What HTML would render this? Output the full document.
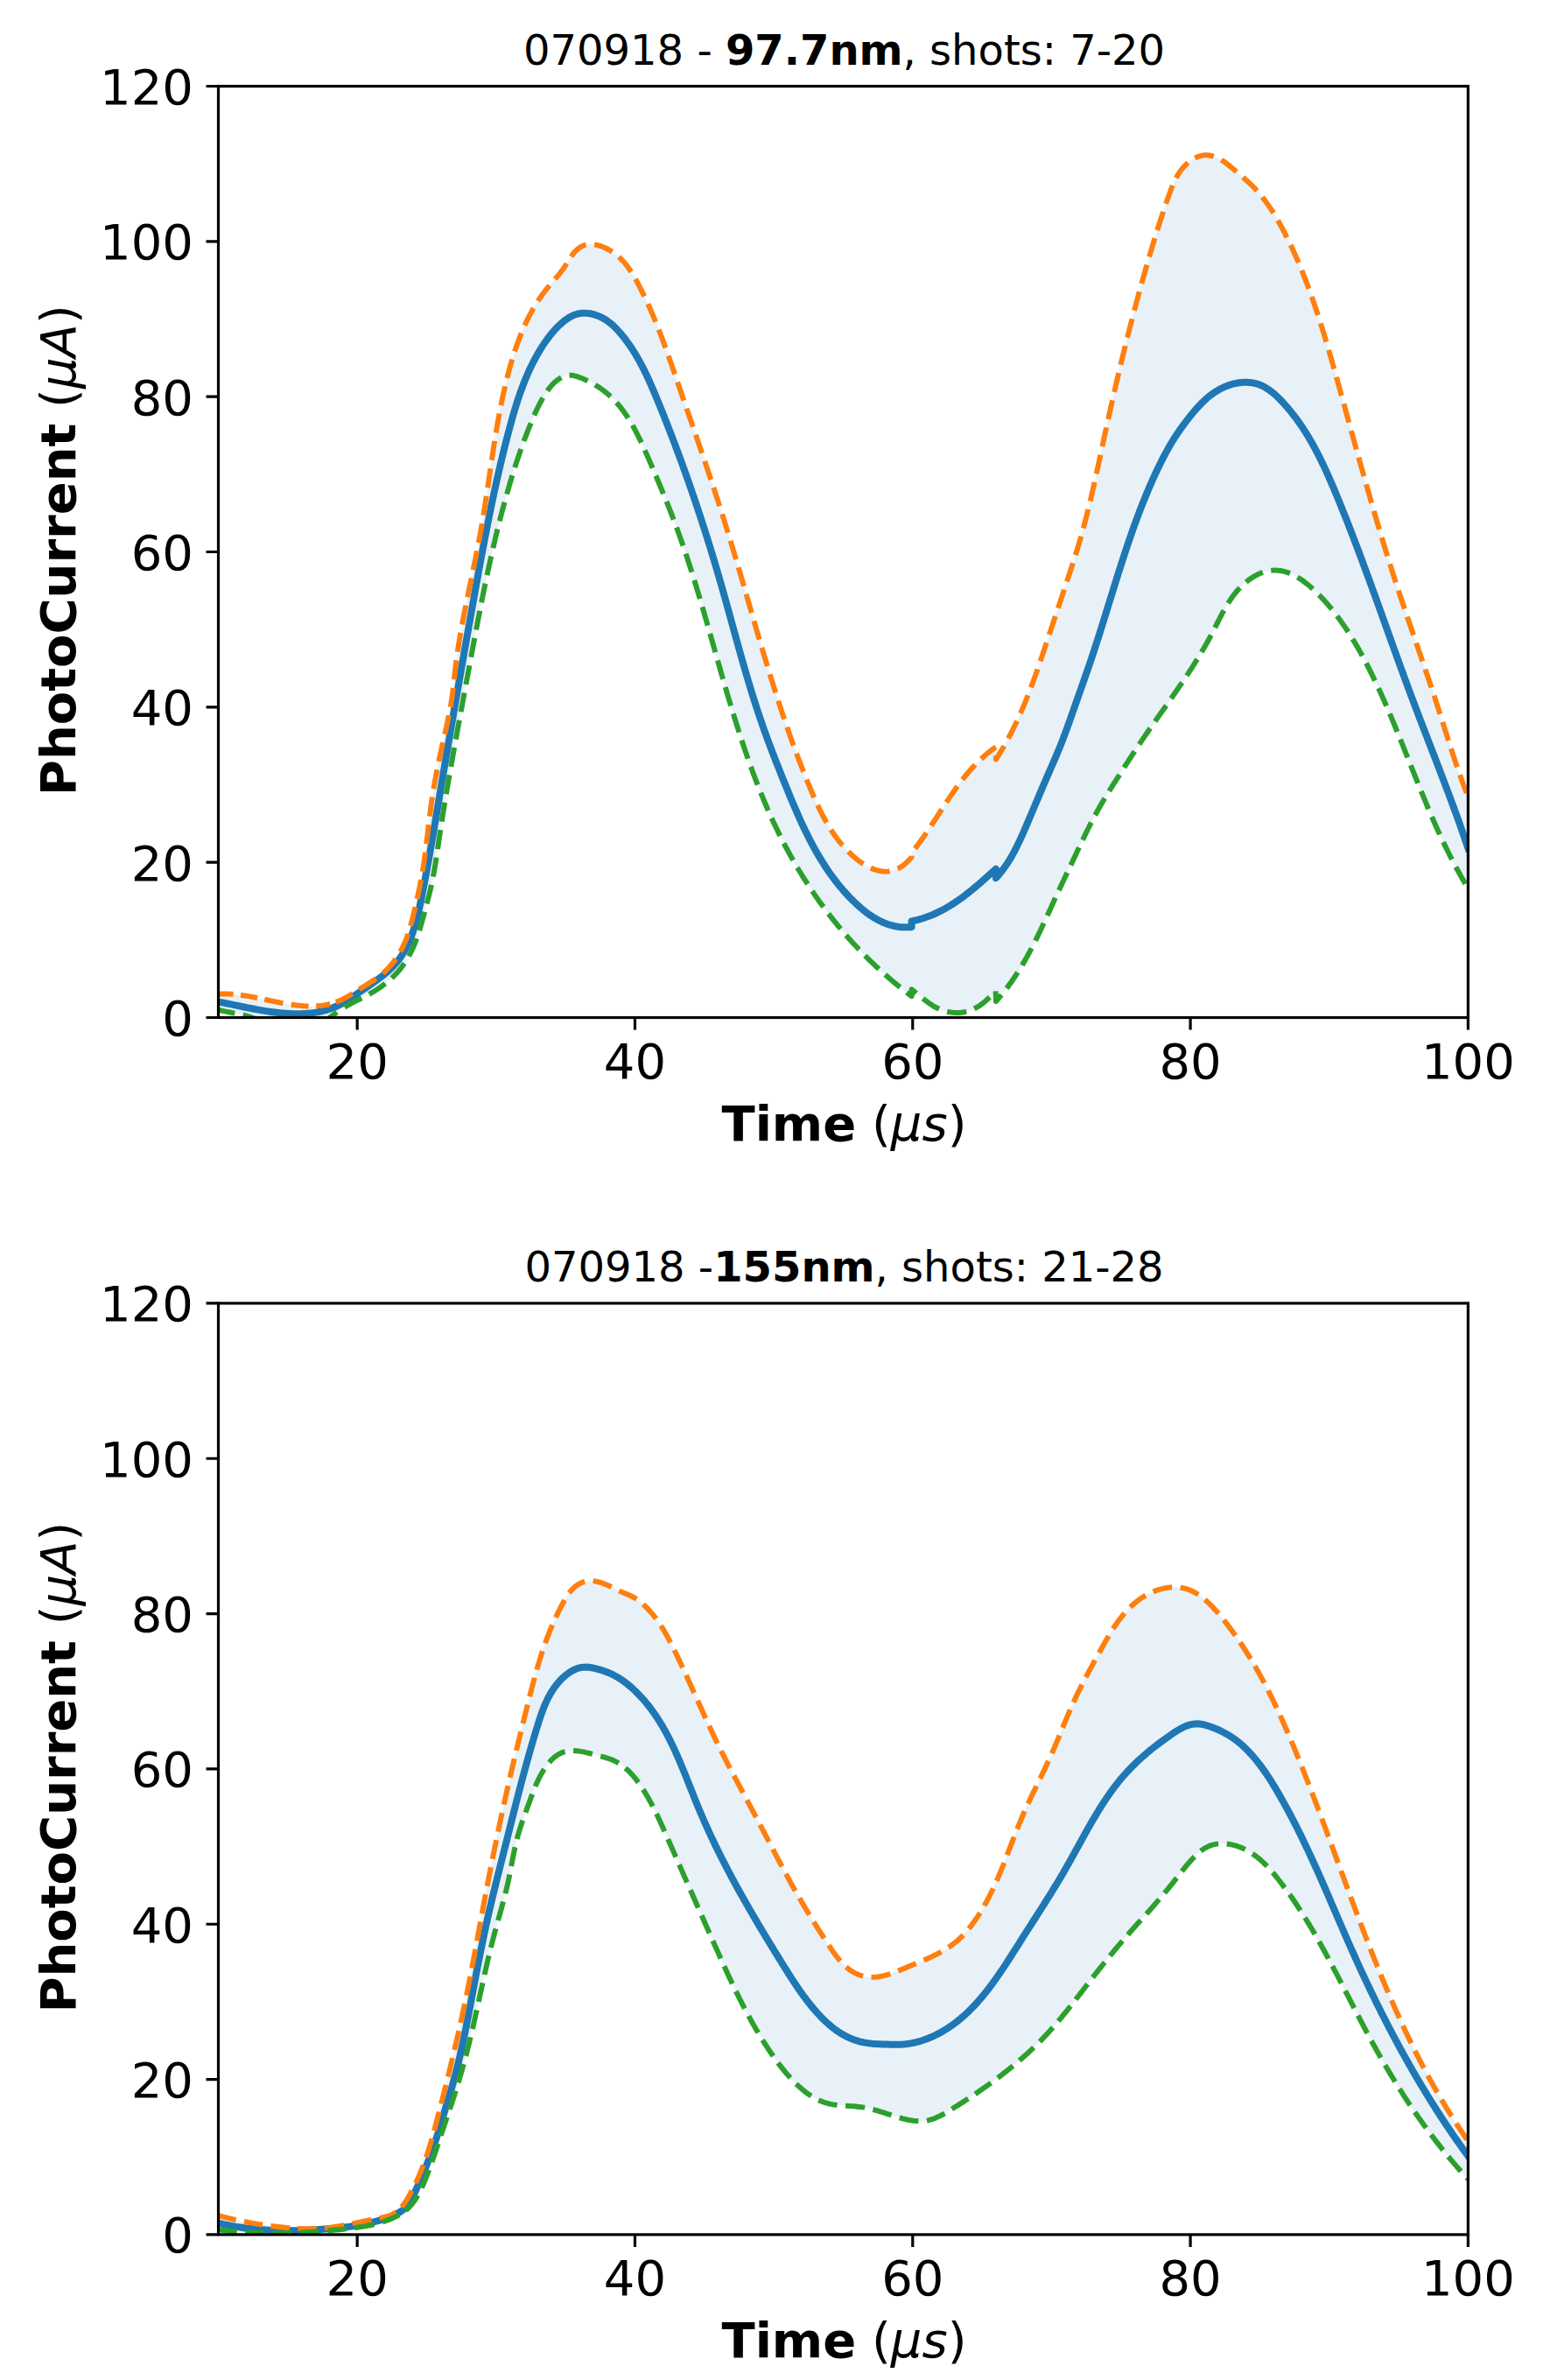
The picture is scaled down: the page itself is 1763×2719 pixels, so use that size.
<!DOCTYPE html>
<html lang="en"><head><meta charset="utf-8"><title>PhotoCurrent plots</title>
<style>html,body{margin:0;padding:0;background:#fff}svg{display:block}text{font-family:"DejaVu Sans","Liberation Sans",sans-serif;fill:#000}.b{font-weight:bold}.i{font-style:italic}</style></head><body>
<svg width="1763" height="2719" viewBox="0 0 1763 2719">
<rect width="1763" height="2719" fill="#fff"/>
<defs>
<clipPath id="c0"><rect x="249.50" y="98.50" width="1427.90" height="1064.00"/></clipPath>
<clipPath id="c1"><rect x="249.50" y="1488.90" width="1427.90" height="1064.00"/></clipPath>
</defs>
<g clip-path="url(#c0)" fill="none" stroke-linejoin="round">
<path d="M249.50 1135.76 L252.49 1135.56 L255.49 1135.46 L258.49 1135.46 L261.49 1135.54 L264.48 1135.70 L267.48 1135.92 L270.47 1136.22 L273.45 1136.57 L276.42 1136.96 L279.39 1137.41 L282.36 1137.89 L285.32 1138.41 L288.27 1138.95 L291.22 1139.52 L294.16 1140.11 L297.10 1140.71 L300.04 1141.32 L302.97 1141.94 L305.91 1142.56 L308.84 1143.19 L311.78 1143.80 L314.71 1144.41 L317.65 1145.01 L320.59 1145.59 L323.54 1146.14 L326.49 1146.68 L329.45 1147.18 L332.41 1147.65 L335.37 1148.08 L338.34 1148.47 L341.32 1148.81 L344.31 1149.09 L347.30 1149.32 L350.29 1149.48 L353.29 1149.58 L356.29 1149.59 L359.29 1149.52 L362.28 1149.36 L365.28 1149.11 L368.26 1148.75 L371.23 1148.29 L374.18 1147.71 L377.11 1147.01 L380.01 1146.19 L382.88 1145.24 L385.70 1144.17 L388.48 1142.97 L391.20 1141.67 L393.88 1140.28 L396.53 1138.83 L399.13 1137.32 L401.71 1135.76 L404.27 1134.18 L406.81 1132.58 L409.35 1130.97 L411.88 1129.37 L414.42 1127.78 L416.97 1126.20 L419.52 1124.62 L422.07 1123.02 L424.60 1121.40 L427.12 1119.74 L429.60 1118.04 L432.06 1116.28 L434.46 1114.44 L436.82 1112.53 L439.10 1110.53 L441.31 1108.44 L443.44 1106.27 L445.50 1104.02 L447.47 1101.70 L449.37 1099.32 L451.19 1096.88 L452.93 1094.38 L454.60 1091.83 L456.19 1089.23 L457.71 1086.58 L459.15 1083.89 L460.52 1081.16 L461.81 1078.39 L463.02 1075.58 L464.16 1072.75 L465.23 1069.89 L466.23 1067.01 L467.17 1064.12 L468.07 1061.22 L468.91 1058.31 L469.72 1055.40 L470.49 1052.48 L471.24 1049.56 L471.97 1046.64 L472.69 1043.72 L473.40 1040.80 L474.10 1037.88 L474.78 1034.95 L475.46 1032.02 L476.12 1029.09 L476.77 1026.15 L477.41 1023.21 L478.04 1020.27 L478.65 1017.33 L479.26 1014.39 L479.84 1011.44 L480.42 1008.49 L480.98 1005.54 L481.52 1002.58 L482.05 999.63 L482.56 996.67 L483.06 993.71 L483.55 990.75 L484.02 987.79 L484.47 984.83 L484.90 981.87 L485.32 978.91 L485.72 975.95 L486.12 972.93 L486.52 969.80 L486.92 966.59 L487.32 963.30 L487.72 959.94 L488.12 956.52 L488.52 953.07 L488.92 949.59 L489.32 946.12 L489.72 942.66 L490.12 939.24 L490.52 935.88 L490.92 932.59 L491.32 929.38 L491.72 926.26 L492.12 923.23 L492.53 920.25 L492.95 917.27 L493.38 914.29 L493.83 911.32 L494.29 908.35 L494.76 905.39 L495.24 902.42 L495.74 899.46 L496.24 896.51 L496.76 893.55 L497.29 890.60 L497.83 887.66 L498.38 884.71 L498.95 881.77 L499.52 878.82 L500.10 875.88 L500.70 872.95 L501.30 870.01 L501.91 867.08 L502.53 864.15 L503.16 861.22 L503.80 858.30 L504.45 855.37 L505.11 852.45 L505.77 849.52 L506.43 846.60 L507.10 843.67 L507.77 840.75 L508.43 837.82 L509.09 834.89 L509.75 831.96 L510.40 829.03 L511.04 826.09 L511.67 823.15 L512.28 820.21 L512.88 817.26 L513.47 814.31 L514.03 811.36 L514.58 808.41 L515.10 805.45 L515.59 802.49 L516.06 799.53 L516.50 796.58 L516.91 793.63 L517.31 790.53 L517.71 787.22 L518.11 783.70 L518.51 780.02 L518.91 776.23 L519.31 772.42 L519.71 768.68 L520.11 765.08 L520.51 761.66 L520.91 758.40 L521.31 755.29 L521.71 752.29 L522.12 749.31 L522.55 746.33 L522.99 743.36 L523.44 740.39 L523.90 737.42 L524.38 734.46 L524.86 731.49 L525.36 728.53 L525.86 725.58 L526.38 722.62 L526.90 719.67 L527.43 716.72 L527.97 713.77 L528.52 710.82 L529.08 707.88 L529.64 704.93 L530.21 701.99 L530.78 699.05 L531.36 696.10 L531.95 693.16 L532.54 690.22 L533.13 687.28 L533.73 684.35 L534.33 681.41 L534.93 678.47 L535.53 675.53 L536.14 672.59 L536.75 669.66 L537.36 666.72 L537.97 663.78 L538.58 660.85 L539.19 657.91 L539.79 654.97 L540.40 652.03 L541.01 649.09 L541.61 646.15 L542.21 643.21 L542.81 640.27 L543.40 637.33 L543.99 634.39 L544.58 631.44 L545.16 628.50 L545.74 625.55 L546.31 622.60 L546.87 619.65 L547.43 616.70 L547.98 613.75 L548.52 610.80 L549.05 607.85 L549.58 604.89 L550.10 601.94 L550.61 598.98 L551.11 596.02 L551.60 593.06 L552.09 590.10 L552.57 587.14 L553.05 584.18 L553.52 581.22 L553.98 578.26 L554.44 575.29 L554.90 572.33 L555.35 569.37 L555.80 566.40 L556.24 563.43 L556.69 560.47 L557.13 557.50 L557.56 554.54 L558.00 551.57 L558.44 548.60 L558.87 545.63 L559.31 542.66 L559.74 539.70 L560.18 536.73 L560.62 533.76 L561.06 530.79 L561.50 527.82 L561.94 524.85 L562.39 521.88 L562.83 518.92 L563.29 515.95 L563.74 512.98 L564.20 510.02 L564.67 507.05 L565.14 504.09 L565.61 501.13 L566.10 498.16 L566.58 495.20 L567.08 492.24 L567.58 489.29 L568.09 486.33 L568.61 483.38 L569.13 480.42 L569.67 477.47 L570.21 474.53 L570.77 471.58 L571.33 468.64 L571.90 465.69 L572.48 462.76 L573.08 459.82 L573.69 456.89 L574.30 453.96 L574.93 451.03 L575.58 448.11 L576.23 445.19 L576.90 442.27 L577.58 439.36 L578.28 436.45 L578.99 433.54 L579.71 430.64 L580.45 427.74 L581.20 424.85 L581.98 421.96 L582.77 419.08 L583.57 416.21 L584.40 413.34 L585.25 410.48 L586.11 407.62 L587.00 404.77 L587.92 401.93 L588.85 399.10 L589.81 396.28 L590.80 393.46 L591.81 390.66 L592.84 387.87 L593.91 385.09 L595.00 382.31 L596.13 379.56 L597.28 376.81 L598.46 374.08 L599.68 371.36 L600.93 368.66 L602.21 365.98 L603.53 363.31 L604.89 360.66 L606.28 358.03 L607.70 355.42 L609.17 352.83 L610.67 350.27 L612.21 347.72 L613.79 345.21 L615.42 342.71 L617.08 340.25 L618.78 337.81 L620.53 335.40 L622.32 333.02 L624.15 330.68 L626.02 328.37 L627.94 326.08 L629.89 323.81 L631.85 321.55 L633.82 319.28 L635.78 317.00 L637.72 314.69 L639.62 312.34 L641.48 309.94 L643.29 307.50 L645.02 304.99 L646.67 302.44 L648.27 299.88 L649.86 297.34 L651.45 294.83 L653.10 292.38 L654.83 290.01 L656.68 287.76 L658.69 285.68 L660.89 283.80 L663.30 282.20 L665.92 280.91 L668.70 279.96 L671.61 279.35 L674.58 279.10 L677.58 279.20 L680.56 279.63 L683.51 280.31 L686.40 281.18 L689.24 282.22 L692.02 283.42 L694.74 284.77 L697.38 286.26 L699.94 287.89 L702.43 289.65 L704.82 291.53 L707.13 293.52 L709.34 295.62 L711.46 297.82 L713.48 300.11 L715.41 302.47 L717.25 304.90 L719.02 307.38 L720.71 309.91 L722.34 312.47 L723.91 315.07 L725.43 317.69 L726.91 320.33 L728.35 322.99 L729.76 325.65 L731.15 328.33 L732.52 331.01 L733.87 333.71 L735.20 336.41 L736.51 339.12 L737.81 341.84 L739.08 344.57 L740.34 347.31 L741.58 350.05 L742.81 352.80 L744.01 355.56 L745.21 358.33 L746.38 361.10 L747.55 363.87 L748.69 366.66 L749.83 369.44 L750.95 372.24 L752.06 375.04 L753.15 377.84 L754.24 380.64 L755.31 383.45 L756.37 386.27 L757.43 389.08 L758.47 391.90 L759.50 394.73 L760.53 397.55 L761.55 400.38 L762.56 403.21 L763.57 406.04 L764.56 408.87 L765.56 411.71 L766.55 414.54 L767.53 417.38 L768.52 420.22 L769.49 423.05 L770.47 425.89 L771.45 428.73 L772.42 431.57 L773.39 434.41 L774.37 437.24 L775.34 440.08 L776.32 442.92 L777.29 445.75 L778.27 448.59 L779.25 451.42 L780.23 454.26 L781.21 457.09 L782.19 459.93 L783.17 462.77 L784.15 465.60 L785.13 468.44 L786.11 471.27 L787.09 474.11 L788.07 476.94 L789.05 479.78 L790.03 482.61 L791.01 485.45 L791.98 488.29 L792.96 491.12 L793.94 493.96 L794.92 496.80 L795.89 499.63 L796.87 502.47 L797.84 505.31 L798.82 508.15 L799.79 510.99 L800.76 513.83 L801.73 516.67 L802.70 519.51 L803.67 522.35 L804.63 525.19 L805.60 528.03 L806.56 530.87 L807.52 533.72 L808.48 536.56 L809.44 539.41 L810.39 542.25 L811.34 545.10 L812.29 547.95 L813.24 550.79 L814.19 553.64 L815.13 556.49 L816.07 559.34 L817.01 562.19 L817.95 565.05 L818.88 567.90 L819.81 570.76 L820.73 573.61 L821.66 576.47 L822.58 579.33 L823.50 582.18 L824.41 585.04 L825.32 587.91 L826.23 590.77 L827.13 593.63 L828.03 596.50 L828.93 599.36 L829.82 602.23 L830.71 605.10 L831.59 607.97 L832.47 610.84 L833.35 613.71 L834.23 616.58 L835.10 619.45 L835.97 622.33 L836.84 625.20 L837.70 628.07 L838.56 630.95 L839.42 633.83 L840.28 636.70 L841.13 639.58 L841.99 642.46 L842.84 645.34 L843.69 648.22 L844.53 651.09 L845.38 653.97 L846.22 656.85 L847.07 659.73 L847.91 662.61 L848.75 665.50 L849.59 668.38 L850.42 671.26 L851.26 674.14 L852.10 677.02 L852.93 679.90 L853.77 682.78 L854.61 685.66 L855.44 688.55 L856.28 691.43 L857.11 694.31 L857.95 697.19 L858.78 700.07 L859.62 702.95 L860.46 705.83 L861.29 708.71 L862.13 711.59 L862.97 714.47 L863.81 717.35 L864.65 720.23 L865.50 723.11 L866.34 725.98 L867.19 728.86 L868.03 731.74 L868.88 734.61 L869.73 737.49 L870.59 740.36 L871.44 743.24 L872.30 746.11 L873.16 748.98 L874.02 751.86 L874.88 754.73 L875.75 757.60 L876.62 760.47 L877.49 763.33 L878.37 766.20 L879.25 769.07 L880.13 771.93 L881.02 774.79 L881.90 777.66 L882.80 780.52 L883.69 783.38 L884.59 786.24 L885.50 789.09 L886.41 791.95 L887.32 794.80 L888.24 797.66 L889.16 800.51 L890.09 803.36 L891.02 806.21 L891.95 809.05 L892.89 811.90 L893.84 814.74 L894.79 817.58 L895.74 820.42 L896.71 823.26 L897.67 826.10 L898.64 828.93 L899.62 831.76 L900.61 834.59 L901.60 837.42 L902.59 840.24 L903.59 843.07 L904.60 845.89 L905.62 848.70 L906.64 851.52 L907.66 854.33 L908.70 857.14 L909.74 859.95 L910.79 862.76 L911.84 865.56 L912.90 868.36 L913.97 871.16 L915.05 873.95 L916.13 876.74 L917.22 879.53 L918.32 882.32 L919.43 885.10 L920.54 887.88 L921.66 890.66 L922.79 893.43 L923.93 896.20 L925.08 898.96 L926.23 901.73 L927.39 904.48 L928.57 907.23 L929.76 909.97 L930.96 912.71 L932.18 915.43 L933.42 918.15 L934.69 920.85 L935.97 923.55 L937.28 926.23 L938.61 928.89 L939.98 931.54 L941.37 934.17 L942.80 936.79 L944.25 939.38 L945.75 941.95 L947.28 944.51 L948.85 947.03 L950.46 949.53 L952.11 952.00 L953.81 954.45 L955.54 956.86 L957.33 959.24 L959.16 961.58 L961.03 963.88 L962.96 966.14 L964.93 968.37 L966.96 970.54 L969.03 972.68 L971.15 974.76 L973.32 976.79 L975.54 978.77 L977.81 980.69 L980.13 982.55 L982.51 984.33 L984.94 986.04 L987.44 987.65 L989.99 989.17 L992.61 990.56 L995.30 991.83 L998.05 992.96 L1000.87 993.91 L1003.74 994.68 L1006.67 995.24 L1009.64 995.57 L1012.63 995.63 L1015.63 995.43 L1018.61 994.93 L1021.53 994.15 L1024.38 993.09 L1027.13 991.76 L1029.76 990.20 L1032.27 988.43 L1034.64 986.49 L1036.87 984.39 L1038.99 982.16 L1040.97 979.83 L1041.60 979.05 L1041.60 974.18 L1043.49 971.85 L1045.36 969.49 L1047.21 967.10 L1049.03 964.70 L1050.83 962.28 L1052.60 959.84 L1054.35 957.39 L1056.08 954.93 L1057.80 952.45 L1059.49 949.97 L1061.18 947.47 L1062.85 944.97 L1064.50 942.46 L1066.15 939.95 L1067.79 937.43 L1069.43 934.92 L1071.06 932.40 L1072.69 929.88 L1074.31 927.36 L1075.94 924.84 L1077.57 922.32 L1079.21 919.81 L1080.85 917.31 L1082.50 914.81 L1084.16 912.32 L1085.83 909.84 L1087.52 907.37 L1089.22 904.91 L1090.93 902.46 L1092.67 900.03 L1094.42 897.61 L1096.20 895.21 L1098.00 892.83 L1099.82 890.46 L1101.67 888.12 L1103.54 885.80 L1105.45 883.51 L1107.39 881.24 L1109.35 879.00 L1111.35 876.78 L1113.39 874.60 L1115.45 872.46 L1117.56 870.34 L1119.69 868.26 L1121.87 866.23 L1124.08 864.23 L1126.33 862.27 L1128.61 860.36 L1130.94 858.49 L1133.30 856.67 L1135.69 854.87 L1137.97 853.17 L1137.97 867.56 L1139.58 865.02 L1141.18 862.46 L1142.75 859.89 L1144.30 857.30 L1145.83 854.70 L1147.33 852.09 L1148.82 849.47 L1150.28 846.83 L1151.72 844.18 L1153.14 841.52 L1154.53 838.85 L1155.91 836.17 L1157.27 833.48 L1158.60 830.78 L1159.92 828.06 L1161.21 825.34 L1162.49 822.61 L1163.75 819.88 L1164.99 817.13 L1166.21 814.38 L1167.41 811.61 L1168.60 808.85 L1169.77 806.07 L1170.93 803.29 L1172.07 800.50 L1173.19 797.71 L1174.30 794.91 L1175.40 792.11 L1176.48 789.30 L1177.55 786.49 L1178.61 783.67 L1179.65 780.85 L1180.69 778.02 L1181.71 775.20 L1182.73 772.37 L1183.74 769.53 L1184.73 766.70 L1185.72 763.86 L1186.71 761.02 L1187.69 758.18 L1188.66 755.34 L1189.62 752.50 L1190.59 749.65 L1191.55 746.81 L1192.50 743.96 L1193.45 741.11 L1194.41 738.27 L1195.36 735.42 L1196.30 732.58 L1197.25 729.73 L1198.20 726.88 L1199.15 724.04 L1200.10 721.19 L1201.05 718.35 L1202.00 715.50 L1202.95 712.65 L1203.90 709.81 L1204.85 706.96 L1205.79 704.11 L1206.74 701.27 L1207.69 698.42 L1208.64 695.58 L1209.59 692.73 L1210.53 689.88 L1211.48 687.03 L1212.43 684.19 L1213.37 681.34 L1214.32 678.49 L1215.26 675.65 L1216.21 672.80 L1217.15 669.95 L1218.10 667.10 L1219.04 664.25 L1219.98 661.41 L1220.93 658.56 L1221.87 655.71 L1222.81 652.85 L1223.74 650.00 L1224.67 647.15 L1225.60 644.29 L1226.52 641.43 L1227.44 638.57 L1228.34 635.70 L1229.24 632.83 L1230.13 629.96 L1231.02 627.09 L1231.89 624.21 L1232.75 621.32 L1233.60 618.44 L1234.43 615.55 L1235.26 612.65 L1236.07 609.76 L1236.88 606.86 L1237.67 603.96 L1238.45 601.06 L1239.23 598.15 L1239.99 595.24 L1240.74 592.33 L1241.49 589.42 L1242.22 586.51 L1242.95 583.59 L1243.67 580.67 L1244.38 577.75 L1245.09 574.83 L1245.78 571.91 L1246.47 568.99 L1247.16 566.06 L1247.84 563.14 L1248.51 560.21 L1249.18 557.28 L1249.84 554.35 L1250.49 551.42 L1251.15 548.49 L1251.80 545.56 L1252.44 542.63 L1253.08 539.70 L1253.72 536.76 L1254.36 533.83 L1254.99 530.90 L1255.62 527.96 L1256.25 525.03 L1256.88 522.10 L1257.51 519.16 L1258.13 516.23 L1258.76 513.30 L1259.39 510.36 L1260.01 507.43 L1260.64 504.50 L1261.27 501.56 L1261.90 498.63 L1262.54 495.70 L1263.17 492.77 L1263.81 489.84 L1264.44 486.91 L1265.08 483.98 L1265.73 481.05 L1266.37 478.12 L1267.02 475.19 L1267.67 472.26 L1268.32 469.34 L1268.97 466.41 L1269.63 463.48 L1270.28 460.56 L1270.94 457.63 L1271.61 454.71 L1272.27 451.78 L1272.94 448.86 L1273.61 445.94 L1274.28 443.01 L1274.95 440.09 L1275.63 437.17 L1276.31 434.25 L1276.99 431.33 L1277.68 428.41 L1278.37 425.49 L1279.06 422.58 L1279.75 419.66 L1280.45 416.74 L1281.15 413.83 L1281.85 410.91 L1282.55 408.00 L1283.26 405.08 L1283.97 402.17 L1284.69 399.26 L1285.40 396.35 L1286.12 393.44 L1286.85 390.53 L1287.57 387.62 L1288.30 384.71 L1289.03 381.81 L1289.77 378.90 L1290.51 375.99 L1291.25 373.09 L1292.00 370.19 L1292.74 367.28 L1293.50 364.38 L1294.25 361.48 L1295.01 358.58 L1295.77 355.68 L1296.54 352.78 L1297.31 349.89 L1298.08 346.99 L1298.86 344.09 L1299.64 341.20 L1300.42 338.31 L1301.21 335.41 L1302.00 332.52 L1302.79 329.63 L1303.59 326.74 L1304.39 323.86 L1305.20 320.97 L1306.01 318.08 L1306.82 315.20 L1307.64 312.32 L1308.46 309.43 L1309.29 306.55 L1310.12 303.67 L1310.95 300.79 L1311.79 297.91 L1312.63 295.04 L1313.47 292.16 L1314.32 289.29 L1315.17 286.41 L1316.03 283.54 L1316.89 280.67 L1317.76 277.80 L1318.63 274.93 L1319.50 272.07 L1320.38 269.20 L1321.26 266.34 L1322.15 263.48 L1323.04 260.62 L1323.94 257.76 L1324.85 254.91 L1325.76 252.05 L1326.68 249.20 L1327.60 246.35 L1328.54 243.51 L1329.48 240.67 L1330.43 237.83 L1331.39 235.00 L1332.37 232.17 L1333.35 229.34 L1334.34 226.52 L1335.35 223.71 L1336.37 220.90 L1337.40 218.09 L1338.45 215.31 L1339.54 212.54 L1340.67 209.82 L1341.87 207.13 L1343.16 204.49 L1344.53 201.90 L1346.01 199.38 L1347.61 196.93 L1349.32 194.55 L1351.15 192.26 L1353.09 190.06 L1355.15 187.96 L1357.32 185.97 L1359.60 184.11 L1362.00 182.41 L1364.51 180.88 L1367.15 179.58 L1369.91 178.54 L1372.78 177.80 L1375.73 177.36 L1378.72 177.24 L1381.71 177.45 L1384.69 178.00 L1387.60 178.86 L1390.42 180.00 L1393.15 181.35 L1395.78 182.88 L1398.32 184.54 L1400.78 186.31 L1403.19 188.15 L1405.54 190.05 L1407.85 191.97 L1410.15 193.92 L1412.43 195.87 L1414.71 197.81 L1417.00 199.75 L1419.28 201.70 L1421.56 203.67 L1423.81 205.66 L1426.05 207.68 L1428.26 209.74 L1430.43 211.84 L1432.55 214.00 L1434.63 216.19 L1436.67 218.43 L1438.65 220.72 L1440.60 223.04 L1442.50 225.39 L1444.35 227.78 L1446.16 230.21 L1447.93 232.66 L1449.66 235.13 L1451.36 237.64 L1453.02 240.17 L1454.64 242.71 L1456.23 245.28 L1457.79 247.87 L1459.32 250.47 L1460.82 253.09 L1462.29 255.72 L1463.74 258.37 L1465.16 261.03 L1466.57 263.69 L1467.96 266.37 L1469.32 269.05 L1470.67 271.74 L1472.01 274.44 L1473.32 277.15 L1474.62 279.87 L1475.91 282.59 L1477.17 285.33 L1478.43 288.06 L1479.66 290.81 L1480.88 293.56 L1482.09 296.32 L1483.28 299.09 L1484.45 301.86 L1485.61 304.64 L1486.76 307.42 L1487.89 310.21 L1489.01 313.00 L1490.12 315.80 L1491.21 318.61 L1492.29 321.42 L1493.36 324.23 L1494.42 327.05 L1495.46 329.87 L1496.49 332.69 L1497.51 335.52 L1498.53 338.36 L1499.52 341.19 L1500.51 344.03 L1501.49 346.88 L1502.46 349.72 L1503.42 352.57 L1504.37 355.43 L1505.31 358.28 L1506.25 361.14 L1507.17 364.00 L1508.09 366.86 L1509.00 369.73 L1509.90 372.60 L1510.79 375.46 L1511.68 378.34 L1512.56 381.21 L1513.43 384.08 L1514.30 386.96 L1515.16 389.84 L1516.02 392.72 L1516.87 395.60 L1517.72 398.48 L1518.56 401.36 L1519.40 404.25 L1520.23 407.13 L1521.06 410.02 L1521.88 412.91 L1522.70 415.79 L1523.52 418.68 L1524.34 421.57 L1525.15 424.46 L1525.96 427.35 L1526.77 430.24 L1527.57 433.13 L1528.38 436.02 L1529.18 438.91 L1529.99 441.81 L1530.79 444.70 L1531.59 447.59 L1532.39 450.48 L1533.19 453.37 L1533.99 456.26 L1534.79 459.15 L1535.59 462.05 L1536.39 464.94 L1537.19 467.83 L1537.99 470.72 L1538.79 473.61 L1539.58 476.51 L1540.38 479.40 L1541.18 482.29 L1541.98 485.18 L1542.78 488.07 L1543.58 490.96 L1544.38 493.85 L1545.18 496.74 L1545.98 499.64 L1546.78 502.53 L1547.58 505.42 L1548.39 508.31 L1549.19 511.20 L1549.99 514.09 L1550.80 516.98 L1551.60 519.87 L1552.41 522.75 L1553.22 525.64 L1554.02 528.53 L1554.83 531.42 L1555.64 534.31 L1556.46 537.19 L1557.27 540.08 L1558.08 542.97 L1558.90 545.85 L1559.72 548.74 L1560.54 551.62 L1561.36 554.51 L1562.18 557.39 L1563.00 560.28 L1563.83 563.16 L1564.65 566.04 L1565.48 568.92 L1566.31 571.80 L1567.14 574.68 L1567.98 577.56 L1568.82 580.44 L1569.65 583.32 L1570.49 586.20 L1571.34 589.08 L1572.18 591.95 L1573.03 594.83 L1573.88 597.71 L1574.73 600.58 L1575.59 603.45 L1576.45 606.33 L1577.31 609.20 L1578.17 612.07 L1579.04 614.94 L1579.90 617.81 L1580.78 620.68 L1581.65 623.55 L1582.53 626.41 L1583.41 629.28 L1584.29 632.14 L1585.18 635.01 L1586.07 637.87 L1586.96 640.73 L1587.86 643.59 L1588.75 646.45 L1589.66 649.31 L1590.56 652.17 L1591.47 655.02 L1592.39 657.88 L1593.30 660.73 L1594.22 663.58 L1595.15 666.43 L1596.08 669.28 L1597.01 672.13 L1597.94 674.98 L1598.88 677.83 L1599.82 680.67 L1600.77 683.52 L1601.72 686.36 L1602.67 689.20 L1603.63 692.04 L1604.58 694.89 L1605.54 697.73 L1606.51 700.57 L1607.47 703.40 L1608.44 706.24 L1609.41 709.08 L1610.38 711.92 L1611.35 714.76 L1612.32 717.59 L1613.29 720.43 L1614.27 723.27 L1615.24 726.10 L1616.22 728.94 L1617.20 731.78 L1618.17 734.61 L1619.15 737.45 L1620.13 740.29 L1621.10 743.12 L1622.08 745.96 L1623.05 748.80 L1624.03 751.64 L1625.00 754.47 L1625.97 757.31 L1626.94 760.15 L1627.91 762.99 L1628.88 765.83 L1629.85 768.68 L1630.81 771.52 L1631.77 774.36 L1632.73 777.21 L1633.69 780.05 L1634.64 782.90 L1635.60 785.75 L1636.54 788.59 L1637.49 791.44 L1638.43 794.30 L1639.37 797.15 L1640.30 800.00 L1641.23 802.86 L1642.16 805.72 L1643.08 808.57 L1644.00 811.43 L1644.91 814.29 L1645.82 817.15 L1646.73 820.01 L1647.64 822.87 L1648.54 825.74 L1649.45 828.60 L1650.35 831.46 L1651.26 834.32 L1652.16 837.18 L1653.07 840.03 L1653.97 842.89 L1654.88 845.75 L1655.80 848.60 L1656.71 851.46 L1657.63 854.31 L1658.56 857.16 L1659.49 860.01 L1660.42 862.85 L1661.36 865.70 L1662.31 868.54 L1663.26 871.38 L1664.22 874.21 L1665.19 877.05 L1666.17 879.88 L1667.16 882.70 L1668.15 885.52 L1669.16 888.34 L1670.17 891.16 L1671.20 893.97 L1672.24 896.77 L1673.28 899.58 L1674.34 902.37 L1675.42 905.16 L1676.50 907.95 L1677.40 910.24 L1677.40 1015.01 L1676.97 1014.29 L1675.43 1011.72 L1673.91 1009.15 L1672.41 1006.56 L1670.91 1003.97 L1669.44 1001.37 L1667.97 998.76 L1666.53 996.15 L1665.09 993.52 L1663.67 990.89 L1662.26 988.25 L1660.87 985.61 L1659.49 982.95 L1658.12 980.29 L1656.76 977.63 L1655.41 974.96 L1654.08 972.28 L1652.76 969.59 L1651.45 966.90 L1650.15 964.21 L1648.86 961.51 L1647.59 958.80 L1646.32 956.09 L1645.06 953.37 L1643.81 950.65 L1642.57 947.93 L1641.34 945.20 L1640.12 942.47 L1638.90 939.73 L1637.70 936.99 L1636.50 934.25 L1635.31 931.50 L1634.13 928.75 L1632.95 925.99 L1631.78 923.24 L1630.61 920.48 L1629.45 917.71 L1628.30 914.95 L1627.15 912.18 L1626.01 909.41 L1624.87 906.64 L1623.74 903.87 L1622.60 901.09 L1621.48 898.31 L1620.35 895.53 L1619.23 892.75 L1618.11 889.97 L1617.00 887.19 L1615.88 884.41 L1614.77 881.62 L1613.66 878.84 L1612.54 876.05 L1611.43 873.26 L1610.32 870.48 L1609.21 867.69 L1608.10 864.90 L1606.99 862.12 L1605.88 859.33 L1604.77 856.54 L1603.65 853.75 L1602.53 850.97 L1601.41 848.18 L1600.29 845.40 L1599.16 842.62 L1598.04 839.83 L1596.90 837.05 L1595.77 834.27 L1594.63 831.50 L1593.48 828.72 L1592.33 825.94 L1591.17 823.17 L1590.01 820.40 L1588.85 817.63 L1587.67 814.87 L1586.49 812.10 L1585.30 809.34 L1584.11 806.58 L1582.91 803.83 L1581.70 801.08 L1580.48 798.33 L1579.25 795.58 L1578.02 792.84 L1576.77 790.11 L1575.52 787.37 L1574.26 784.65 L1572.98 781.92 L1571.70 779.20 L1570.40 776.49 L1569.10 773.78 L1567.78 771.07 L1566.45 768.37 L1565.11 765.68 L1563.76 762.99 L1562.39 760.31 L1561.01 757.64 L1559.62 754.97 L1558.21 752.31 L1556.78 749.66 L1555.34 747.01 L1553.89 744.38 L1552.41 741.75 L1550.92 739.14 L1549.40 736.53 L1547.87 733.94 L1546.32 731.35 L1544.75 728.78 L1543.15 726.23 L1541.54 723.68 L1539.90 721.15 L1538.24 718.63 L1536.56 716.13 L1534.85 713.65 L1533.12 711.18 L1531.36 708.73 L1529.58 706.29 L1527.78 703.88 L1525.95 701.48 L1524.09 699.10 L1522.21 696.74 L1520.30 694.41 L1518.37 692.10 L1516.41 689.80 L1514.42 687.54 L1512.41 685.29 L1510.36 683.07 L1508.29 680.88 L1506.18 678.72 L1504.04 676.60 L1501.86 674.51 L1499.63 672.46 L1497.37 670.46 L1495.07 668.50 L1492.71 666.60 L1490.32 664.76 L1487.87 662.98 L1485.37 661.27 L1482.82 659.65 L1480.20 658.13 L1477.52 656.72 L1474.77 655.45 L1471.96 654.32 L1469.08 653.37 L1466.16 652.61 L1463.20 652.05 L1460.21 651.70 L1457.21 651.55 L1454.21 651.62 L1451.24 651.89 L1448.29 652.38 L1445.40 653.07 L1442.56 653.96 L1439.79 655.03 L1437.09 656.26 L1434.46 657.63 L1431.89 659.13 L1429.40 660.74 L1426.98 662.46 L1424.63 664.26 L1422.35 666.16 L1420.14 668.13 L1418.01 670.19 L1415.95 672.31 L1413.96 674.50 L1412.05 676.76 L1410.20 679.07 L1408.42 681.44 L1406.70 683.85 L1405.04 686.31 L1403.43 688.80 L1401.88 691.33 L1400.37 693.89 L1398.90 696.47 L1397.46 699.08 L1396.05 701.71 L1394.66 704.35 L1393.29 707.01 L1391.94 709.68 L1390.59 712.35 L1389.24 715.03 L1387.88 717.71 L1386.51 720.39 L1385.13 723.07 L1383.73 725.74 L1382.31 728.39 L1380.87 731.04 L1379.41 733.68 L1377.94 736.30 L1376.44 738.92 L1374.93 741.52 L1373.41 744.12 L1371.87 746.70 L1370.31 749.28 L1368.74 751.85 L1367.16 754.40 L1365.57 756.96 L1363.96 759.50 L1362.34 762.03 L1360.72 764.56 L1359.08 767.08 L1357.43 769.60 L1355.77 772.10 L1354.11 774.61 L1352.44 777.10 L1350.76 779.59 L1349.07 782.08 L1347.38 784.56 L1345.68 787.04 L1343.98 789.51 L1342.27 791.98 L1340.56 794.45 L1338.84 796.91 L1337.12 799.37 L1335.40 801.83 L1333.67 804.29 L1331.95 806.74 L1330.22 809.20 L1328.50 811.65 L1326.77 814.10 L1325.04 816.56 L1323.32 819.01 L1321.59 821.46 L1319.87 823.92 L1318.15 826.37 L1316.43 828.83 L1314.72 831.29 L1313.01 833.75 L1311.31 836.22 L1309.61 838.69 L1307.91 841.16 L1306.23 843.64 L1304.55 846.12 L1302.87 848.60 L1301.21 851.09 L1299.55 853.58 L1297.90 856.08 L1296.25 858.59 L1294.61 861.09 L1292.97 863.60 L1291.34 866.12 L1289.71 868.64 L1288.09 871.15 L1286.46 873.68 L1284.84 876.20 L1283.23 878.72 L1281.61 881.25 L1279.99 883.78 L1278.37 886.30 L1276.76 888.83 L1275.14 891.36 L1273.52 893.88 L1271.91 896.41 L1270.30 898.94 L1268.70 901.47 L1267.12 904.01 L1265.54 906.55 L1263.98 909.10 L1262.43 911.66 L1260.90 914.23 L1259.38 916.80 L1257.88 919.39 L1256.40 921.98 L1254.93 924.59 L1253.48 927.20 L1252.05 929.82 L1250.63 932.46 L1249.23 935.10 L1247.85 937.75 L1246.48 940.40 L1245.13 943.07 L1243.78 945.74 L1242.45 948.42 L1241.13 951.11 L1239.82 953.80 L1238.52 956.50 L1237.22 959.20 L1235.93 961.90 L1234.65 964.61 L1233.37 967.32 L1232.09 970.03 L1230.81 972.75 L1229.54 975.46 L1228.26 978.18 L1226.98 980.89 L1225.70 983.60 L1224.42 986.32 L1223.14 989.03 L1221.85 991.74 L1220.57 994.45 L1219.29 997.17 L1218.00 999.88 L1216.72 1002.59 L1215.44 1005.30 L1214.16 1008.01 L1212.89 1010.73 L1211.62 1013.44 L1210.35 1016.16 L1209.08 1018.87 L1207.82 1021.59 L1206.56 1024.31 L1205.30 1027.03 L1204.05 1029.76 L1202.81 1032.48 L1201.56 1035.21 L1200.31 1037.94 L1199.07 1040.67 L1197.82 1043.40 L1196.57 1046.13 L1195.32 1048.86 L1194.07 1051.59 L1192.80 1054.31 L1191.54 1057.04 L1190.26 1059.76 L1188.98 1062.48 L1187.68 1065.19 L1186.38 1067.90 L1185.06 1070.61 L1183.73 1073.31 L1182.39 1076.00 L1181.04 1078.69 L1179.66 1081.37 L1178.27 1084.04 L1176.87 1086.70 L1175.44 1089.36 L1174.00 1092.00 L1172.54 1094.64 L1171.05 1097.26 L1169.54 1099.87 L1168.01 1102.47 L1166.46 1105.05 L1164.88 1107.62 L1163.28 1110.18 L1161.65 1112.72 L1160.00 1115.24 L1158.32 1117.75 L1156.61 1120.23 L1154.87 1122.70 L1153.11 1125.15 L1151.32 1127.58 L1149.50 1129.98 L1147.65 1132.37 L1145.77 1134.73 L1143.86 1137.07 L1141.93 1139.38 L1139.96 1141.67 L1137.97 1143.93 L1137.97 1131.90 L1137.60 1132.30 L1134.60 1135.49 L1131.60 1138.51 L1128.60 1141.26 L1125.60 1143.94 L1122.60 1146.46 L1119.60 1148.69 L1116.60 1150.51 L1113.60 1152.14 L1110.60 1153.59 L1107.60 1154.77 L1104.60 1155.59 L1101.60 1156.23 L1098.60 1156.74 L1095.60 1156.99 L1092.60 1156.94 L1089.60 1156.74 L1086.60 1156.43 L1083.60 1156.04 L1080.60 1155.36 L1077.60 1154.40 L1074.60 1153.24 L1071.60 1151.96 L1068.60 1150.58 L1065.60 1148.87 L1062.60 1146.87 L1059.60 1144.69 L1056.60 1142.44 L1053.60 1140.20 L1050.60 1137.86 L1047.60 1135.41 L1044.60 1132.85 L1041.60 1130.20 L1041.60 1138.19 L1041.01 1137.75 L1038.62 1135.94 L1036.24 1134.12 L1033.88 1132.28 L1031.52 1130.43 L1029.18 1128.57 L1026.85 1126.68 L1024.54 1124.79 L1022.23 1122.88 L1019.94 1120.96 L1017.66 1119.02 L1015.39 1117.06 L1013.13 1115.10 L1010.89 1113.12 L1008.65 1111.12 L1006.43 1109.11 L1004.23 1107.09 L1002.03 1105.05 L999.85 1103.00 L997.68 1100.94 L995.53 1098.86 L993.39 1096.77 L991.26 1094.67 L989.14 1092.56 L987.03 1090.43 L984.94 1088.28 L982.87 1086.13 L980.80 1083.96 L978.75 1081.78 L976.71 1079.59 L974.69 1077.39 L972.68 1075.17 L970.68 1072.95 L968.69 1070.71 L966.72 1068.45 L964.76 1066.19 L962.82 1063.92 L960.89 1061.63 L958.97 1059.33 L957.07 1057.03 L955.18 1054.71 L953.30 1052.38 L951.44 1050.03 L949.59 1047.68 L947.76 1045.32 L945.94 1042.95 L944.13 1040.56 L942.34 1038.17 L940.55 1035.76 L938.79 1033.35 L937.04 1030.93 L935.30 1028.49 L933.57 1026.05 L931.86 1023.59 L930.16 1021.13 L928.48 1018.66 L926.81 1016.18 L925.16 1013.69 L923.51 1011.19 L921.89 1008.68 L920.27 1006.16 L918.67 1003.63 L917.08 1001.10 L915.51 998.55 L913.95 996.00 L912.41 993.44 L910.88 990.87 L909.36 988.29 L907.86 985.71 L906.37 983.11 L904.89 980.51 L903.43 977.90 L901.98 975.29 L900.55 972.66 L899.13 970.03 L897.72 967.39 L896.33 964.74 L894.95 962.09 L893.58 959.43 L892.23 956.76 L890.89 954.09 L889.57 951.41 L888.26 948.72 L886.96 946.03 L885.67 943.32 L884.40 940.62 L883.14 937.91 L881.89 935.19 L880.66 932.46 L879.43 929.73 L878.22 927.00 L877.02 924.26 L875.83 921.51 L874.66 918.76 L873.49 916.01 L872.34 913.25 L871.19 910.48 L870.06 907.71 L868.94 904.94 L867.83 902.16 L866.72 899.38 L865.63 896.59 L864.55 893.80 L863.48 891.01 L862.42 888.21 L861.36 885.41 L860.32 882.60 L859.28 879.80 L858.26 876.98 L857.24 874.17 L856.23 871.35 L855.23 868.53 L854.24 865.70 L853.25 862.88 L852.27 860.05 L851.30 857.21 L850.34 854.38 L849.38 851.54 L848.44 848.70 L847.49 845.86 L846.56 843.01 L845.63 840.16 L844.71 837.31 L843.79 834.46 L842.88 831.61 L841.98 828.75 L841.08 825.89 L840.18 823.03 L839.29 820.17 L838.41 817.31 L837.53 814.44 L836.65 811.58 L835.78 808.71 L834.92 805.84 L834.05 802.97 L833.20 800.10 L832.34 797.23 L831.49 794.35 L830.64 791.48 L829.80 788.60 L828.96 785.72 L828.12 782.85 L827.28 779.97 L826.45 777.09 L825.61 774.21 L824.78 771.32 L823.96 768.44 L823.13 765.56 L822.31 762.68 L821.48 759.79 L820.66 756.91 L819.84 754.02 L819.02 751.14 L818.20 748.25 L817.38 745.37 L816.56 742.48 L815.74 739.60 L814.92 736.71 L814.10 733.82 L813.28 730.94 L812.46 728.05 L811.63 725.17 L810.81 722.28 L809.99 719.40 L809.16 716.51 L808.33 713.63 L807.50 710.74 L806.67 707.86 L805.84 704.97 L805.00 702.09 L804.17 699.21 L803.33 696.33 L802.48 693.44 L801.63 690.56 L800.78 687.69 L799.93 684.81 L799.07 681.93 L798.21 679.05 L797.35 676.18 L796.48 673.30 L795.60 670.43 L794.73 667.56 L793.84 664.69 L792.95 661.82 L792.06 658.95 L791.16 656.08 L790.26 653.22 L789.35 650.35 L788.43 647.49 L787.51 644.63 L786.58 641.78 L785.65 638.92 L784.70 636.07 L783.76 633.22 L782.80 630.37 L781.84 627.52 L780.87 624.67 L779.89 621.83 L778.90 618.99 L777.91 616.16 L776.91 613.32 L775.89 610.49 L774.87 607.66 L773.85 604.84 L772.81 602.01 L771.76 599.19 L770.71 596.38 L769.64 593.57 L768.57 590.76 L767.49 587.95 L766.40 585.15 L765.31 582.35 L764.21 579.56 L763.10 576.76 L761.98 573.97 L760.86 571.19 L759.73 568.40 L758.60 565.62 L757.46 562.84 L756.31 560.06 L755.16 557.29 L754.01 554.52 L752.85 551.75 L751.68 548.98 L750.52 546.21 L749.35 543.45 L748.17 540.68 L746.99 537.92 L745.81 535.16 L744.63 532.40 L743.45 529.64 L742.26 526.89 L741.07 524.13 L739.88 521.38 L738.67 518.62 L737.46 515.87 L736.24 513.12 L735.00 510.37 L733.75 507.63 L732.48 504.90 L731.18 502.18 L729.86 499.46 L728.52 496.76 L727.14 494.07 L725.73 491.40 L724.29 488.74 L722.82 486.10 L721.30 483.48 L719.74 480.88 L718.14 478.31 L716.49 475.77 L714.80 473.26 L713.05 470.78 L711.26 468.34 L709.40 465.94 L707.50 463.58 L705.54 461.27 L703.52 459.00 L701.44 456.80 L699.30 454.64 L697.11 452.55 L694.86 450.53 L692.55 448.56 L690.18 446.67 L687.76 444.86 L685.29 443.11 L682.78 441.44 L680.21 439.84 L677.61 438.31 L674.96 436.86 L672.27 435.49 L669.55 434.19 L666.79 432.98 L664.00 431.84 L661.17 430.79 L658.31 429.84 L655.38 429.07 L652.39 428.65 L649.40 428.74 L646.49 429.29 L643.70 430.24 L641.05 431.49 L638.53 433.00 L636.15 434.71 L633.91 436.61 L631.81 438.64 L629.82 440.81 L627.95 443.07 L626.17 445.41 L624.48 447.83 L622.87 450.31 L621.33 452.83 L619.84 455.39 L618.40 457.99 L617.00 460.61 L615.65 463.26 L614.33 465.92 L613.04 468.60 L611.80 471.31 L610.58 474.02 L609.38 476.76 L608.21 479.50 L607.06 482.26 L605.93 485.02 L604.81 487.79 L603.70 490.57 L602.61 493.35 L601.53 496.14 L600.46 498.94 L599.41 501.74 L598.37 504.54 L597.35 507.35 L596.33 510.16 L595.33 512.98 L594.34 515.80 L593.36 518.63 L592.40 521.46 L591.44 524.30 L590.50 527.13 L589.56 529.98 L588.64 532.82 L587.73 535.67 L586.83 538.53 L585.93 541.38 L585.05 544.24 L584.18 547.11 L583.31 549.97 L582.46 552.84 L581.61 555.71 L580.78 558.59 L579.95 561.46 L579.13 564.34 L578.32 567.23 L577.51 570.11 L576.72 573.00 L575.93 575.89 L575.15 578.78 L574.37 581.67 L573.61 584.57 L572.85 587.46 L572.09 590.36 L571.35 593.26 L570.61 596.17 L569.87 599.07 L569.15 601.98 L568.43 604.89 L567.71 607.80 L567.00 610.71 L566.30 613.62 L565.61 616.53 L564.92 619.45 L564.23 622.37 L563.55 625.29 L562.88 628.21 L562.21 631.13 L561.55 634.05 L560.89 636.97 L560.24 639.90 L559.59 642.83 L558.95 645.75 L558.31 648.68 L557.68 651.61 L557.05 654.54 L556.42 657.48 L555.80 660.41 L555.19 663.34 L554.57 666.28 L553.97 669.21 L553.36 672.15 L552.76 675.09 L552.16 678.03 L551.57 680.97 L550.98 683.91 L550.39 686.85 L549.81 689.79 L549.23 692.73 L548.65 695.67 L548.07 698.62 L547.50 701.56 L546.93 704.50 L546.36 707.45 L545.79 710.40 L545.23 713.34 L544.67 716.29 L544.11 719.23 L543.55 722.18 L542.99 725.13 L542.43 728.08 L541.88 731.02 L541.33 733.97 L540.78 736.92 L540.23 739.87 L539.68 742.82 L539.13 745.77 L538.58 748.72 L538.03 751.67 L537.48 754.62 L536.94 757.57 L536.39 760.52 L535.84 763.47 L535.29 766.42 L534.75 769.36 L534.20 772.31 L533.65 775.26 L533.10 778.21 L532.55 781.16 L532.00 784.11 L531.45 787.06 L530.90 790.01 L530.36 792.96 L529.81 795.91 L529.26 798.86 L528.71 801.81 L528.16 804.76 L527.61 807.71 L527.06 810.66 L526.52 813.61 L525.97 816.56 L525.42 819.51 L524.88 822.46 L524.33 825.41 L523.79 828.36 L523.25 831.31 L522.71 834.26 L522.17 837.21 L521.63 840.16 L521.09 843.11 L520.55 846.06 L520.01 849.01 L519.48 851.96 L518.95 854.92 L518.41 857.87 L517.88 860.82 L517.36 863.77 L516.83 866.73 L516.30 869.68 L515.78 872.63 L515.26 875.59 L514.74 878.54 L514.22 881.50 L513.71 884.45 L513.19 887.41 L512.68 890.36 L512.18 893.32 L511.67 896.28 L511.17 899.23 L510.66 902.19 L510.17 905.15 L509.67 908.11 L509.18 911.07 L508.69 914.03 L508.20 916.99 L507.71 919.95 L507.23 922.91 L506.75 925.87 L506.28 928.84 L505.81 931.80 L505.34 934.76 L504.87 937.73 L504.41 940.69 L503.95 943.66 L503.50 946.63 L503.05 949.59 L502.60 952.56 L502.16 955.53 L501.72 958.50 L501.28 961.47 L500.85 964.44 L500.41 967.41 L499.98 970.38 L499.54 973.34 L499.10 976.31 L498.66 979.27 L498.20 982.23 L497.73 985.19 L497.26 988.15 L496.76 991.11 L496.26 994.07 L495.73 997.03 L495.19 999.98 L494.62 1002.93 L494.03 1005.89 L493.42 1008.83 L492.78 1011.78 L492.11 1014.72 L491.42 1017.65 L490.71 1020.58 L489.98 1023.50 L489.24 1026.42 L488.49 1029.33 L487.72 1032.24 L486.95 1035.14 L486.17 1038.04 L485.39 1040.94 L484.62 1043.84 L483.83 1046.74 L483.04 1049.64 L482.24 1052.54 L481.42 1055.44 L480.58 1058.33 L479.71 1061.23 L478.82 1064.11 L477.89 1066.99 L476.92 1069.87 L475.91 1072.73 L474.85 1075.57 L473.74 1078.40 L472.57 1081.21 L471.34 1084.00 L470.04 1086.76 L468.67 1089.48 L467.23 1092.17 L465.71 1094.82 L464.12 1097.42 L462.45 1099.97 L460.71 1102.47 L458.89 1104.91 L457.01 1107.30 L455.05 1109.63 L453.03 1111.89 L450.94 1114.09 L448.79 1116.23 L446.57 1118.30 L444.30 1120.31 L441.98 1122.25 L439.62 1124.13 L437.21 1125.95 L434.75 1127.71 L432.27 1129.42 L429.74 1131.07 L427.18 1132.67 L424.59 1134.21 L421.97 1135.70 L419.33 1137.14 L416.66 1138.54 L413.99 1139.90 L411.30 1141.25 L408.62 1142.58 L405.94 1143.92 L403.27 1145.28 L400.62 1146.67 L398.00 1148.10 L395.41 1149.58 L392.86 1151.13 L390.34 1152.73 L387.86 1154.39 L385.42 1156.10 L382.99 1157.85 L380.60 1159.63 L378.22 1161.45 L375.85 1163.28 L373.50 1165.14 L371.16 1167.01 L368.82 1168.88 L366.48 1170.76 L364.14 1172.64 L361.79 1174.51 L359.43 1176.37 L357.06 1178.22 L354.66 1180.04 L352.24 1181.83 L349.79 1183.59 L347.28 1185.30 L344.69 1186.89 L341.98 1188.30 L339.13 1189.41 L336.16 1190.06 L333.16 1190.11 L330.25 1189.60 L327.46 1188.66 L324.79 1187.41 L322.23 1185.94 L319.75 1184.32 L317.34 1182.59 L314.97 1180.78 L312.63 1178.93 L310.29 1177.04 L307.96 1175.15 L305.61 1173.28 L303.22 1171.43 L300.78 1169.64 L298.28 1167.93 L295.68 1166.33 L293.01 1164.89 L290.27 1163.60 L287.47 1162.45 L284.63 1161.44 L281.75 1160.56 L278.84 1159.78 L275.91 1159.09 L272.97 1158.47 L270.02 1157.90 L267.07 1157.35 L264.12 1156.82 L261.17 1156.27 L258.23 1155.69 L255.30 1155.06 L252.39 1154.37 L249.50 1153.60Z" fill="#1f77b4" fill-opacity="0.1" stroke="none"/>
<path d="M249.50 1144.56 L252.45 1145.11 L255.40 1145.68 L258.34 1146.26 L261.29 1146.84 L264.23 1147.44 L267.16 1148.05 L270.10 1148.65 L273.04 1149.26 L275.98 1149.86 L278.92 1150.46 L281.86 1151.06 L284.80 1151.64 L287.74 1152.22 L290.69 1152.78 L293.64 1153.33 L296.59 1153.86 L299.54 1154.38 L302.50 1154.87 L305.46 1155.34 L308.43 1155.78 L311.40 1156.19 L314.37 1156.58 L317.35 1156.93 L320.33 1157.25 L323.31 1157.52 L326.30 1157.76 L329.30 1157.96 L332.29 1158.10 L335.29 1158.20 L338.29 1158.25 L341.29 1158.24 L344.29 1158.17 L347.29 1158.04 L350.28 1157.85 L353.27 1157.59 L356.26 1157.25 L359.23 1156.84 L362.20 1156.35 L365.15 1155.78 L368.09 1155.13 L371.00 1154.38 L373.90 1153.55 L376.76 1152.63 L379.60 1151.61 L382.40 1150.50 L385.17 1149.29 L387.89 1147.99 L390.57 1146.59 L393.20 1145.10 L395.79 1143.55 L398.34 1141.93 L400.85 1140.28 L403.34 1138.59 L405.82 1136.88 L408.28 1135.17 L410.74 1133.45 L413.21 1131.76 L415.69 1130.07 L418.17 1128.39 L420.65 1126.70 L423.13 1125.00 L425.60 1123.29 L428.06 1121.56 L430.50 1119.80 L432.92 1118.01 L435.32 1116.18 L437.69 1114.31 L440.02 1112.40 L442.32 1110.44 L444.57 1108.42 L446.77 1106.33 L448.91 1104.19 L450.99 1101.96 L452.99 1099.67 L454.91 1097.30 L456.74 1094.86 L458.49 1092.35 L460.16 1089.79 L461.74 1087.18 L463.24 1084.52 L464.66 1081.82 L466.00 1079.08 L467.28 1076.31 L468.48 1073.51 L469.62 1070.68 L470.69 1067.83 L471.71 1064.96 L472.68 1062.08 L473.59 1059.19 L474.46 1056.28 L475.28 1053.37 L476.07 1050.45 L476.82 1047.52 L477.54 1044.59 L478.23 1041.65 L478.89 1038.71 L479.53 1035.77 L480.16 1032.83 L480.76 1029.88 L481.36 1026.94 L481.95 1023.99 L482.53 1021.05 L483.10 1018.10 L483.68 1015.16 L484.24 1012.21 L484.81 1009.26 L485.37 1006.31 L485.92 1003.36 L486.47 1000.41 L487.02 997.46 L487.57 994.51 L488.11 991.56 L488.64 988.61 L489.18 985.66 L489.71 982.70 L490.24 979.75 L490.76 976.80 L491.28 973.84 L491.80 970.89 L492.32 967.93 L492.83 964.97 L493.34 962.02 L493.85 959.06 L494.36 956.11 L494.87 953.15 L495.37 950.19 L495.87 947.23 L496.38 944.28 L496.88 941.32 L497.37 938.36 L497.87 935.40 L498.37 932.44 L498.86 929.48 L499.36 926.52 L499.85 923.57 L500.35 920.61 L500.84 917.65 L501.34 914.69 L501.83 911.73 L502.32 908.77 L502.82 905.81 L503.31 902.85 L503.81 899.89 L504.30 896.93 L504.80 893.98 L505.30 891.02 L505.80 888.06 L506.29 885.10 L506.79 882.14 L507.29 879.18 L507.79 876.23 L508.29 873.27 L508.80 870.31 L509.30 867.35 L509.80 864.40 L510.30 861.44 L510.81 858.48 L511.31 855.52 L511.81 852.57 L512.32 849.61 L512.82 846.65 L513.33 843.69 L513.84 840.74 L514.34 837.78 L514.85 834.82 L515.36 831.87 L515.87 828.91 L516.38 825.95 L516.89 823.00 L517.40 820.04 L517.91 817.09 L518.42 814.13 L518.93 811.17 L519.44 808.22 L519.95 805.26 L520.47 802.31 L520.98 799.35 L521.49 796.39 L522.01 793.44 L522.52 790.48 L523.03 787.53 L523.55 784.57 L524.06 781.62 L524.58 778.66 L525.10 775.71 L525.61 772.75 L526.13 769.80 L526.65 766.84 L527.17 763.89 L527.68 760.93 L528.20 757.98 L528.72 755.02 L529.24 752.07 L529.76 749.11 L530.28 746.16 L530.80 743.20 L531.32 740.25 L531.84 737.29 L532.36 734.34 L532.89 731.39 L533.41 728.43 L533.93 725.48 L534.45 722.52 L534.97 719.57 L535.50 716.62 L536.02 713.66 L536.55 710.71 L537.07 707.75 L537.59 704.80 L538.12 701.85 L538.64 698.89 L539.17 695.94 L539.69 692.98 L540.22 690.03 L540.74 687.08 L541.27 684.12 L541.80 681.17 L542.33 678.22 L542.85 675.27 L543.38 672.31 L543.91 669.36 L544.45 666.41 L544.98 663.46 L545.51 660.50 L546.05 657.55 L546.58 654.60 L547.12 651.65 L547.66 648.70 L548.20 645.75 L548.75 642.80 L549.29 639.85 L549.84 636.90 L550.39 633.95 L550.94 631.00 L551.50 628.06 L552.05 625.11 L552.61 622.16 L553.17 619.21 L553.74 616.27 L554.30 613.32 L554.87 610.38 L555.45 607.44 L556.02 604.49 L556.60 601.55 L557.18 598.61 L557.77 595.67 L558.36 592.73 L558.95 589.79 L559.54 586.85 L560.14 583.91 L560.75 580.97 L561.36 578.04 L561.97 575.10 L562.58 572.17 L563.20 569.24 L563.83 566.30 L564.45 563.37 L565.09 560.44 L565.72 557.51 L566.37 554.58 L567.01 551.66 L567.66 548.73 L568.32 545.81 L568.98 542.88 L569.65 539.96 L570.32 537.04 L571.00 534.12 L571.68 531.20 L572.37 528.29 L573.06 525.37 L573.76 522.46 L574.47 519.54 L575.18 516.63 L575.89 513.72 L576.62 510.82 L577.34 507.91 L578.08 505.01 L578.82 502.10 L579.57 499.20 L580.32 496.30 L581.08 493.41 L581.85 490.51 L582.62 487.62 L583.41 484.73 L584.20 481.84 L585.00 478.96 L585.81 476.08 L586.64 473.21 L587.48 470.34 L588.34 467.47 L589.21 464.61 L590.10 461.76 L591.00 458.92 L591.93 456.08 L592.87 453.25 L593.84 450.43 L594.83 447.61 L595.84 444.81 L596.87 442.01 L597.94 439.23 L599.02 436.45 L600.14 433.69 L601.28 430.94 L602.45 428.20 L603.65 425.47 L604.88 422.76 L606.15 420.07 L607.44 417.39 L608.77 414.72 L610.13 412.08 L611.53 409.45 L612.96 406.84 L614.43 404.25 L615.93 401.68 L617.47 399.14 L619.05 396.61 L620.67 394.12 L622.32 391.64 L624.02 389.20 L625.76 386.80 L627.55 384.42 L629.38 382.09 L631.28 379.80 L633.22 377.56 L635.22 375.38 L637.29 373.25 L639.41 371.18 L641.61 369.18 L643.87 367.26 L646.20 365.45 L648.63 363.76 L651.14 362.22 L653.76 360.85 L656.48 359.69 L659.30 358.78 L662.20 358.14 L665.16 357.78 L668.16 357.70 L671.16 357.87 L674.14 358.27 L677.09 358.88 L680.00 359.69 L682.86 360.69 L685.65 361.87 L688.38 363.21 L691.02 364.72 L693.57 366.38 L696.03 368.17 L698.40 370.08 L700.68 372.09 L702.88 374.18 L705.01 376.36 L707.06 378.59 L709.06 380.88 L710.99 383.21 L712.88 385.57 L714.73 387.97 L716.53 390.39 L718.30 392.85 L720.02 395.34 L721.71 397.85 L723.35 400.39 L724.96 402.95 L726.53 405.54 L728.06 408.14 L729.56 410.76 L731.03 413.41 L732.46 416.07 L733.87 418.74 L735.24 421.43 L736.59 424.13 L737.92 426.84 L739.21 429.56 L740.49 432.29 L741.75 435.03 L742.98 437.78 L744.20 440.53 L745.40 443.29 L746.59 446.06 L747.77 448.83 L748.93 451.60 L750.08 454.38 L751.23 457.16 L752.37 459.94 L753.50 462.72 L754.63 465.50 L755.76 468.28 L756.88 471.07 L758.00 473.86 L759.11 476.65 L760.22 479.44 L761.32 482.23 L762.42 485.03 L763.51 487.83 L764.60 490.63 L765.69 493.43 L766.77 496.23 L767.84 499.03 L768.92 501.84 L769.98 504.64 L771.05 507.45 L772.11 510.26 L773.16 513.08 L774.21 515.89 L775.25 518.71 L776.30 521.52 L777.33 524.34 L778.36 527.16 L779.39 529.98 L780.42 532.81 L781.44 535.63 L782.45 538.46 L783.46 541.29 L784.47 544.12 L785.47 546.95 L786.47 549.78 L787.46 552.61 L788.45 555.45 L789.43 558.29 L790.42 561.13 L791.39 563.97 L792.36 566.81 L793.33 569.65 L794.30 572.49 L795.25 575.34 L796.21 578.19 L797.16 581.04 L798.11 583.89 L799.05 586.74 L799.99 589.59 L800.92 592.44 L801.85 595.30 L802.78 598.16 L803.70 601.01 L804.62 603.87 L805.53 606.73 L806.44 609.60 L807.35 612.46 L808.25 615.32 L809.15 618.19 L810.04 621.06 L810.93 623.93 L811.81 626.80 L812.69 629.67 L813.57 632.54 L814.44 635.41 L815.31 638.29 L816.18 641.16 L817.04 644.04 L817.89 646.92 L818.75 649.80 L819.59 652.68 L820.44 655.56 L821.28 658.44 L822.12 661.33 L822.95 664.21 L823.78 667.10 L824.60 669.98 L825.42 672.87 L826.24 675.76 L827.06 678.65 L827.87 681.54 L828.68 684.43 L829.49 687.32 L830.29 690.21 L831.09 693.11 L831.90 696.00 L832.70 698.89 L833.49 701.78 L834.29 704.67 L835.09 707.57 L835.89 710.46 L836.68 713.35 L837.48 716.24 L838.28 719.14 L839.07 722.03 L839.87 724.92 L840.67 727.81 L841.47 730.70 L842.27 733.59 L843.08 736.48 L843.88 739.37 L844.69 742.25 L845.50 745.14 L846.31 748.03 L847.13 750.91 L847.95 753.80 L848.77 756.68 L849.59 759.56 L850.42 762.44 L851.26 765.32 L852.10 768.20 L852.94 771.07 L853.79 773.95 L854.64 776.82 L855.50 779.69 L856.36 782.56 L857.23 785.43 L858.10 788.29 L858.98 791.15 L859.87 794.01 L860.76 796.87 L861.66 799.73 L862.57 802.58 L863.48 805.43 L864.41 808.28 L865.34 811.13 L866.27 813.97 L867.22 816.81 L868.17 819.65 L869.14 822.49 L870.11 825.32 L871.09 828.14 L872.08 830.97 L873.08 833.79 L874.09 836.61 L875.10 839.42 L876.13 842.24 L877.16 845.05 L878.20 847.86 L879.25 850.66 L880.31 853.46 L881.37 856.26 L882.44 859.06 L883.51 861.86 L884.59 864.65 L885.68 867.44 L886.77 870.23 L887.87 873.02 L888.97 875.81 L890.08 878.59 L891.19 881.38 L892.30 884.16 L893.42 886.94 L894.54 889.72 L895.67 892.50 L896.79 895.28 L897.92 898.06 L899.05 900.83 L900.19 903.61 L901.33 906.38 L902.47 909.15 L903.61 911.92 L904.77 914.68 L905.93 917.44 L907.09 920.20 L908.27 922.95 L909.45 925.70 L910.65 928.45 L911.85 931.18 L913.07 933.92 L914.30 936.64 L915.55 939.36 L916.80 942.08 L918.07 944.78 L919.36 947.48 L920.67 950.17 L921.99 952.85 L923.32 955.52 L924.68 958.18 L926.05 960.84 L927.44 963.48 L928.85 966.11 L930.29 968.73 L931.74 971.34 L933.21 973.93 L934.71 976.52 L936.23 979.09 L937.77 981.64 L939.34 984.18 L940.93 986.71 L942.54 989.22 L944.18 991.71 L945.85 994.18 L947.54 996.64 L949.26 999.08 L951.01 1001.49 L952.78 1003.89 L954.58 1006.27 L956.42 1008.62 L958.28 1010.95 L960.17 1013.26 L962.09 1015.54 L964.04 1017.80 L966.02 1020.03 L968.03 1022.23 L970.07 1024.41 L972.15 1026.55 L974.25 1028.67 L976.38 1030.75 L978.55 1032.80 L980.75 1034.82 L982.98 1036.79 L985.26 1038.71 L987.57 1040.59 L989.92 1042.42 L992.32 1044.18 L994.77 1045.88 L997.26 1047.51 L999.80 1049.07 L1002.38 1050.54 L1005.02 1051.92 L1007.71 1053.21 L1010.44 1054.39 L1013.22 1055.47 L1016.04 1056.42 L1018.91 1057.26 L1021.81 1057.96 L1024.75 1058.52 L1027.71 1058.95 L1030.69 1059.23 L1033.68 1059.37 L1036.68 1059.36 L1039.68 1059.21 L1041.60 1059.05 L1041.60 1052.35 L1044.54 1051.74 L1047.47 1051.07 L1050.38 1050.31 L1053.28 1049.48 L1056.15 1048.57 L1058.99 1047.59 L1061.82 1046.54 L1064.61 1045.42 L1067.38 1044.24 L1070.12 1042.99 L1072.84 1041.69 L1075.53 1040.33 L1078.18 1038.91 L1080.82 1037.44 L1083.42 1035.92 L1085.99 1034.36 L1088.54 1032.75 L1091.06 1031.10 L1093.56 1029.42 L1096.03 1027.70 L1098.48 1025.94 L1100.90 1024.16 L1103.31 1022.34 L1105.69 1020.50 L1108.05 1018.64 L1110.40 1016.75 L1112.72 1014.85 L1115.04 1012.92 L1117.33 1010.98 L1119.62 1009.03 L1121.89 1007.06 L1124.15 1005.08 L1126.41 1003.10 L1128.65 1001.10 L1130.89 999.10 L1133.13 997.10 L1135.36 995.09 L1137.59 993.08 L1137.97 992.74 L1137.97 1003.23 L1139.96 1000.95 L1141.91 998.63 L1143.80 996.26 L1145.64 993.86 L1147.43 991.41 L1149.17 988.93 L1150.86 986.42 L1152.50 983.87 L1154.10 981.29 L1155.64 978.68 L1157.14 976.05 L1158.60 973.40 L1160.02 970.72 L1161.40 968.03 L1162.74 965.32 L1164.05 962.60 L1165.34 959.87 L1166.59 957.13 L1167.83 954.38 L1169.05 951.63 L1170.25 948.87 L1171.44 946.11 L1172.63 943.35 L1173.81 940.59 L1174.99 937.83 L1176.16 935.06 L1177.33 932.30 L1178.50 929.54 L1179.67 926.77 L1180.84 924.01 L1182.01 921.25 L1183.17 918.48 L1184.34 915.72 L1185.51 912.96 L1186.68 910.19 L1187.85 907.43 L1189.02 904.67 L1190.19 901.91 L1191.37 899.16 L1192.55 896.40 L1193.73 893.64 L1194.91 890.89 L1196.10 888.14 L1197.29 885.39 L1198.49 882.64 L1199.68 879.89 L1200.88 877.14 L1202.08 874.39 L1203.27 871.63 L1204.46 868.87 L1205.65 866.11 L1206.83 863.35 L1208.00 860.58 L1209.16 857.80 L1210.31 855.02 L1211.45 852.23 L1212.57 849.44 L1213.68 846.64 L1214.76 843.83 L1215.84 841.01 L1216.89 838.19 L1217.93 835.37 L1218.96 832.54 L1219.98 829.71 L1220.99 826.88 L1222.00 824.05 L1223.00 821.22 L1223.99 818.39 L1224.98 815.56 L1225.98 812.73 L1226.97 809.90 L1227.97 807.07 L1228.97 804.24 L1229.97 801.42 L1230.97 798.59 L1231.97 795.76 L1232.98 792.93 L1233.98 790.10 L1234.98 787.28 L1235.98 784.45 L1236.97 781.61 L1237.97 778.78 L1238.96 775.95 L1239.95 773.12 L1240.94 770.28 L1241.93 767.44 L1242.91 764.60 L1243.88 761.76 L1244.85 758.92 L1245.82 756.08 L1246.78 753.23 L1247.73 750.38 L1248.68 747.53 L1249.62 744.68 L1250.56 741.82 L1251.49 738.97 L1252.42 736.11 L1253.34 733.25 L1254.26 730.39 L1255.17 727.53 L1256.08 724.67 L1256.99 721.81 L1257.89 718.94 L1258.79 716.08 L1259.69 713.22 L1260.58 710.35 L1261.48 707.49 L1262.37 704.62 L1263.26 701.75 L1264.14 698.89 L1265.03 696.02 L1265.92 693.15 L1266.80 690.29 L1267.69 687.42 L1268.57 684.55 L1269.46 681.69 L1270.35 678.82 L1271.23 675.96 L1272.12 673.09 L1273.01 670.23 L1273.90 667.37 L1274.80 664.51 L1275.69 661.64 L1276.59 658.78 L1277.49 655.92 L1278.40 653.07 L1279.31 650.21 L1280.22 647.35 L1281.13 644.50 L1282.05 641.65 L1282.97 638.80 L1283.90 635.95 L1284.84 633.10 L1285.77 630.26 L1286.72 627.41 L1287.67 624.57 L1288.62 621.73 L1289.59 618.90 L1290.56 616.06 L1291.53 613.23 L1292.51 610.41 L1293.51 607.58 L1294.50 604.76 L1295.51 601.94 L1296.52 599.12 L1297.55 596.31 L1298.58 593.50 L1299.62 590.69 L1300.67 587.89 L1301.73 585.09 L1302.80 582.30 L1303.88 579.51 L1304.97 576.72 L1306.08 573.94 L1307.19 571.16 L1308.31 568.39 L1309.45 565.62 L1310.60 562.86 L1311.76 560.10 L1312.93 557.35 L1314.11 554.60 L1315.31 551.86 L1316.52 549.13 L1317.75 546.40 L1318.99 543.68 L1320.24 540.97 L1321.51 538.26 L1322.79 535.56 L1324.08 532.86 L1325.39 530.18 L1326.72 527.50 L1328.07 524.84 L1329.44 522.19 L1330.83 519.54 L1332.24 516.92 L1333.67 514.30 L1335.13 511.70 L1336.62 509.12 L1338.14 506.55 L1339.68 504.00 L1341.25 501.46 L1342.85 498.95 L1344.48 496.46 L1346.15 493.98 L1347.84 491.53 L1349.56 489.09 L1351.31 486.67 L1353.08 484.27 L1354.88 481.88 L1356.70 479.52 L1358.54 477.16 L1360.40 474.83 L1362.29 472.51 L1364.20 470.22 L1366.14 467.96 L1368.12 465.73 L1370.13 463.54 L1372.19 461.39 L1374.29 459.29 L1376.44 457.24 L1378.65 455.25 L1380.91 453.32 L1383.23 451.47 L1385.61 449.70 L1388.06 448.01 L1390.57 446.42 L1393.14 444.93 L1395.77 443.55 L1398.46 442.29 L1401.21 441.14 L1404.01 440.12 L1406.85 439.22 L1409.73 438.45 L1412.65 437.81 L1415.60 437.31 L1418.57 436.97 L1421.56 436.78 L1424.56 436.76 L1427.56 436.92 L1430.55 437.27 L1433.51 437.83 L1436.43 438.60 L1439.29 439.59 L1442.08 440.79 L1444.79 442.17 L1447.41 443.71 L1449.94 445.39 L1452.39 447.19 L1454.77 449.09 L1457.06 451.08 L1459.29 453.13 L1461.47 455.25 L1463.58 457.41 L1465.66 459.61 L1467.69 461.83 L1469.70 464.09 L1471.67 466.38 L1473.60 468.70 L1475.51 471.04 L1477.38 473.41 L1479.22 475.80 L1481.04 478.21 L1482.81 480.65 L1484.56 483.11 L1486.28 485.60 L1487.97 488.10 L1489.63 490.62 L1491.26 493.16 L1492.87 495.71 L1494.44 498.29 L1495.99 500.88 L1497.51 503.48 L1499.01 506.10 L1500.49 508.73 L1501.94 511.37 L1503.36 514.03 L1504.77 516.70 L1506.15 519.37 L1507.52 522.06 L1508.86 524.76 L1510.19 527.47 L1511.49 530.18 L1512.78 532.90 L1514.06 535.63 L1515.31 538.36 L1516.56 541.11 L1517.79 543.85 L1519.00 546.60 L1520.21 549.36 L1521.40 552.12 L1522.58 554.88 L1523.76 557.65 L1524.92 560.42 L1526.08 563.20 L1527.23 565.97 L1528.38 568.75 L1529.52 571.53 L1530.65 574.31 L1531.78 577.09 L1532.91 579.87 L1534.03 582.66 L1535.15 585.45 L1536.26 588.24 L1537.37 591.03 L1538.47 593.82 L1539.57 596.61 L1540.67 599.41 L1541.76 602.21 L1542.85 605.01 L1543.94 607.81 L1545.02 610.61 L1546.09 613.41 L1547.17 616.21 L1548.24 619.02 L1549.31 621.82 L1550.37 624.63 L1551.43 627.44 L1552.49 630.25 L1553.55 633.06 L1554.60 635.87 L1555.65 638.68 L1556.70 641.50 L1557.74 644.31 L1558.78 647.13 L1559.82 649.94 L1560.86 652.76 L1561.90 655.58 L1562.93 658.39 L1563.96 661.21 L1564.99 664.03 L1566.02 666.85 L1567.05 669.67 L1568.07 672.49 L1569.09 675.31 L1570.12 678.14 L1571.14 680.96 L1572.15 683.78 L1573.17 686.60 L1574.19 689.43 L1575.21 692.25 L1576.22 695.07 L1577.24 697.90 L1578.25 700.72 L1579.26 703.54 L1580.28 706.37 L1581.29 709.19 L1582.30 712.02 L1583.31 714.84 L1584.33 717.66 L1585.34 720.49 L1586.35 723.31 L1587.36 726.14 L1588.38 728.96 L1589.39 731.78 L1590.40 734.61 L1591.42 737.43 L1592.43 740.25 L1593.45 743.07 L1594.47 745.89 L1595.49 748.72 L1596.50 751.54 L1597.52 754.36 L1598.55 757.18 L1599.57 760.00 L1600.59 762.81 L1601.62 765.63 L1602.65 768.45 L1603.68 771.27 L1604.71 774.08 L1605.74 776.90 L1606.77 779.71 L1607.81 782.52 L1608.85 785.34 L1609.89 788.15 L1610.94 790.96 L1611.98 793.77 L1613.03 796.58 L1614.08 799.38 L1615.14 802.19 L1616.19 805.00 L1617.25 807.80 L1618.32 810.60 L1619.38 813.41 L1620.45 816.21 L1621.52 819.01 L1622.59 821.81 L1623.66 824.61 L1624.73 827.41 L1625.81 830.21 L1626.88 833.01 L1627.96 835.81 L1629.04 838.61 L1630.12 841.41 L1631.20 844.21 L1632.28 847.01 L1633.36 849.80 L1634.44 852.60 L1635.52 855.40 L1636.60 858.20 L1637.68 861.00 L1638.76 863.80 L1639.84 866.60 L1640.92 869.40 L1642.00 872.20 L1643.07 875.00 L1644.15 877.80 L1645.22 880.60 L1646.30 883.41 L1647.37 886.21 L1648.44 889.01 L1649.51 891.82 L1650.57 894.62 L1651.64 897.43 L1652.70 900.24 L1653.76 903.05 L1654.81 905.86 L1655.87 908.67 L1656.92 911.48 L1657.97 914.30 L1659.01 917.11 L1660.05 919.93 L1661.09 922.75 L1662.12 925.56 L1663.15 928.39 L1664.18 931.21 L1665.20 934.03 L1666.21 936.86 L1667.22 939.69 L1668.23 942.52 L1669.23 945.35 L1670.23 948.18 L1671.22 951.02 L1672.21 953.86 L1673.19 956.70 L1674.16 959.54 L1675.13 962.38 L1676.09 965.23 L1677.04 968.08 L1677.40 969.14" stroke="#1f77b4" stroke-width="8" stroke-linecap="square"/>
<path d="M249.50 1135.76 L252.49 1135.56 L255.49 1135.46 L258.49 1135.46 L261.49 1135.54 L264.48 1135.70 L266.58 1135.86 M275.00 1136.77 L276.42 1136.96 L279.39 1137.41 L282.36 1137.89 L285.32 1138.41 L288.27 1138.95 L291.22 1139.52 L294.02 1140.08 M302.20 1141.78 L305.91 1142.56 L308.84 1143.19 L311.78 1143.80 L314.71 1144.41 L317.65 1145.01 L320.59 1145.59 L323.45 1146.13 M332.70 1147.69 L335.37 1148.08 L338.34 1148.47 L341.32 1148.81 L344.31 1149.09 L347.30 1149.32 L350.29 1149.48 L352.57 1149.55 M361.19 1149.42 L362.28 1149.36 L365.28 1149.11 L368.26 1148.75 L371.23 1148.29 L374.18 1147.71 L377.22 1146.98 M383.91 1144.85 L385.70 1144.17 L388.48 1142.97 L391.20 1141.67 L393.88 1140.28 L396.53 1138.83 L399.13 1137.32 L401.71 1135.76 L402.66 1135.18 M410.40 1130.31 L411.88 1129.37 L414.42 1127.78 L416.97 1126.20 L419.52 1124.62 L422.07 1123.02 L424.60 1121.40 L427.12 1119.74 L429.70 1117.97 M437.53 1111.91 L439.10 1110.53 L441.31 1108.44 L443.44 1106.27 L445.50 1104.02 L447.47 1101.70 L449.37 1099.32 L451.19 1096.88 L452.24 1095.36 M457.34 1087.23 L459.15 1083.89 L460.52 1081.16 L461.81 1078.39 L463.02 1075.58 L464.16 1072.75 L465.23 1069.89 L466.26 1066.94 M469.06 1057.76 L469.72 1055.40 L470.49 1052.48 L471.24 1049.56 L471.97 1046.64 L472.69 1043.72 L473.40 1040.80 L474.10 1037.88 L474.48 1036.23 M476.61 1026.87 L477.41 1023.21 L478.04 1020.27 L478.65 1017.33 L479.26 1014.39 L479.84 1011.44 L480.42 1008.49 L481.05 1005.13 M482.73 995.68 L483.06 993.71 L483.55 990.75 L484.02 987.79 L484.47 984.83 L484.90 981.87 L485.32 978.91 L485.72 975.95 L486.01 973.74 M487.21 964.22 L487.32 963.30 L487.72 959.94 L488.12 956.52 L488.52 953.07 L488.92 949.59 L489.32 946.12 L489.78 942.18 M490.91 932.65 L491.32 929.38 L491.72 926.26 L492.12 923.23 L492.53 920.25 L492.95 917.27 L493.38 914.29 L493.93 910.67 M495.45 901.19 L495.74 899.46 L496.24 896.51 L496.76 893.55 L497.29 890.60 L497.83 887.66 L498.38 884.71 L498.95 881.77 L499.41 879.36 M501.31 869.96 L501.91 867.08 L502.53 864.15 L503.16 861.22 L503.80 858.30 L504.45 855.37 L505.11 852.45 L505.77 849.52 L506.05 848.28 M508.18 838.92 L508.43 837.82 L509.09 834.89 L509.75 831.96 L510.40 829.03 L511.04 826.09 L511.67 823.15 L512.28 820.21 L512.89 817.24 M514.68 807.81 L515.10 805.45 L515.59 802.49 L516.06 799.53 L516.50 796.58 L516.91 793.63 L517.31 790.53 L517.71 787.22 L517.87 785.86 M518.90 776.32 L519.31 772.42 L519.71 768.68 L520.11 765.08 L520.51 761.66 L520.91 758.40 L521.31 755.29 L521.45 754.28 M522.78 744.77 L522.99 743.36 L523.44 740.39 L523.90 737.42 L524.38 734.46 L524.86 731.49 L525.36 728.53 L525.86 725.58 L526.33 722.87 M528.04 713.43 L528.52 710.82 L529.08 707.88 L529.64 704.93 L530.21 701.99 L530.78 699.05 L531.36 696.10 L531.95 693.16 L532.25 691.64 M534.16 682.24 L534.33 681.41 L534.93 678.47 L535.53 675.53 L536.14 672.59 L536.75 669.66 L537.36 666.72 L537.97 663.78 L538.65 660.51 M540.59 651.11 L541.01 649.09 L541.61 646.15 L542.21 643.21 L542.81 640.27 L543.40 637.33 L543.99 634.39 L544.58 631.44 L544.99 629.36 M546.82 619.94 L547.43 616.70 L547.98 613.75 L548.52 610.80 L549.05 607.85 L549.58 604.89 L550.10 601.94 L550.61 598.98 L550.75 598.10 M552.33 588.64 L552.57 587.14 L553.05 584.18 L553.52 581.22 L553.98 578.26 L554.44 575.29 L554.90 572.33 L555.35 569.37 L555.75 566.71 M557.17 557.22 L557.56 554.54 L558.00 551.57 L558.44 548.60 L558.87 545.63 L559.31 542.66 L559.74 539.70 L560.18 536.73 L560.40 535.27 M561.80 525.78 L561.94 524.85 L562.39 521.88 L562.83 518.92 L563.29 515.95 L563.74 512.98 L564.20 510.02 L564.67 507.05 L565.18 503.85 M566.72 494.38 L567.08 492.24 L567.58 489.29 L568.09 486.33 L568.61 483.38 L569.13 480.42 L569.67 477.47 L570.21 474.53 L570.59 472.53 M572.42 463.11 L573.08 459.82 L573.69 456.89 L574.30 453.96 L574.93 451.03 L575.58 448.11 L576.23 445.19 L576.90 442.27 L577.10 441.42 M579.35 432.09 L579.71 430.64 L580.45 427.74 L581.20 424.85 L581.98 421.96 L582.77 419.08 L583.57 416.21 L584.40 413.34 L585.19 410.68 M588.05 401.53 L588.85 399.10 L589.81 396.28 L590.80 393.46 L591.81 390.66 L592.84 387.87 L593.91 385.09 L595.00 382.31 L595.67 380.68 M599.46 371.86 L600.93 368.66 L602.21 365.98 L603.53 363.31 L604.89 360.66 L606.28 358.03 L607.70 355.42 L609.17 352.83 L609.59 352.12 M614.62 343.94 L615.42 342.71 L617.08 340.25 L618.78 337.81 L620.53 335.40 L622.32 333.02 L624.15 330.68 L626.02 328.37 L627.88 326.16 M634.15 318.89 L635.78 317.00 L637.72 314.69 L639.62 312.34 L641.48 309.94 L643.29 307.50 L645.02 304.99 L646.67 302.44 L647.47 301.16 M652.63 293.07 L653.10 292.38 L654.83 290.01 L656.68 287.76 L658.69 285.68 L660.89 283.80 L663.30 282.20 L665.92 280.91 L668.70 279.96 L669.56 279.78 M679.05 279.42 L680.56 279.63 L683.51 280.31 L686.40 281.18 L689.24 282.22 L692.02 283.42 L694.74 284.77 L697.38 286.26 L699.49 287.60 M707.08 293.47 L709.34 295.62 L711.46 297.82 L713.48 300.11 L715.41 302.47 L717.25 304.90 L719.02 307.38 L721.13 310.57 M726.06 318.81 L726.91 320.33 L728.35 322.99 L729.76 325.65 L731.15 328.33 L732.52 331.01 L733.87 333.71 L735.20 336.41 L736.23 338.54 M740.31 347.23 L741.58 350.05 L742.81 352.80 L744.01 355.56 L745.21 358.33 L746.38 361.10 L747.55 363.87 L748.69 366.66 L749.09 367.62 M752.64 376.54 L753.15 377.84 L754.24 380.64 L755.31 383.45 L756.37 386.27 L757.43 389.08 L758.47 391.90 L759.50 394.73 L760.46 397.35 M763.69 406.41 L764.56 408.87 L765.56 411.71 L766.55 414.54 L767.53 417.38 L768.52 420.22 L769.49 423.05 L770.47 425.89 L770.99 427.41 M774.11 436.50 L775.34 440.08 L776.32 442.92 L777.29 445.75 L778.27 448.59 L779.25 451.42 L780.23 454.26 L781.36 457.53 M784.50 466.62 L785.13 468.44 L786.11 471.27 L787.09 474.11 L788.07 476.94 L789.05 479.78 L790.03 482.61 L791.01 485.45 L791.76 487.63 M794.89 496.72 L795.89 499.63 L796.87 502.47 L797.84 505.31 L798.82 508.15 L799.79 510.99 L800.76 513.83 L801.73 516.67 L802.10 517.76 M805.20 526.86 L805.60 528.03 L806.56 530.87 L807.52 533.72 L808.48 536.56 L809.44 539.41 L810.39 542.25 L811.34 545.10 L812.29 547.93 M815.32 557.06 L816.07 559.34 L817.01 562.19 L817.95 565.05 L818.88 567.90 L819.81 570.76 L820.73 573.61 L821.66 576.47 L822.22 578.20 M825.15 587.36 L826.23 590.77 L827.13 593.63 L828.03 596.50 L828.93 599.36 L829.82 602.23 L830.71 605.10 L831.78 608.58 M834.59 617.77 L835.10 619.45 L835.97 622.33 L836.84 625.20 L837.70 628.07 L838.56 630.95 L839.42 633.83 L840.28 636.70 L840.97 639.04 M843.69 648.24 L844.53 651.09 L845.38 653.97 L846.22 656.85 L847.07 659.73 L847.91 662.61 L848.75 665.50 L849.59 668.38 L849.93 669.55 M852.61 678.77 L852.93 679.90 L853.77 682.78 L854.61 685.66 L855.44 688.55 L856.28 691.43 L857.11 694.31 L857.95 697.19 L858.79 700.09 M861.47 709.31 L862.13 711.59 L862.97 714.47 L863.81 717.35 L864.65 720.23 L865.50 723.11 L866.34 725.98 L867.19 728.86 L867.70 730.62 M870.42 739.82 L871.44 743.24 L872.30 746.11 L873.16 748.98 L874.02 751.86 L874.88 754.73 L875.75 757.60 L876.81 761.08 M879.62 770.26 L880.13 771.93 L881.02 774.79 L881.90 777.66 L882.80 780.52 L883.69 783.38 L884.59 786.24 L885.50 789.09 L886.25 791.45 M889.19 800.59 L890.09 803.36 L891.02 806.21 L891.95 809.05 L892.89 811.90 L893.84 814.74 L894.79 817.58 L895.74 820.42 L896.16 821.66 M899.27 830.75 L899.62 831.76 L900.61 834.59 L901.60 837.42 L902.59 840.24 L903.59 843.07 L904.60 845.89 L905.62 848.70 L906.72 851.75 M910.05 860.80 L910.79 862.76 L911.84 865.56 L912.90 868.36 L913.97 871.16 L915.05 873.95 L916.13 876.74 L917.22 879.53 L918.04 881.60 M921.62 890.55 L922.79 893.43 L923.93 896.20 L925.08 898.96 L926.23 901.73 L927.39 904.48 L928.57 907.23 L929.76 909.97 L930.25 911.10 M934.23 919.88 L934.69 920.85 L935.97 923.55 L937.28 926.23 L938.61 928.89 L939.98 931.54 L941.37 934.17 L942.80 936.79 L944.43 939.68 M949.43 947.93 L950.46 949.53 L952.11 952.00 L953.81 954.45 L955.54 956.86 L957.33 959.24 L959.16 961.58 L961.03 963.88 L962.68 965.82 M969.24 972.88 L971.15 974.76 L973.32 976.79 L975.54 978.77 L977.81 980.69 L980.13 982.55 L982.51 984.33 L984.94 986.04 L986.43 987.00 M994.87 991.63 L998.05 992.96 L1000.87 993.91 L1003.74 994.68 L1006.67 995.24 L1009.64 995.57 L1012.63 995.63 L1015.63 995.43 L1016.54 995.27 M1025.71 992.45 L1027.13 991.76 L1029.76 990.20 L1032.27 988.43 L1034.64 986.49 L1036.87 984.39 L1038.99 982.16 L1040.97 979.83 L1041.60 979.05 L1041.60 977.74 M1045.40 969.43 L1047.21 967.10 L1049.03 964.70 L1050.83 962.28 L1052.60 959.84 L1054.35 957.39 L1056.08 954.93 L1057.80 952.45 L1058.51 951.41 M1063.88 943.41 L1064.50 942.46 L1066.15 939.95 L1067.79 937.43 L1069.43 934.92 L1071.06 932.40 L1072.69 929.88 L1074.31 927.36 L1076.02 924.72 M1081.29 916.65 L1082.50 914.81 L1084.16 912.32 L1085.83 909.84 L1087.52 907.37 L1089.22 904.91 L1090.93 902.46 L1092.67 900.03 L1093.93 898.29 M1099.72 890.59 L1101.67 888.12 L1103.54 885.80 L1105.45 883.51 L1107.39 881.24 L1109.35 879.00 L1111.35 876.78 L1113.39 874.60 L1114.25 873.71 M1121.11 866.94 L1121.87 866.23 L1124.08 864.23 L1126.33 862.27 L1128.61 860.36 L1130.94 858.49 L1133.30 856.67 L1135.69 854.87 L1137.97 853.67 M1137.97 863.31 L1137.97 867.56 L1139.58 865.02 L1141.18 862.46 L1142.75 859.89 L1144.30 857.30 L1145.83 854.70 L1147.31 852.13 M1151.98 843.69 L1153.14 841.52 L1154.53 838.85 L1155.91 836.17 L1157.27 833.48 L1158.60 830.78 L1159.92 828.06 L1161.21 825.34 L1161.95 823.77 M1165.94 814.99 L1167.41 811.61 L1168.60 808.85 L1169.77 806.07 L1170.93 803.29 L1172.07 800.50 L1173.19 797.71 L1174.49 794.41 M1177.95 785.42 L1178.61 783.67 L1179.65 780.85 L1180.69 778.02 L1181.71 775.20 L1182.73 772.37 L1183.74 769.53 L1184.73 766.70 L1185.52 764.46 M1188.66 755.34 L1189.62 752.50 L1190.59 749.65 L1191.55 746.81 L1192.50 743.96 L1193.45 741.11 L1194.41 738.27 L1195.36 735.42 L1195.76 734.22 M1198.81 725.07 L1199.15 724.04 L1200.10 721.19 L1201.05 718.35 L1202.00 715.50 L1202.95 712.65 L1203.90 709.81 L1204.85 706.96 L1205.86 703.93 M1208.90 694.79 L1209.59 692.73 L1210.53 689.88 L1211.48 687.03 L1212.43 684.19 L1213.37 681.34 L1214.32 678.49 L1215.26 675.65 L1215.93 673.64 M1218.96 664.49 L1219.98 661.41 L1220.93 658.56 L1221.87 655.71 L1222.81 652.85 L1223.74 650.00 L1224.67 647.15 L1225.60 644.29 L1225.91 643.31 M1228.84 634.13 L1229.24 632.83 L1230.13 629.96 L1231.02 627.09 L1231.89 624.21 L1232.75 621.32 L1233.60 618.44 L1234.43 615.55 L1235.22 612.78 M1237.80 603.49 L1238.45 601.06 L1239.23 598.15 L1239.99 595.24 L1240.74 592.33 L1241.49 589.42 L1242.22 586.51 L1242.95 583.59 L1243.36 581.91 M1245.63 572.54 L1246.47 568.99 L1247.16 566.06 L1247.84 563.14 L1248.51 560.21 L1249.18 557.28 L1249.84 554.35 L1250.63 550.82 M1252.71 541.41 L1253.08 539.70 L1253.72 536.76 L1254.36 533.83 L1254.99 530.90 L1255.62 527.96 L1256.25 525.03 L1256.88 522.10 L1257.41 519.63 M1259.42 510.20 L1260.01 507.43 L1260.64 504.50 L1261.27 501.56 L1261.90 498.63 L1262.54 495.70 L1263.17 492.77 L1263.81 489.84 L1264.12 488.42 M1266.18 479.00 L1266.37 478.12 L1267.02 475.19 L1267.67 472.26 L1268.32 469.34 L1268.97 466.41 L1269.63 463.48 L1270.28 460.56 L1271.03 457.25 M1273.17 447.85 L1273.61 445.94 L1274.28 443.01 L1274.95 440.09 L1275.63 437.17 L1276.31 434.25 L1276.99 431.33 L1277.68 428.41 L1278.21 426.14 M1280.44 416.77 L1281.15 413.83 L1281.85 410.91 L1282.55 408.00 L1283.26 405.08 L1283.97 402.17 L1284.69 399.26 L1285.40 396.35 L1285.71 395.11 M1288.04 385.76 L1288.30 384.71 L1289.03 381.81 L1289.77 378.90 L1290.51 375.99 L1291.25 373.09 L1292.00 370.19 L1292.74 367.28 L1293.55 364.16 M1296.00 354.84 L1296.54 352.78 L1297.31 349.89 L1298.08 346.99 L1298.86 344.09 L1299.64 341.20 L1300.42 338.31 L1301.21 335.41 L1301.78 333.32 M1304.35 324.03 L1305.20 320.97 L1306.01 318.08 L1306.82 315.20 L1307.64 312.32 L1308.46 309.43 L1309.29 306.55 L1310.12 303.67 L1310.41 302.67 M1313.09 293.45 L1313.47 292.16 L1314.32 289.29 L1315.17 286.41 L1316.03 283.54 L1316.89 280.67 L1317.76 277.80 L1318.63 274.93 L1319.47 272.19 M1322.29 263.01 L1323.04 260.62 L1323.94 257.76 L1324.85 254.91 L1325.76 252.05 L1326.68 249.20 L1327.60 246.35 L1328.54 243.51 L1329.08 241.88 M1332.15 232.78 L1333.35 229.34 L1334.34 226.52 L1335.35 223.71 L1336.37 220.90 L1337.40 218.09 L1338.45 215.31 L1339.79 211.94 M1343.83 203.23 L1344.53 201.90 L1346.01 199.38 L1347.61 196.93 L1349.32 194.55 L1351.15 192.26 L1353.09 190.06 L1355.15 187.96 L1357.44 185.87 M1365.35 180.47 L1367.15 179.58 L1369.91 178.54 L1372.78 177.80 L1375.73 177.36 L1378.72 177.24 L1381.71 177.45 L1384.69 178.00 L1386.76 178.62 M1395.39 182.65 L1398.32 184.54 L1400.78 186.31 L1403.19 188.15 L1405.54 190.05 L1407.85 191.97 L1410.15 193.92 L1412.90 196.26 M1420.20 202.50 L1421.56 203.67 L1423.81 205.66 L1426.05 207.68 L1428.26 209.74 L1430.43 211.84 L1432.55 214.00 L1434.63 216.19 L1436.17 217.89 M1442.36 225.23 L1444.35 227.78 L1446.16 230.21 L1447.93 232.66 L1449.66 235.13 L1451.36 237.64 L1453.02 240.17 L1454.64 242.71 L1455.07 243.41 M1459.99 251.65 L1460.82 253.09 L1462.29 255.72 L1463.74 258.37 L1465.16 261.03 L1466.57 263.69 L1467.96 266.37 L1469.32 269.05 L1470.43 271.25 M1474.63 279.88 L1475.91 282.59 L1477.17 285.33 L1478.43 288.06 L1479.66 290.81 L1480.88 293.56 L1482.09 296.32 L1483.28 299.09 L1483.72 300.13 M1487.40 308.99 L1487.89 310.21 L1489.01 313.00 L1490.12 315.80 L1491.21 318.61 L1492.29 321.42 L1493.36 324.23 L1494.42 327.05 L1495.45 329.84 M1498.73 338.93 L1499.52 341.19 L1500.51 344.03 L1501.49 346.88 L1502.46 349.72 L1503.42 352.57 L1504.37 355.43 L1505.31 358.28 L1505.91 360.10 M1508.86 369.31 L1509.90 372.60 L1510.79 375.46 L1511.68 378.34 L1512.56 381.21 L1513.43 384.08 L1514.30 386.96 L1515.16 389.84 L1515.41 390.68 M1518.15 399.95 L1518.56 401.36 L1519.40 404.25 L1520.23 407.13 L1521.06 410.02 L1521.88 412.91 L1522.70 415.79 L1523.52 418.68 L1524.30 421.44 M1526.91 430.75 L1527.57 433.13 L1528.38 436.02 L1529.18 438.91 L1529.99 441.81 L1530.79 444.70 L1531.59 447.59 L1532.39 450.48 L1532.85 452.14 M1535.41 461.39 L1536.39 464.94 L1537.19 467.83 L1537.99 470.72 L1538.79 473.61 L1539.58 476.51 L1540.38 479.40 L1541.32 482.79 M1543.88 492.04 L1544.38 493.85 L1545.18 496.74 L1545.98 499.64 L1546.78 502.53 L1547.58 505.42 L1548.39 508.31 L1549.19 511.20 L1549.81 513.43 M1552.39 522.68 L1553.22 525.64 L1554.02 528.53 L1554.83 531.42 L1555.64 534.31 L1556.46 537.19 L1557.27 540.08 L1558.08 542.97 L1558.39 544.06 M1561.01 553.29 L1561.36 554.51 L1562.18 557.39 L1563.00 560.28 L1563.83 563.16 L1564.65 566.04 L1565.48 568.92 L1566.31 571.80 L1567.11 574.56 M1569.78 583.75 L1570.49 586.20 L1571.34 589.08 L1572.18 591.95 L1573.03 594.83 L1573.88 597.71 L1574.73 600.58 L1575.59 603.45 L1576.04 604.97 M1578.79 614.13 L1579.04 614.94 L1579.90 617.81 L1580.78 620.68 L1581.65 623.55 L1582.53 626.41 L1583.41 629.28 L1584.29 632.14 L1585.27 635.29 M1588.12 644.42 L1588.75 646.45 L1589.66 649.31 L1590.56 652.17 L1591.47 655.02 L1592.39 657.88 L1593.30 660.73 L1594.22 663.58 L1594.84 665.50 M1597.82 674.60 L1598.88 677.83 L1599.82 680.67 L1600.77 683.52 L1601.72 686.36 L1602.67 689.20 L1603.63 692.04 L1604.82 695.58 M1607.89 704.64 L1608.44 706.24 L1609.41 709.08 L1610.38 711.92 L1611.35 714.76 L1612.32 717.59 L1613.29 720.43 L1614.27 723.27 L1615.06 725.58 M1618.18 734.62 L1619.15 737.45 L1620.13 740.29 L1621.10 743.12 L1622.08 745.96 L1623.05 748.80 L1624.03 751.64 L1625.00 754.47 L1625.37 755.55 M1628.46 764.60 L1628.88 765.83 L1629.85 768.68 L1630.81 771.52 L1631.77 774.36 L1632.73 777.21 L1633.69 780.05 L1634.64 782.90 L1635.54 785.56 M1638.55 794.65 L1639.37 797.15 L1640.30 800.00 L1641.23 802.86 L1642.16 805.72 L1643.08 808.57 L1644.00 811.43 L1644.91 814.29 L1645.38 815.77 M1648.28 824.92 L1648.54 825.74 L1649.45 828.60 L1650.35 831.46 L1651.26 834.32 L1652.16 837.18 L1653.07 840.03 L1653.97 842.89 L1654.99 846.08 M1657.93 855.22 L1658.56 857.16 L1659.49 860.01 L1660.42 862.85 L1661.36 865.70 L1662.31 868.54 L1663.26 871.38 L1664.22 874.21 L1664.93 876.29 M1668.09 885.35 L1669.16 888.34 L1670.17 891.16 L1671.20 893.97 L1672.24 896.77 L1673.28 899.58 L1674.34 902.37 L1675.42 905.16 L1675.81 906.17" stroke="#ff7f0e" stroke-width="6" stroke-linecap="butt"/>
<path d="M249.50 1153.60 L252.39 1154.37 L255.30 1155.06 L258.23 1155.69 L261.17 1156.27 L264.12 1156.82 L267.07 1157.35 L268.37 1157.59 M277.60 1159.49 L278.84 1159.78 L281.75 1160.56 L284.63 1161.44 L287.47 1162.45 L290.27 1163.60 L293.01 1164.89 L295.68 1166.33 L298.28 1167.93 L299.53 1168.78 M307.81 1175.03 L310.29 1177.04 L312.63 1178.93 L314.97 1180.78 L317.34 1182.59 L319.75 1184.32 L322.23 1185.94 L324.79 1187.41 L327.44 1188.65 M337.57 1189.75 L339.13 1189.41 L341.98 1188.30 L344.69 1186.89 L347.28 1185.30 L349.79 1183.59 L352.24 1181.83 L354.66 1180.04 L357.06 1178.22 L357.97 1177.51 M366.09 1171.08 L368.82 1168.88 L371.16 1167.01 L373.50 1165.14 L375.85 1163.28 L378.22 1161.45 L380.60 1159.63 L382.99 1157.85 L385.03 1156.38 M393.64 1150.66 L395.41 1149.58 L398.00 1148.10 L400.62 1146.67 L403.27 1145.28 L405.94 1143.92 L408.62 1142.58 L411.30 1141.25 L413.25 1140.27 M421.76 1135.82 L424.59 1134.21 L427.18 1132.67 L429.74 1131.07 L432.27 1129.42 L434.75 1127.71 L437.21 1125.95 L439.62 1124.13 L440.27 1123.61 M447.56 1117.38 L448.79 1116.23 L450.94 1114.09 L453.03 1111.89 L455.05 1109.63 L457.01 1107.30 L458.89 1104.91 L460.71 1102.47 L462.02 1100.59 M467.08 1092.44 L468.67 1089.48 L470.04 1086.76 L471.34 1084.00 L472.57 1081.21 L473.74 1078.40 L474.85 1075.57 L476.10 1072.18 M479.14 1063.07 L479.71 1061.23 L480.58 1058.33 L481.42 1055.44 L482.24 1052.54 L483.04 1049.64 L483.83 1046.74 L484.62 1043.84 L485.19 1041.71 M487.67 1032.44 L488.49 1029.33 L489.24 1026.42 L489.98 1023.50 L490.71 1020.58 L491.42 1017.65 L492.11 1014.72 L492.78 1011.78 L492.97 1010.88 M494.90 1001.48 L495.19 999.98 L495.73 997.03 L496.26 994.07 L496.76 991.11 L497.26 988.15 L497.73 985.19 L498.20 982.23 L498.61 979.59 M500.02 970.10 L500.41 967.41 L500.85 964.44 L501.28 961.47 L501.72 958.50 L502.16 955.53 L502.60 952.56 L503.05 949.59 L503.27 948.13 M504.73 938.65 L504.87 937.73 L505.34 934.76 L505.81 931.80 L506.28 928.84 L506.75 925.87 L507.23 922.91 L507.71 919.95 L508.24 916.72 M509.81 907.25 L510.17 905.15 L510.66 902.19 L511.17 899.23 L511.67 896.28 L512.18 893.32 L512.68 890.36 L513.19 887.41 L513.55 885.37 M515.20 875.91 L515.78 872.63 L516.30 869.68 L516.83 866.73 L517.36 863.77 L517.88 860.82 L518.41 857.87 L518.95 854.92 L519.10 854.06 M520.81 844.61 L521.09 843.11 L521.63 840.16 L522.17 837.21 L522.71 834.26 L523.25 831.31 L523.79 828.36 L524.33 825.41 L524.82 822.77 M526.57 813.33 L527.06 810.66 L527.61 807.71 L528.16 804.76 L528.71 801.81 L529.26 798.86 L529.81 795.91 L530.36 792.96 L530.63 791.50 M532.38 782.07 L532.55 781.16 L533.10 778.21 L533.65 775.26 L534.20 772.31 L534.75 769.36 L535.29 766.42 L535.84 763.47 L536.44 760.24 M538.19 750.80 L538.58 748.72 L539.13 745.77 L539.68 742.82 L540.23 739.87 L540.78 736.92 L541.33 733.97 L541.88 731.02 L542.27 728.98 M544.05 719.54 L544.67 716.29 L545.23 713.34 L545.79 710.40 L546.36 707.45 L546.93 704.50 L547.50 701.56 L548.07 698.62 L548.24 697.74 M550.10 688.32 L550.39 686.85 L550.98 683.91 L551.57 680.97 L552.16 678.03 L552.76 675.09 L553.36 672.15 L553.97 669.21 L554.51 666.56 M556.49 657.17 L557.05 654.54 L557.68 651.61 L558.31 648.68 L558.95 645.75 L559.59 642.83 L560.24 639.90 L560.89 636.97 L561.23 635.48 M563.36 626.12 L563.55 625.29 L564.23 622.37 L564.92 619.45 L565.61 616.53 L566.30 613.62 L567.00 610.71 L567.71 607.80 L568.52 604.52 M570.85 595.21 L571.35 593.26 L572.09 590.36 L572.85 587.46 L573.61 584.57 L574.37 581.67 L575.15 578.78 L575.93 575.89 L576.51 573.75 M579.09 564.50 L579.95 561.46 L580.78 558.59 L581.61 555.71 L582.46 552.84 L583.31 549.97 L584.18 547.11 L585.05 544.24 L585.37 543.20 M588.25 534.05 L588.64 532.82 L589.56 529.98 L590.50 527.13 L591.44 524.30 L592.40 521.46 L593.36 518.63 L594.34 515.80 L595.32 513.00 M598.58 503.97 L599.41 501.74 L600.46 498.94 L601.53 496.14 L602.61 493.35 L603.70 490.57 L604.81 487.79 L605.93 485.02 L606.64 483.29 M610.39 474.45 L611.80 471.31 L613.04 468.60 L614.33 465.92 L615.65 463.26 L617.00 460.61 L618.40 457.99 L619.84 455.39 L620.30 454.60 M625.43 446.48 L626.17 445.41 L627.95 443.07 L629.82 440.81 L631.81 438.64 L633.91 436.61 L636.15 434.71 L638.53 433.00 L641.37 431.34 M650.51 428.70 L652.39 428.65 L655.38 429.07 L658.31 429.84 L661.17 430.79 L664.00 431.84 L666.79 432.98 L669.55 434.19 L671.55 435.14 M679.99 439.71 L682.78 441.44 L685.29 443.11 L687.76 444.86 L690.18 446.67 L692.55 448.56 L694.86 450.53 L697.66 453.08 M704.36 459.95 L705.54 461.27 L707.50 463.58 L709.40 465.94 L711.26 468.34 L713.05 470.78 L714.80 473.26 L716.49 475.77 L717.71 477.65 M722.68 485.86 L724.29 488.74 L725.73 491.40 L727.14 494.07 L728.52 496.76 L729.86 499.46 L731.18 502.18 L732.81 505.61 M736.79 514.35 L737.46 515.87 L738.67 518.62 L739.88 521.38 L741.07 524.13 L742.26 526.89 L743.45 529.64 L744.63 532.40 L745.62 534.71 M749.39 543.54 L750.52 546.21 L751.68 548.98 L752.85 551.75 L754.01 554.52 L755.16 557.29 L756.31 560.06 L757.46 562.84 L757.94 564.02 M761.56 572.92 L761.98 573.97 L763.10 576.76 L764.21 579.56 L765.31 582.35 L766.40 585.15 L767.49 587.95 L768.57 590.76 L769.65 593.59 M773.02 602.58 L773.85 604.84 L774.87 607.66 L775.89 610.49 L776.91 613.32 L777.91 616.16 L778.90 618.99 L779.89 621.83 L780.46 623.49 M783.54 632.58 L784.70 636.07 L785.65 638.92 L786.58 641.78 L787.51 644.63 L788.43 647.49 L789.35 650.35 L790.41 653.70 M793.28 662.86 L793.84 664.69 L794.73 667.56 L795.60 670.43 L796.48 673.30 L797.35 676.18 L798.21 679.05 L799.07 681.93 L799.72 684.10 M802.44 693.31 L803.33 696.33 L804.17 699.21 L805.00 702.09 L805.84 704.97 L806.67 707.86 L807.50 710.74 L808.33 713.63 L808.62 714.63 M811.26 723.86 L811.63 725.17 L812.46 728.05 L813.28 730.94 L814.10 733.82 L814.92 736.71 L815.74 739.60 L816.56 742.48 L817.33 745.21 M819.96 754.45 L820.66 756.91 L821.48 759.79 L822.31 762.68 L823.13 765.56 L823.96 768.44 L824.78 771.32 L825.61 774.21 L826.07 775.79 M828.75 785.01 L829.80 788.60 L830.64 791.48 L831.49 794.35 L832.34 797.23 L833.20 800.10 L834.05 802.97 L835.05 806.29 M837.85 815.48 L838.41 817.31 L839.29 820.17 L840.18 823.03 L841.08 825.89 L841.98 828.75 L842.88 831.61 L843.79 834.46 L844.50 836.66 M847.47 845.79 L848.44 848.70 L849.38 851.54 L850.34 854.38 L851.30 857.21 L852.27 860.05 L853.25 862.88 L854.24 865.70 L854.62 866.80 M857.84 875.84 L858.26 876.98 L859.28 879.80 L860.32 882.60 L861.36 885.41 L862.42 888.21 L863.48 891.01 L864.55 893.80 L865.64 896.62 M869.18 905.54 L870.06 907.71 L871.19 910.48 L872.34 913.25 L873.49 916.01 L874.66 918.76 L875.83 921.51 L877.02 924.26 L877.78 926.00 M881.70 934.77 L883.14 937.91 L884.40 940.62 L885.67 943.32 L886.96 946.03 L888.26 948.72 L889.57 951.41 L891.25 954.80 M895.60 963.36 L896.33 964.74 L897.72 967.39 L899.13 970.03 L900.55 972.66 L901.98 975.29 L903.43 977.90 L904.89 980.51 L906.22 982.85 M911.04 991.15 L912.41 993.44 L913.95 996.00 L915.51 998.55 L917.08 1001.10 L918.67 1003.63 L920.27 1006.16 L921.89 1008.68 L922.75 1010.00 M928.04 1018.01 L930.16 1021.13 L931.86 1023.59 L933.57 1026.05 L935.30 1028.49 L937.04 1030.93 L938.79 1033.35 L940.84 1036.14 M946.60 1043.82 L947.76 1045.32 L949.59 1047.68 L951.44 1050.03 L953.30 1052.38 L955.18 1054.71 L957.07 1057.03 L958.97 1059.33 L960.48 1061.14 M966.71 1068.44 L968.69 1070.71 L970.68 1072.95 L972.68 1075.17 L974.69 1077.39 L976.71 1079.59 L978.75 1081.78 L980.80 1083.96 L981.65 1084.85 M988.33 1091.74 L989.14 1092.56 L991.26 1094.67 L993.39 1096.77 L995.53 1098.86 L997.68 1100.94 L999.85 1103.00 L1002.03 1105.05 L1004.30 1107.16 M1011.42 1113.59 L1013.13 1115.10 L1015.39 1117.06 L1017.66 1119.02 L1019.94 1120.96 L1022.23 1122.88 L1024.54 1124.79 L1026.85 1126.68 L1028.38 1127.91 M1035.91 1133.86 L1038.62 1135.94 L1041.01 1137.75 L1041.60 1138.19 L1041.60 1130.20 L1044.60 1132.85 L1046.91 1134.82 M1054.41 1140.81 L1056.60 1142.44 L1059.60 1144.69 L1062.60 1146.87 L1065.60 1148.87 L1068.60 1150.58 L1071.60 1151.96 L1073.12 1152.61 M1082.18 1155.72 L1083.60 1156.04 L1086.60 1156.43 L1089.60 1156.74 L1092.60 1156.94 L1095.60 1156.99 L1098.60 1156.74 L1101.60 1156.23 L1104.18 1155.68 M1113.15 1152.35 L1116.60 1150.51 L1119.60 1148.69 L1122.60 1146.46 L1125.60 1143.94 L1128.60 1141.26 L1130.88 1139.17 M1137.59 1132.31 L1137.97 1143.93 L1139.96 1141.67 L1141.93 1139.38 L1144.22 1136.63 M1150.17 1129.10 L1151.32 1127.58 L1153.11 1125.15 L1154.87 1122.70 L1156.61 1120.23 L1158.32 1117.75 L1160.00 1115.24 L1161.65 1112.72 L1162.83 1110.88 M1167.87 1102.71 L1169.54 1099.87 L1171.05 1097.26 L1172.54 1094.64 L1174.00 1092.00 L1175.44 1089.36 L1176.87 1086.70 L1178.27 1084.04 L1178.65 1083.31 M1183.01 1074.76 L1183.73 1073.31 L1185.06 1070.61 L1186.38 1067.90 L1187.68 1065.19 L1188.98 1062.48 L1190.26 1059.76 L1191.54 1057.04 L1192.60 1054.75 M1196.62 1046.03 L1197.82 1043.40 L1199.07 1040.67 L1200.31 1037.94 L1201.56 1035.21 L1202.81 1032.48 L1204.05 1029.76 L1205.30 1027.03 L1205.85 1025.84 M1209.89 1017.14 L1210.35 1016.16 L1211.62 1013.44 L1212.89 1010.73 L1214.16 1008.01 L1215.44 1005.30 L1216.72 1002.59 L1218.00 999.88 L1219.34 997.05 M1223.44 988.38 L1224.42 986.32 L1225.70 983.60 L1226.98 980.89 L1228.26 978.18 L1229.54 975.46 L1230.81 972.75 L1232.09 970.03 L1232.91 968.30 M1237.02 959.63 L1238.52 956.50 L1239.82 953.80 L1241.13 951.11 L1242.45 948.42 L1243.78 945.74 L1245.13 943.07 L1246.83 939.72 M1251.30 931.22 L1252.05 929.82 L1253.48 927.20 L1254.93 924.59 L1256.40 921.98 L1257.88 919.39 L1259.38 916.80 L1260.90 914.23 L1262.27 911.93 M1267.28 903.74 L1268.70 901.47 L1270.30 898.94 L1271.91 896.41 L1273.52 893.88 L1275.14 891.36 L1276.76 888.83 L1278.37 886.30 L1279.20 885.02 M1284.37 876.93 L1284.84 876.20 L1286.46 873.68 L1288.09 871.15 L1289.71 868.64 L1291.34 866.12 L1292.97 863.60 L1294.61 861.09 L1296.44 858.30 M1301.74 850.30 L1302.87 848.60 L1304.55 846.12 L1306.23 843.64 L1307.91 841.16 L1309.61 838.69 L1311.31 836.22 L1313.01 833.75 L1314.25 831.97 M1319.74 824.10 L1321.59 821.46 L1323.32 819.01 L1325.04 816.56 L1326.77 814.10 L1328.50 811.65 L1330.22 809.20 L1331.95 806.74 L1332.51 805.94 M1338.02 798.08 L1338.84 796.91 L1340.56 794.45 L1342.27 791.98 L1343.98 789.51 L1345.68 787.04 L1347.38 784.56 L1349.07 782.08 L1350.62 779.80 M1355.96 771.83 L1357.43 769.60 L1359.08 767.08 L1360.72 764.56 L1362.34 762.03 L1363.96 759.50 L1365.57 756.96 L1367.16 754.40 L1367.94 753.15 M1372.92 744.94 L1373.41 744.12 L1374.93 741.52 L1376.44 738.92 L1377.94 736.30 L1379.41 733.68 L1380.87 731.04 L1382.31 728.39 L1383.80 725.60 M1388.20 717.07 L1389.24 715.03 L1390.59 712.35 L1391.94 709.68 L1393.29 707.01 L1394.66 704.35 L1396.05 701.71 L1397.46 699.08 L1398.41 697.36 M1403.26 689.08 L1405.04 686.31 L1406.70 683.85 L1408.42 681.44 L1410.20 679.07 L1412.05 676.76 L1413.96 674.50 L1415.95 672.31 L1416.74 671.50 M1423.77 664.98 L1424.63 664.26 L1426.98 662.46 L1429.40 660.74 L1431.89 659.13 L1434.46 657.63 L1437.09 656.26 L1439.79 655.03 L1442.86 653.87 M1452.21 651.80 L1454.21 651.62 L1457.21 651.55 L1460.21 651.70 L1463.20 652.05 L1466.16 652.61 L1469.08 653.37 L1471.96 654.32 L1473.92 655.10 M1482.47 659.45 L1485.37 661.27 L1487.87 662.98 L1490.32 664.76 L1492.71 666.60 L1495.07 668.50 L1497.37 670.46 L1500.09 672.88 M1506.99 679.55 L1508.29 680.88 L1510.36 683.07 L1512.41 685.29 L1514.42 687.54 L1516.41 689.80 L1518.37 692.10 L1520.30 694.41 L1521.72 696.14 M1527.64 703.70 L1529.58 706.29 L1531.36 708.73 L1533.12 711.18 L1534.85 713.65 L1536.56 716.13 L1538.24 718.63 L1539.90 721.15 L1540.37 721.88 M1545.49 730.00 L1546.32 731.35 L1547.87 733.94 L1549.40 736.53 L1550.92 739.14 L1552.41 741.75 L1553.89 744.38 L1555.34 747.01 L1556.55 749.23 M1561.05 757.71 L1562.39 760.31 L1563.76 762.99 L1565.11 765.68 L1566.45 768.37 L1567.78 771.07 L1569.10 773.78 L1570.40 776.49 L1570.93 777.59 M1575.01 786.27 L1575.52 787.37 L1576.77 790.11 L1578.02 792.84 L1579.25 795.58 L1580.48 798.33 L1581.70 801.08 L1582.91 803.83 L1584.09 806.53 M1587.88 815.35 L1588.85 817.63 L1590.01 820.40 L1591.17 823.17 L1592.33 825.94 L1593.48 828.72 L1594.63 831.50 L1595.77 834.27 L1596.41 835.84 M1600.02 844.74 L1601.41 848.18 L1602.53 850.97 L1603.65 853.75 L1604.77 856.54 L1605.88 859.33 L1606.99 862.12 L1608.28 865.34 M1611.83 874.26 L1612.54 876.05 L1613.66 878.84 L1614.77 881.62 L1615.88 884.41 L1617.00 887.19 L1618.11 889.97 L1619.23 892.75 L1620.09 894.87 M1623.69 903.77 L1624.87 906.64 L1626.01 909.41 L1627.15 912.18 L1628.30 914.95 L1629.45 917.71 L1630.61 920.48 L1631.78 923.24 L1632.22 924.27 M1636.00 933.09 L1636.50 934.25 L1637.70 936.99 L1638.90 939.73 L1640.12 942.47 L1641.34 945.20 L1642.57 947.93 L1643.81 950.65 L1645.05 953.36 M1649.12 962.05 L1650.15 964.21 L1651.45 966.90 L1652.76 969.59 L1654.08 972.28 L1655.41 974.96 L1656.76 977.63 L1658.12 980.29 L1658.97 981.95 M1663.43 990.45 L1665.09 993.52 L1666.53 996.15 L1667.97 998.76 L1669.44 1001.37 L1670.91 1003.97 L1672.41 1006.56 L1674.30 1009.80" stroke="#2ca02c" stroke-width="6" stroke-linecap="butt"/>
</g>
<path d="M408.16 1162.50 v14.00 M725.47 1162.50 v14.00 M1042.78 1162.50 v14.00 M1360.09 1162.50 v14.00 M1677.40 1162.50 v14.00 M249.50 1162.50 h-14.00 M249.50 985.17 h-14.00 M249.50 807.83 h-14.00 M249.50 630.50 h-14.00 M249.50 453.17 h-14.00 M249.50 275.83 h-14.00 M249.50 98.50 h-14.00" stroke="#000" stroke-width="3.20" fill="none"/>
<rect x="249.50" y="98.50" width="1427.90" height="1064.00" fill="none" stroke="#000" stroke-width="3.20" stroke-linejoin="miter"/>
<g font-size="56.0">
<text x="408.2" y="1232.0" text-anchor="middle">20</text>
<text x="725.5" y="1232.0" text-anchor="middle">40</text>
<text x="1042.8" y="1232.0" text-anchor="middle">60</text>
<text x="1360.1" y="1232.0" text-anchor="middle">80</text>
<text x="1677.4" y="1232.0" text-anchor="middle">100</text>
<text x="221.0" y="1182.9" text-anchor="end">0</text>
<text x="221.0" y="1005.6" text-anchor="end">20</text>
<text x="221.0" y="828.2" text-anchor="end">40</text>
<text x="221.0" y="650.9" text-anchor="end">60</text>
<text x="221.0" y="473.6" text-anchor="end">80</text>
<text x="221.0" y="296.2" text-anchor="end">100</text>
<text x="221.0" y="118.9" text-anchor="end">120</text>
</g>
<text x="964.5" y="73.7" font-size="48.0" text-anchor="middle" xml:space="preserve"><tspan>070918 - </tspan><tspan class="b">97.7nm</tspan><tspan>, shots: 7-20</tspan></text>
<text x="964.5" y="1302.8" font-size="56.0" text-anchor="middle" xml:space="preserve"><tspan class="b">Time</tspan> (<tspan class="i">μs</tspan>)</text>
<text transform="translate(86 628.7) rotate(-90)" font-size="56.0" text-anchor="middle" xml:space="preserve"><tspan class="b">PhotoCurrent</tspan> (<tspan class="i">μA</tspan>)</text>
<g clip-path="url(#c1)" fill="none" stroke-linejoin="round">
<path d="M249.50 2531.14 L252.39 2531.92 L255.29 2532.68 L258.20 2533.42 L261.11 2534.13 L264.03 2534.83 L266.95 2535.50 L269.87 2536.15 L272.81 2536.78 L275.74 2537.39 L278.68 2537.98 L281.62 2538.55 L284.57 2539.10 L287.52 2539.63 L290.48 2540.14 L293.44 2540.63 L296.40 2541.11 L299.36 2541.56 L302.33 2542.00 L305.30 2542.42 L308.27 2542.83 L311.24 2543.22 L314.22 2543.59 L317.20 2543.94 L320.18 2544.28 L323.16 2544.60 L326.14 2544.89 L329.13 2545.17 L332.12 2545.42 L335.11 2545.64 L338.10 2545.83 L341.10 2545.99 L344.09 2546.12 L347.09 2546.22 L350.09 2546.28 L353.09 2546.30 L356.09 2546.27 L359.09 2546.21 L362.09 2546.10 L365.09 2545.95 L368.08 2545.74 L371.07 2545.49 L374.06 2545.19 L377.04 2544.83 L380.02 2544.44 L382.99 2544.00 L385.95 2543.53 L388.91 2543.03 L391.87 2542.50 L394.82 2541.95 L397.76 2541.37 L400.70 2540.78 L403.64 2540.18 L406.58 2539.57 L409.52 2538.96 L412.46 2538.34 L415.39 2537.72 L418.33 2537.12 L421.27 2536.52 L424.21 2535.93 L427.15 2535.36 L430.10 2534.81 L433.05 2534.26 L436.00 2533.67 L438.93 2533.01 L441.84 2532.23 L444.72 2531.30 L447.53 2530.17 L450.26 2528.78 L452.85 2527.11 L455.25 2525.15 L457.46 2522.98 L459.49 2520.64 L461.37 2518.20 L463.11 2515.68 L464.76 2513.10 L466.32 2510.49 L467.82 2507.86 L469.28 2505.21 L470.71 2502.55 L472.11 2499.87 L473.47 2497.17 L474.80 2494.45 L476.09 2491.72 L477.35 2488.97 L478.58 2486.20 L479.77 2483.43 L480.93 2480.63 L482.05 2477.82 L483.14 2475.01 L484.21 2472.18 L485.24 2469.34 L486.25 2466.49 L487.23 2463.64 L488.19 2460.77 L489.12 2457.90 L490.03 2455.03 L490.92 2452.15 L491.79 2449.26 L492.64 2446.38 L493.48 2443.48 L494.30 2440.59 L495.11 2437.69 L495.91 2434.79 L496.69 2431.89 L497.47 2428.98 L498.24 2426.08 L499.00 2423.17 L499.76 2420.27 L500.51 2417.36 L501.27 2414.46 L502.02 2411.55 L502.76 2408.65 L503.51 2405.74 L504.25 2402.83 L505.00 2399.92 L505.74 2397.01 L506.47 2394.10 L507.21 2391.19 L507.94 2388.28 L508.67 2385.37 L509.40 2382.46 L510.12 2379.55 L510.84 2376.63 L511.56 2373.72 L512.28 2370.80 L513.00 2367.89 L513.71 2364.97 L514.42 2362.06 L515.12 2359.14 L515.82 2356.22 L516.52 2353.30 L517.22 2350.38 L517.92 2347.46 L518.61 2344.54 L519.29 2341.62 L519.98 2338.69 L520.66 2335.77 L521.34 2332.85 L522.01 2329.92 L522.68 2326.99 L523.35 2324.07 L524.01 2321.14 L524.67 2318.21 L525.33 2315.28 L525.98 2312.35 L526.63 2309.42 L527.28 2306.49 L527.92 2303.56 L528.55 2300.62 L529.19 2297.69 L529.82 2294.75 L530.44 2291.82 L531.06 2288.88 L531.68 2285.94 L532.29 2283.00 L532.90 2280.07 L533.51 2277.12 L534.11 2274.18 L534.70 2271.24 L535.29 2268.30 L535.88 2265.35 L536.46 2262.41 L537.04 2259.47 L537.62 2256.52 L538.19 2253.57 L538.75 2250.63 L539.32 2247.68 L539.88 2244.73 L540.44 2241.78 L541.00 2238.83 L541.55 2235.89 L542.10 2232.94 L542.65 2229.99 L543.20 2227.04 L543.74 2224.09 L544.29 2221.14 L544.83 2218.19 L545.38 2215.23 L545.92 2212.28 L546.46 2209.33 L547.00 2206.38 L547.54 2203.43 L548.08 2200.48 L548.63 2197.53 L549.17 2194.58 L549.71 2191.63 L550.26 2188.68 L550.80 2185.73 L551.35 2182.78 L551.89 2179.83 L552.44 2176.88 L553.00 2173.93 L553.55 2170.99 L554.11 2168.04 L554.66 2165.09 L555.22 2162.14 L555.78 2159.20 L556.35 2156.25 L556.91 2153.31 L557.48 2150.36 L558.05 2147.42 L558.62 2144.47 L559.19 2141.53 L559.77 2138.58 L560.35 2135.64 L560.92 2132.70 L561.51 2129.76 L562.09 2126.82 L562.68 2123.87 L563.27 2120.93 L563.86 2117.99 L564.45 2115.05 L565.05 2112.11 L565.65 2109.18 L566.25 2106.24 L566.85 2103.30 L567.46 2100.36 L568.07 2097.43 L568.68 2094.49 L569.29 2091.56 L569.91 2088.62 L570.53 2085.69 L571.15 2082.75 L571.77 2079.82 L572.40 2076.89 L573.03 2073.96 L573.66 2071.02 L574.30 2068.09 L574.94 2065.16 L575.58 2062.24 L576.22 2059.31 L576.87 2056.38 L577.52 2053.45 L578.17 2050.53 L578.83 2047.60 L579.49 2044.67 L580.15 2041.75 L580.81 2038.83 L581.48 2035.90 L582.15 2032.98 L582.83 2030.06 L583.50 2027.14 L584.18 2024.22 L584.86 2021.30 L585.55 2018.38 L586.24 2015.46 L586.93 2012.54 L587.62 2009.62 L588.31 2006.71 L589.01 2003.79 L589.71 2000.87 L590.41 1997.96 L591.11 1995.04 L591.82 1992.13 L592.53 1989.22 L593.24 1986.30 L593.95 1983.39 L594.66 1980.48 L595.37 1977.56 L596.09 1974.65 L596.81 1971.74 L597.53 1968.83 L598.25 1965.92 L598.97 1963.01 L599.70 1960.10 L600.42 1957.19 L601.15 1954.28 L601.88 1951.37 L602.61 1948.46 L603.34 1945.55 L604.07 1942.64 L604.80 1939.73 L605.54 1936.83 L606.28 1933.92 L607.02 1931.02 L607.77 1928.12 L608.52 1925.22 L609.28 1922.32 L610.05 1919.43 L610.83 1916.54 L611.62 1913.65 L612.41 1910.77 L613.22 1907.89 L614.05 1905.01 L614.88 1902.14 L615.73 1899.27 L616.60 1896.41 L617.48 1893.56 L618.38 1890.71 L619.30 1887.87 L620.24 1885.04 L621.20 1882.21 L622.18 1879.39 L623.18 1876.58 L624.20 1873.78 L625.25 1870.98 L626.31 1868.20 L627.41 1865.43 L628.52 1862.66 L629.66 1859.90 L630.83 1857.16 L632.01 1854.42 L633.23 1851.70 L634.46 1848.98 L635.72 1846.28 L637.01 1843.59 L638.32 1840.91 L639.65 1838.24 L641.01 1835.58 L642.39 1832.94 L643.80 1830.32 L645.26 1827.75 L646.78 1825.21 L648.37 1822.74 L650.05 1820.33 L651.84 1818.01 L653.76 1815.81 L655.82 1813.74 L658.04 1811.85 L660.43 1810.18 L662.99 1808.76 L665.71 1807.65 L668.56 1806.86 L671.49 1806.37 L674.48 1806.17 L677.48 1806.25 L680.47 1806.60 L683.43 1807.19 L686.34 1808.00 L689.20 1808.98 L692.00 1810.09 L694.77 1811.30 L697.50 1812.58 L700.20 1813.90 L702.89 1815.24 L705.57 1816.56 L708.27 1817.85 L710.99 1819.07 L713.75 1820.23 L716.53 1821.37 L719.30 1822.55 L722.04 1823.82 L724.72 1825.24 L727.32 1826.86 L729.80 1828.63 L732.18 1830.52 L734.48 1832.50 L736.71 1834.55 L738.88 1836.68 L740.99 1838.86 L743.03 1841.11 L745.01 1843.40 L746.93 1845.75 L748.80 1848.15 L750.60 1850.58 L752.35 1853.06 L754.05 1855.57 L755.71 1858.11 L757.31 1860.67 L758.88 1863.26 L760.40 1865.88 L761.89 1868.51 L763.34 1871.16 L764.77 1873.82 L766.16 1876.49 L767.54 1879.18 L768.89 1881.87 L770.22 1884.57 L771.54 1887.27 L772.85 1889.98 L774.14 1892.69 L775.43 1895.41 L776.72 1898.12 L778.00 1900.84 L779.27 1903.56 L780.53 1906.29 L781.79 1909.02 L783.05 1911.74 L784.30 1914.47 L785.54 1917.21 L786.79 1919.94 L788.03 1922.67 L789.26 1925.41 L790.50 1928.14 L791.73 1930.88 L792.96 1933.62 L794.19 1936.35 L795.42 1939.09 L796.65 1941.83 L797.88 1944.56 L799.11 1947.30 L800.35 1950.03 L801.58 1952.76 L802.82 1955.49 L804.05 1958.22 L805.30 1960.95 L806.54 1963.68 L807.79 1966.40 L809.05 1969.12 L810.30 1971.84 L811.57 1974.56 L812.84 1977.27 L814.11 1979.98 L815.40 1982.69 L816.69 1985.39 L817.98 1988.09 L819.29 1990.79 L820.60 1993.48 L821.92 1996.16 L823.25 1998.85 L824.59 2001.52 L825.94 2004.20 L827.29 2006.87 L828.65 2009.54 L830.02 2012.21 L831.39 2014.87 L832.77 2017.53 L834.15 2020.19 L835.54 2022.85 L836.93 2025.50 L838.33 2028.15 L839.73 2030.80 L841.13 2033.45 L842.54 2036.10 L843.95 2038.74 L845.36 2041.39 L846.77 2044.03 L848.19 2046.68 L849.60 2049.32 L851.02 2051.97 L852.44 2054.61 L853.86 2057.26 L855.27 2059.90 L856.69 2062.55 L858.11 2065.19 L859.52 2067.84 L860.93 2070.49 L862.34 2073.14 L863.75 2075.79 L865.15 2078.44 L866.56 2081.10 L867.95 2083.75 L869.35 2086.41 L870.74 2089.07 L872.13 2091.73 L873.53 2094.39 L874.91 2097.05 L876.30 2099.71 L877.69 2102.37 L879.08 2105.03 L880.46 2107.69 L881.85 2110.34 L883.24 2113.00 L884.63 2115.66 L886.03 2118.32 L887.42 2120.97 L888.82 2123.62 L890.22 2126.27 L891.62 2128.92 L893.03 2131.57 L894.44 2134.21 L895.85 2136.86 L897.27 2139.49 L898.70 2142.13 L900.13 2144.76 L901.56 2147.39 L903.00 2150.02 L904.45 2152.64 L905.91 2155.26 L907.37 2157.87 L908.85 2160.48 L910.33 2163.08 L911.81 2165.68 L913.31 2168.27 L914.82 2170.86 L916.33 2173.44 L917.85 2176.02 L919.38 2178.60 L920.92 2181.17 L922.46 2183.73 L924.02 2186.29 L925.58 2188.85 L927.15 2191.40 L928.72 2193.95 L930.31 2196.49 L931.90 2199.03 L933.49 2201.56 L935.10 2204.09 L936.71 2206.62 L938.32 2209.14 L939.95 2211.66 L941.58 2214.18 L943.21 2216.69 L944.85 2219.19 L946.50 2221.70 L948.15 2224.19 L949.81 2226.67 L951.50 2229.13 L953.22 2231.57 L954.97 2233.97 L956.78 2236.32 L958.63 2238.63 L960.56 2240.88 L962.55 2243.06 L964.63 2245.16 L966.80 2247.16 L969.07 2249.04 L971.43 2250.80 L973.90 2252.41 L976.47 2253.87 L979.14 2255.17 L981.89 2256.28 L984.71 2257.21 L987.59 2257.94 L990.53 2258.45 L993.51 2258.75 L996.50 2258.84 L999.50 2258.73 L1002.49 2258.45 L1005.47 2258.01 L1008.43 2257.44 L1011.35 2256.74 L1014.26 2255.94 L1017.13 2255.05 L1019.98 2254.07 L1022.81 2253.03 L1025.61 2251.93 L1028.39 2250.79 L1031.16 2249.63 L1033.92 2248.45 L1036.68 2247.28 L1039.45 2246.13 L1042.22 2244.98 L1044.99 2243.83 L1047.76 2242.69 L1050.53 2241.54 L1053.30 2240.37 L1056.06 2239.20 L1058.82 2238.00 L1061.56 2236.78 L1064.30 2235.52 L1067.01 2234.23 L1069.71 2232.90 L1072.39 2231.52 L1075.04 2230.09 L1077.66 2228.60 L1080.25 2227.05 L1082.80 2225.44 L1085.31 2223.75 L1087.77 2221.99 L1090.18 2220.15 L1092.53 2218.23 L1094.81 2216.24 L1097.03 2214.17 L1099.20 2212.05 L1101.30 2209.86 L1103.35 2207.63 L1105.34 2205.34 L1107.27 2203.01 L1109.16 2200.64 L1110.99 2198.23 L1112.78 2195.79 L1114.53 2193.32 L1116.23 2190.82 L1117.89 2188.29 L1119.51 2185.74 L1121.10 2183.17 L1122.65 2180.57 L1124.17 2177.96 L1125.66 2175.33 L1127.12 2172.69 L1128.54 2170.02 L1129.94 2167.34 L1131.30 2164.65 L1132.64 2161.95 L1133.96 2159.23 L1135.25 2156.50 L1136.51 2153.76 L1137.76 2151.02 L1138.98 2148.26 L1140.18 2145.50 L1141.36 2142.73 L1142.53 2139.95 L1143.68 2137.16 L1144.81 2134.38 L1145.93 2131.58 L1147.04 2128.79 L1148.14 2125.99 L1149.23 2123.19 L1150.32 2120.39 L1151.40 2117.58 L1152.47 2114.78 L1153.54 2111.98 L1154.61 2109.17 L1155.68 2106.37 L1156.75 2103.57 L1157.83 2100.77 L1158.90 2097.98 L1159.99 2095.19 L1161.08 2092.40 L1162.18 2089.62 L1163.29 2086.84 L1164.41 2084.06 L1165.54 2081.30 L1166.69 2078.54 L1167.85 2075.78 L1169.03 2073.04 L1170.23 2070.30 L1171.44 2067.57 L1172.67 2064.84 L1173.91 2062.12 L1175.17 2059.41 L1176.44 2056.70 L1177.71 2053.99 L1179.00 2051.29 L1180.30 2048.59 L1181.60 2045.89 L1182.90 2043.19 L1184.21 2040.49 L1185.53 2037.80 L1186.84 2035.10 L1188.15 2032.40 L1189.46 2029.70 L1190.77 2027.00 L1192.07 2024.29 L1193.37 2021.58 L1194.66 2018.87 L1195.94 2016.14 L1197.21 2013.42 L1198.47 2010.69 L1199.72 2007.95 L1200.95 2005.20 L1202.17 2002.44 L1203.37 1999.69 L1204.56 1996.92 L1205.74 1994.16 L1206.91 1991.39 L1208.07 1988.62 L1209.23 1985.84 L1210.38 1983.07 L1211.52 1980.29 L1212.67 1977.52 L1213.81 1974.74 L1214.95 1971.97 L1216.09 1969.20 L1217.24 1966.43 L1218.39 1963.67 L1219.55 1960.90 L1220.72 1958.15 L1221.89 1955.40 L1223.08 1952.65 L1224.28 1949.91 L1225.49 1947.18 L1226.72 1944.45 L1227.96 1941.73 L1229.22 1939.03 L1230.50 1936.33 L1231.79 1933.64 L1233.11 1930.95 L1234.44 1928.27 L1235.78 1925.60 L1237.14 1922.94 L1238.52 1920.28 L1239.90 1917.63 L1241.29 1914.98 L1242.70 1912.34 L1244.11 1909.70 L1245.54 1907.06 L1246.97 1904.43 L1248.40 1901.80 L1249.84 1899.17 L1251.29 1896.55 L1252.73 1893.92 L1254.18 1891.29 L1255.64 1888.67 L1257.09 1886.05 L1258.54 1883.42 L1260.00 1880.80 L1261.46 1878.19 L1262.92 1875.58 L1264.41 1872.98 L1265.90 1870.40 L1267.42 1867.83 L1268.96 1865.27 L1270.53 1862.74 L1272.13 1860.23 L1273.76 1857.74 L1275.43 1855.28 L1277.15 1852.85 L1278.90 1850.45 L1280.71 1848.09 L1282.56 1845.77 L1284.46 1843.49 L1286.42 1841.26 L1288.44 1839.09 L1290.52 1836.97 L1292.65 1834.90 L1294.84 1832.90 L1297.10 1830.97 L1299.41 1829.11 L1301.79 1827.32 L1304.22 1825.62 L1306.71 1824.00 L1309.27 1822.48 L1311.88 1821.05 L1314.54 1819.72 L1317.26 1818.51 L1320.03 1817.41 L1322.84 1816.43 L1325.70 1815.57 L1328.59 1814.84 L1331.52 1814.24 L1334.47 1813.77 L1337.45 1813.45 L1340.44 1813.28 L1343.44 1813.27 L1346.44 1813.44 L1349.42 1813.80 L1352.39 1814.35 L1355.31 1815.12 L1358.18 1816.07 L1360.99 1817.21 L1363.72 1818.52 L1366.39 1819.99 L1368.97 1821.59 L1371.47 1823.30 L1373.90 1825.13 L1376.26 1827.04 L1378.54 1829.03 L1380.77 1831.09 L1382.93 1833.21 L1385.04 1835.38 L1387.10 1837.59 L1389.12 1839.84 L1391.11 1842.12 L1393.05 1844.42 L1394.97 1846.74 L1396.87 1849.08 L1398.75 1851.43 L1400.61 1853.80 L1402.45 1856.18 L1404.28 1858.58 L1406.08 1860.99 L1407.87 1863.41 L1409.64 1865.84 L1411.39 1868.29 L1413.13 1870.75 L1414.84 1873.23 L1416.54 1875.71 L1418.22 1878.21 L1419.89 1880.72 L1421.53 1883.24 L1423.16 1885.78 L1424.78 1888.32 L1426.37 1890.87 L1427.95 1893.44 L1429.51 1896.01 L1431.06 1898.59 L1432.59 1901.18 L1434.11 1903.79 L1435.61 1906.40 L1437.09 1909.01 L1438.56 1911.64 L1440.01 1914.28 L1441.45 1916.92 L1442.88 1919.57 L1444.29 1922.23 L1445.69 1924.89 L1447.07 1927.57 L1448.44 1930.24 L1449.80 1932.93 L1451.15 1935.62 L1452.48 1938.31 L1453.81 1941.02 L1455.12 1943.72 L1456.42 1946.44 L1457.70 1949.15 L1458.98 1951.88 L1460.25 1954.60 L1461.51 1957.34 L1462.76 1960.07 L1463.99 1962.81 L1465.22 1965.55 L1466.45 1968.30 L1467.66 1971.05 L1468.87 1973.80 L1470.06 1976.56 L1471.25 1979.32 L1472.44 1982.08 L1473.62 1984.84 L1474.79 1987.61 L1475.95 1990.38 L1477.11 1993.15 L1478.27 1995.92 L1479.42 1998.70 L1480.56 2001.47 L1481.70 2004.25 L1482.84 2007.03 L1483.97 2009.81 L1485.10 2012.60 L1486.22 2015.38 L1487.34 2018.17 L1488.45 2020.96 L1489.56 2023.75 L1490.67 2026.54 L1491.77 2029.34 L1492.86 2032.13 L1493.96 2034.93 L1495.05 2037.73 L1496.14 2040.52 L1497.22 2043.32 L1498.30 2046.13 L1499.38 2048.93 L1500.45 2051.73 L1501.52 2054.54 L1502.59 2057.34 L1503.66 2060.15 L1504.72 2062.96 L1505.78 2065.76 L1506.84 2068.57 L1507.90 2071.38 L1508.95 2074.19 L1510.00 2077.00 L1511.05 2079.82 L1512.10 2082.63 L1513.15 2085.44 L1514.19 2088.25 L1515.23 2091.07 L1516.27 2093.88 L1517.31 2096.70 L1518.35 2099.51 L1519.39 2102.33 L1520.43 2105.14 L1521.46 2107.96 L1522.50 2110.78 L1523.53 2113.59 L1524.57 2116.41 L1525.60 2119.23 L1526.63 2122.04 L1527.67 2124.86 L1528.70 2127.68 L1529.73 2130.49 L1530.76 2133.31 L1531.80 2136.13 L1532.83 2138.94 L1533.86 2141.76 L1534.90 2144.58 L1535.93 2147.39 L1536.97 2150.21 L1538.00 2153.02 L1539.04 2155.84 L1540.08 2158.65 L1541.11 2161.46 L1542.15 2164.28 L1543.20 2167.09 L1544.24 2169.90 L1545.28 2172.71 L1546.33 2175.52 L1547.37 2178.33 L1548.42 2181.14 L1549.47 2183.95 L1550.53 2186.76 L1551.58 2189.56 L1552.64 2192.37 L1553.70 2195.17 L1554.76 2197.98 L1555.83 2200.78 L1556.89 2203.58 L1557.96 2206.38 L1559.04 2209.18 L1560.11 2211.98 L1561.19 2214.78 L1562.27 2217.57 L1563.36 2220.37 L1564.45 2223.16 L1565.54 2225.95 L1566.63 2228.74 L1567.73 2231.53 L1568.84 2234.32 L1569.94 2237.10 L1571.05 2239.88 L1572.17 2242.67 L1573.29 2245.45 L1574.41 2248.22 L1575.54 2251.00 L1576.67 2253.78 L1577.81 2256.55 L1578.95 2259.32 L1580.10 2262.09 L1581.25 2264.85 L1582.40 2267.62 L1583.57 2270.38 L1584.73 2273.14 L1585.90 2275.90 L1587.08 2278.65 L1588.26 2281.40 L1589.45 2284.15 L1590.65 2286.90 L1591.85 2289.65 L1593.05 2292.39 L1594.27 2295.13 L1595.48 2297.86 L1596.71 2300.60 L1597.94 2303.33 L1599.18 2306.06 L1600.42 2308.78 L1601.67 2311.50 L1602.93 2314.22 L1604.19 2316.94 L1605.46 2319.65 L1606.74 2322.36 L1608.02 2325.06 L1609.32 2327.77 L1610.62 2330.46 L1611.92 2333.16 L1613.24 2335.85 L1614.56 2338.54 L1615.89 2341.22 L1617.23 2343.90 L1618.57 2346.57 L1619.92 2349.25 L1621.28 2351.91 L1622.65 2354.58 L1624.03 2357.23 L1625.42 2359.89 L1626.81 2362.54 L1628.21 2365.18 L1629.63 2367.82 L1631.05 2370.46 L1632.47 2373.09 L1633.91 2375.72 L1635.36 2378.34 L1636.81 2380.96 L1638.28 2383.57 L1639.75 2386.17 L1641.23 2388.77 L1642.73 2391.37 L1644.23 2393.96 L1645.74 2396.54 L1647.26 2399.12 L1648.79 2401.69 L1650.33 2404.26 L1651.88 2406.82 L1653.44 2409.38 L1655.01 2411.93 L1656.59 2414.47 L1658.18 2417.01 L1659.78 2419.54 L1661.39 2422.06 L1663.01 2424.58 L1664.64 2427.09 L1666.28 2429.59 L1667.93 2432.09 L1669.59 2434.58 L1671.26 2437.06 L1672.94 2439.54 L1674.64 2442.01 L1676.34 2444.47 L1677.40 2445.99 L1677.40 2489.51 L1676.03 2488.03 L1674.01 2485.82 L1671.99 2483.61 L1669.99 2481.38 L1668.00 2479.15 L1666.02 2476.90 L1664.05 2474.65 L1662.10 2472.38 L1660.15 2470.10 L1658.22 2467.82 L1656.30 2465.52 L1654.38 2463.22 L1652.48 2460.91 L1650.59 2458.59 L1648.71 2456.26 L1646.85 2453.92 L1644.99 2451.57 L1643.14 2449.21 L1641.30 2446.85 L1639.48 2444.48 L1637.66 2442.10 L1635.85 2439.71 L1634.06 2437.32 L1632.27 2434.91 L1630.49 2432.50 L1628.73 2430.09 L1626.97 2427.66 L1625.22 2425.23 L1623.49 2422.79 L1621.76 2420.35 L1620.04 2417.89 L1618.33 2415.44 L1616.63 2412.97 L1614.94 2410.50 L1613.26 2408.02 L1611.59 2405.54 L1609.92 2403.05 L1608.27 2400.55 L1606.62 2398.05 L1604.99 2395.54 L1603.36 2393.03 L1601.74 2390.51 L1600.13 2387.98 L1598.53 2385.45 L1596.94 2382.92 L1595.35 2380.38 L1593.78 2377.83 L1592.21 2375.28 L1590.65 2372.72 L1589.10 2370.16 L1587.56 2367.60 L1586.02 2365.02 L1584.49 2362.45 L1582.98 2359.87 L1581.47 2357.28 L1579.96 2354.69 L1578.47 2352.10 L1576.98 2349.50 L1575.50 2346.89 L1574.03 2344.28 L1572.57 2341.67 L1571.11 2339.05 L1569.66 2336.43 L1568.22 2333.81 L1566.79 2331.18 L1565.36 2328.54 L1563.94 2325.91 L1562.52 2323.27 L1561.11 2320.62 L1559.70 2317.98 L1558.30 2315.33 L1556.90 2312.68 L1555.51 2310.02 L1554.12 2307.37 L1552.74 2304.71 L1551.35 2302.05 L1549.98 2299.39 L1548.60 2296.72 L1547.22 2294.06 L1545.85 2291.39 L1544.48 2288.73 L1543.10 2286.06 L1541.73 2283.39 L1540.36 2280.72 L1538.99 2278.05 L1537.62 2275.39 L1536.24 2272.72 L1534.87 2270.05 L1533.49 2267.38 L1532.12 2264.72 L1530.74 2262.05 L1529.35 2259.39 L1527.97 2256.72 L1526.58 2254.06 L1525.18 2251.40 L1523.79 2248.74 L1522.39 2246.09 L1520.98 2243.43 L1519.57 2240.78 L1518.15 2238.13 L1516.72 2235.49 L1515.29 2232.85 L1513.86 2230.21 L1512.41 2227.57 L1510.96 2224.94 L1509.50 2222.32 L1508.03 2219.69 L1506.56 2217.08 L1505.07 2214.46 L1503.58 2211.85 L1502.07 2209.25 L1500.56 2206.65 L1499.03 2204.06 L1497.50 2201.47 L1495.95 2198.90 L1494.40 2196.32 L1492.83 2193.76 L1491.25 2191.20 L1489.65 2188.65 L1488.05 2186.10 L1486.43 2183.57 L1484.80 2181.04 L1483.15 2178.52 L1481.49 2176.01 L1479.81 2173.51 L1478.12 2171.02 L1476.42 2168.54 L1474.69 2166.07 L1472.96 2163.62 L1471.20 2161.17 L1469.43 2158.74 L1467.65 2156.31 L1465.84 2153.90 L1464.02 2151.51 L1462.18 2149.12 L1460.33 2146.75 L1458.45 2144.40 L1456.54 2142.06 L1454.60 2139.75 L1452.63 2137.46 L1450.62 2135.20 L1448.56 2132.98 L1446.47 2130.80 L1444.32 2128.67 L1442.12 2126.59 L1439.86 2124.57 L1437.55 2122.61 L1435.18 2120.73 L1432.74 2118.92 L1430.24 2117.21 L1427.68 2115.59 L1425.06 2114.07 L1422.38 2112.67 L1419.63 2111.39 L1416.84 2110.24 L1414.00 2109.22 L1411.11 2108.34 L1408.19 2107.60 L1405.24 2107.01 L1402.26 2106.57 L1399.26 2106.31 L1396.26 2106.22 L1393.27 2106.32 L1390.30 2106.63 L1387.36 2107.15 L1384.49 2107.90 L1381.70 2108.89 L1379.01 2110.12 L1376.44 2111.56 L1373.98 2113.18 L1371.63 2114.96 L1369.36 2116.85 L1367.17 2118.84 L1365.04 2120.91 L1362.97 2123.04 L1360.95 2125.22 L1358.97 2127.44 L1357.02 2129.70 L1355.11 2131.99 L1353.23 2134.31 L1351.37 2136.64 L1349.52 2139.00 L1347.67 2141.36 L1345.83 2143.73 L1343.98 2146.10 L1342.12 2148.46 L1340.25 2150.81 L1338.37 2153.16 L1336.48 2155.49 L1334.58 2157.82 L1332.67 2160.14 L1330.74 2162.45 L1328.81 2164.75 L1326.87 2167.05 L1324.93 2169.34 L1322.97 2171.62 L1321.01 2173.89 L1319.03 2176.16 L1317.06 2178.42 L1315.07 2180.67 L1313.08 2182.92 L1311.08 2185.17 L1309.08 2187.40 L1307.08 2189.64 L1305.06 2191.87 L1303.05 2194.09 L1301.04 2196.32 L1299.03 2198.54 L1297.03 2200.77 L1295.03 2203.00 L1293.04 2205.24 L1291.06 2207.49 L1289.08 2209.74 L1287.12 2212.00 L1285.16 2214.27 L1283.20 2216.54 L1281.26 2218.82 L1279.32 2221.10 L1277.39 2223.39 L1275.47 2225.69 L1273.55 2227.99 L1271.64 2230.30 L1269.73 2232.61 L1267.84 2234.93 L1265.94 2237.26 L1264.06 2239.58 L1262.17 2241.91 L1260.30 2244.25 L1258.43 2246.59 L1256.56 2248.94 L1254.70 2251.29 L1252.84 2253.64 L1250.99 2256.00 L1249.14 2258.36 L1247.30 2260.72 L1245.46 2263.09 L1243.63 2265.46 L1241.79 2267.83 L1239.96 2270.21 L1238.13 2272.58 L1236.30 2274.96 L1234.47 2277.34 L1232.63 2279.71 L1230.80 2282.09 L1228.96 2284.46 L1227.11 2286.83 L1225.26 2289.19 L1223.40 2291.55 L1221.54 2293.91 L1219.66 2296.26 L1217.78 2298.60 L1215.89 2300.94 L1213.99 2303.27 L1212.07 2305.59 L1210.15 2307.89 L1208.21 2310.19 L1206.25 2312.48 L1204.29 2314.76 L1202.30 2317.02 L1200.30 2319.27 L1198.29 2321.50 L1196.26 2323.72 L1194.20 2325.92 L1192.14 2328.11 L1190.05 2330.28 L1187.94 2332.43 L1185.82 2334.56 L1183.67 2336.67 L1181.51 2338.77 L1179.34 2340.85 L1177.14 2342.90 L1174.93 2344.95 L1172.71 2346.97 L1170.47 2348.98 L1168.22 2350.97 L1165.95 2352.95 L1163.67 2354.91 L1161.38 2356.85 L1159.07 2358.78 L1156.76 2360.70 L1154.43 2362.60 L1152.09 2364.48 L1149.74 2366.35 L1147.37 2368.21 L1145.00 2370.06 L1142.62 2371.89 L1140.23 2373.71 L1137.82 2375.51 L1135.41 2377.30 L1132.99 2379.08 L1130.56 2380.85 L1128.12 2382.60 L1125.67 2384.35 L1123.22 2386.08 L1120.75 2387.79 L1118.28 2389.50 L1115.80 2391.19 L1113.31 2392.88 L1110.81 2394.55 L1108.31 2396.21 L1105.80 2397.86 L1103.29 2399.50 L1100.77 2401.13 L1098.24 2402.75 L1095.70 2404.36 L1093.16 2405.96 L1090.62 2407.56 L1088.07 2409.14 L1085.52 2410.72 L1082.95 2412.29 L1080.36 2413.82 L1077.74 2415.31 L1075.08 2416.75 L1072.38 2418.10 L1069.63 2419.35 L1066.82 2420.47 L1063.96 2421.44 L1061.04 2422.22 L1058.07 2422.78 L1055.08 2423.13 L1052.09 2423.28 L1049.09 2423.25 L1046.10 2423.06 L1043.12 2422.73 L1040.17 2422.26 L1037.23 2421.70 L1034.31 2421.04 L1031.41 2420.31 L1028.52 2419.51 L1025.65 2418.67 L1022.78 2417.80 L1019.93 2416.89 L1017.07 2415.97 L1014.22 2415.05 L1011.36 2414.13 L1008.50 2413.22 L1005.63 2412.33 L1002.75 2411.46 L999.87 2410.64 L996.96 2409.86 L994.05 2409.13 L991.11 2408.47 L988.16 2407.88 L985.20 2407.38 L982.22 2406.97 L979.24 2406.64 L976.25 2406.36 L973.26 2406.13 L970.26 2405.93 L967.27 2405.75 L964.28 2405.55 L961.28 2405.34 L958.30 2405.08 L955.32 2404.75 L952.35 2404.35 L949.40 2403.84 L946.49 2403.20 L943.61 2402.42 L940.78 2401.49 L938.00 2400.42 L935.28 2399.22 L932.62 2397.90 L930.01 2396.46 L927.47 2394.93 L924.98 2393.31 L922.55 2391.60 L920.17 2389.81 L917.84 2387.96 L915.56 2386.05 L913.33 2384.08 L911.15 2382.06 L909.00 2379.99 L906.90 2377.88 L904.83 2375.74 L902.81 2373.55 L900.82 2371.33 L898.87 2369.08 L896.95 2366.80 L895.06 2364.49 L893.20 2362.16 L891.37 2359.81 L889.56 2357.43 L887.79 2355.03 L886.03 2352.62 L884.30 2350.18 L882.59 2347.74 L880.89 2345.27 L879.22 2342.80 L877.56 2340.31 L875.92 2337.81 L874.29 2335.30 L872.69 2332.78 L871.10 2330.25 L869.52 2327.71 L867.96 2325.16 L866.42 2322.60 L864.89 2320.03 L863.38 2317.45 L861.89 2314.86 L860.41 2312.26 L858.94 2309.66 L857.49 2307.04 L856.05 2304.42 L854.62 2301.79 L853.21 2299.15 L851.81 2296.51 L850.42 2293.86 L849.04 2291.21 L847.68 2288.54 L846.32 2285.87 L844.98 2283.20 L843.64 2280.52 L842.32 2277.84 L841.01 2275.15 L839.70 2272.45 L838.41 2269.75 L837.12 2267.05 L835.84 2264.34 L834.56 2261.63 L833.30 2258.92 L832.04 2256.20 L830.78 2253.48 L829.53 2250.76 L828.29 2248.03 L827.05 2245.30 L825.81 2242.57 L824.58 2239.84 L823.35 2237.11 L822.13 2234.37 L820.90 2231.63 L819.68 2228.90 L818.46 2226.16 L817.24 2223.42 L816.02 2220.68 L814.80 2217.93 L813.58 2215.19 L812.36 2212.45 L811.15 2209.71 L809.93 2206.97 L808.71 2204.23 L807.49 2201.49 L806.28 2198.74 L805.06 2196.00 L803.85 2193.26 L802.63 2190.52 L801.42 2187.77 L800.20 2185.03 L798.99 2182.29 L797.78 2179.54 L796.56 2176.80 L795.35 2174.06 L794.14 2171.31 L792.93 2168.57 L791.71 2165.82 L790.50 2163.08 L789.29 2160.34 L788.08 2157.59 L786.87 2154.85 L785.66 2152.10 L784.45 2149.36 L783.24 2146.61 L782.03 2143.87 L780.82 2141.12 L779.61 2138.38 L778.40 2135.63 L777.20 2132.88 L775.99 2130.14 L774.78 2127.39 L773.57 2124.65 L772.36 2121.90 L771.16 2119.15 L769.95 2116.41 L768.74 2113.66 L767.54 2110.92 L766.33 2108.17 L765.13 2105.42 L763.92 2102.68 L762.71 2099.93 L761.51 2097.18 L760.30 2094.43 L759.09 2091.68 L757.87 2088.94 L756.64 2086.19 L755.40 2083.45 L754.15 2080.71 L752.89 2077.98 L751.61 2075.26 L750.31 2072.54 L748.99 2069.83 L747.64 2067.13 L746.28 2064.44 L744.88 2061.76 L743.46 2059.10 L742.01 2056.45 L740.53 2053.81 L739.01 2051.20 L737.47 2048.60 L735.88 2046.03 L734.26 2043.47 L732.60 2040.94 L730.89 2038.44 L729.12 2035.98 L727.30 2033.55 L725.41 2031.17 L723.46 2028.84 L721.44 2026.57 L719.34 2024.37 L717.15 2022.25 L714.89 2020.21 L712.54 2018.28 L710.10 2016.46 L707.57 2014.77 L704.96 2013.21 L702.27 2011.81 L699.50 2010.57 L696.68 2009.48 L693.83 2008.51 L690.95 2007.63 L688.06 2006.80 L685.17 2006.02 L682.26 2005.25 L679.36 2004.50 L676.45 2003.76 L673.54 2003.03 L670.62 2002.32 L667.68 2001.67 L664.73 2001.09 L661.76 2000.61 L658.78 2000.26 L655.78 2000.08 L652.78 2000.10 L649.80 2000.35 L646.86 2000.84 L644.00 2001.60 L641.24 2002.65 L638.62 2003.97 L636.13 2005.52 L633.79 2007.28 L631.58 2009.20 L629.49 2011.26 L627.53 2013.44 L625.66 2015.72 L623.91 2018.07 L622.23 2020.50 L620.65 2022.98 L619.14 2025.52 L617.70 2028.10 L616.32 2030.71 L615.01 2033.36 L613.75 2036.04 L612.55 2038.75 L611.39 2041.49 L610.28 2044.24 L609.20 2047.01 L608.14 2049.80 L607.10 2052.60 L606.07 2055.41 L605.05 2058.23 L604.02 2061.05 L602.99 2063.87 L601.95 2066.69 L600.92 2069.51 L599.89 2072.32 L598.87 2075.13 L597.87 2077.95 L596.88 2080.77 L595.91 2083.59 L594.97 2086.42 L594.06 2089.25 L593.18 2092.09 L592.34 2094.94 L591.54 2097.80 L590.78 2100.68 L590.05 2103.57 L589.36 2106.47 L588.69 2109.38 L588.05 2112.29 L587.44 2115.22 L586.84 2118.15 L586.25 2121.09 L585.68 2124.03 L585.12 2126.98 L584.56 2129.92 L584.00 2132.87 L583.44 2135.82 L582.87 2138.77 L582.29 2141.71 L581.70 2144.66 L581.09 2147.61 L580.45 2150.55 L579.79 2153.49 L579.11 2156.43 L578.40 2159.36 L577.68 2162.28 L576.94 2165.20 L576.18 2168.11 L575.42 2171.02 L574.64 2173.93 L573.85 2176.83 L573.06 2179.72 L572.26 2182.62 L571.46 2185.51 L570.66 2188.40 L569.86 2191.30 L569.06 2194.19 L568.25 2197.08 L567.46 2199.96 L566.66 2202.85 L565.87 2205.74 L565.09 2208.64 L564.32 2211.53 L563.56 2214.42 L562.80 2217.32 L562.06 2220.22 L561.33 2223.12 L560.60 2226.03 L559.89 2228.94 L559.18 2231.85 L558.48 2234.76 L557.79 2237.67 L557.10 2240.59 L556.42 2243.51 L555.75 2246.43 L555.08 2249.35 L554.42 2252.27 L553.76 2255.20 L553.11 2258.12 L552.46 2261.05 L551.81 2263.98 L551.16 2266.90 L550.52 2269.83 L549.88 2272.76 L549.24 2275.69 L548.60 2278.63 L547.96 2281.56 L547.33 2284.49 L546.69 2287.42 L546.05 2290.35 L545.41 2293.28 L544.76 2296.21 L544.11 2299.15 L543.47 2302.08 L542.81 2305.01 L542.15 2307.94 L541.49 2310.86 L540.83 2313.79 L540.15 2316.72 L539.47 2319.64 L538.79 2322.57 L538.10 2325.49 L537.40 2328.41 L536.69 2331.34 L535.97 2334.25 L535.25 2337.17 L534.51 2340.09 L533.77 2343.00 L533.02 2345.91 L532.26 2348.82 L531.48 2351.72 L530.70 2354.63 L529.91 2357.53 L529.11 2360.43 L528.30 2363.32 L527.48 2366.21 L526.65 2369.10 L525.81 2371.99 L524.96 2374.88 L524.10 2377.76 L523.23 2380.64 L522.35 2383.51 L521.46 2386.38 L520.56 2389.25 L519.65 2392.12 L518.73 2394.98 L517.80 2397.84 L516.86 2400.70 L515.91 2403.55 L514.96 2406.40 L514.00 2409.25 L513.04 2412.09 L512.07 2414.93 L511.10 2417.78 L510.14 2420.62 L509.17 2423.45 L508.21 2426.29 L507.25 2429.13 L506.29 2431.97 L505.34 2434.82 L504.39 2437.66 L503.45 2440.51 L502.50 2443.35 L501.56 2446.20 L500.61 2449.05 L499.66 2451.90 L498.70 2454.74 L497.74 2457.59 L496.77 2460.43 L495.79 2463.28 L494.80 2466.12 L493.80 2468.96 L492.79 2471.79 L491.77 2474.62 L490.73 2477.45 L489.68 2480.27 L488.62 2483.09 L487.53 2485.90 L486.43 2488.70 L485.29 2491.51 L484.13 2494.30 L482.92 2497.08 L481.65 2499.85 L480.33 2502.59 L478.93 2505.31 L477.46 2507.98 L475.89 2510.61 L474.23 2513.19 L472.45 2515.69 L470.57 2518.11 L468.56 2520.43 L466.42 2522.64 L464.16 2524.70 L461.77 2526.62 L459.28 2528.38 L456.71 2529.99 L454.06 2531.48 L451.37 2532.85 L448.63 2534.12 L445.86 2535.30 L443.05 2536.40 L440.22 2537.42 L437.37 2538.38 L434.49 2539.27 L431.60 2540.09 L428.69 2540.85 L425.77 2541.55 L422.83 2542.20 L419.89 2542.80 L416.94 2543.36 L413.98 2543.87 L411.02 2544.34 L408.05 2544.79 L405.07 2545.20 L402.10 2545.58 L399.12 2545.94 L396.14 2546.29 L393.15 2546.61 L390.17 2546.93 L387.19 2547.24 L384.20 2547.53 L381.21 2547.82 L378.23 2548.10 L375.24 2548.37 L372.25 2548.63 L369.26 2548.88 L366.27 2549.12 L363.28 2549.35 L360.28 2549.56 L357.29 2549.77 L354.30 2549.96 L351.30 2550.14 L348.31 2550.31 L345.31 2550.47 L342.31 2550.61 L339.32 2550.74 L336.32 2550.86 L333.32 2550.96 L330.32 2551.05 L327.32 2551.12 L324.32 2551.18 L321.32 2551.23 L318.32 2551.26 L315.32 2551.27 L312.32 2551.27 L309.32 2551.25 L306.32 2551.22 L303.32 2551.17 L300.32 2551.11 L297.32 2551.02 L294.33 2550.92 L291.33 2550.81 L288.33 2550.67 L285.34 2550.52 L282.34 2550.35 L279.35 2550.17 L276.36 2549.96 L273.36 2549.74 L270.38 2549.50 L267.39 2549.24 L264.40 2548.96 L261.42 2548.66 L258.43 2548.34 L255.45 2548.01 L252.48 2547.65 L249.50 2547.28Z" fill="#1f77b4" fill-opacity="0.1" stroke="none"/>
<path d="M249.50 2539.66 L252.41 2540.36 L255.33 2541.03 L258.26 2541.67 L261.20 2542.27 L264.14 2542.84 L267.09 2543.38 L270.05 2543.88 L273.01 2544.36 L275.97 2544.80 L278.94 2545.22 L281.91 2545.61 L284.89 2545.97 L287.87 2546.30 L290.85 2546.60 L293.84 2546.88 L296.83 2547.13 L299.82 2547.35 L302.81 2547.55 L305.81 2547.73 L308.80 2547.88 L311.80 2548.01 L314.80 2548.12 L317.79 2548.20 L320.79 2548.26 L323.79 2548.31 L326.79 2548.33 L329.79 2548.33 L332.79 2548.32 L335.79 2548.28 L338.79 2548.23 L341.79 2548.16 L344.79 2548.07 L347.79 2547.97 L350.79 2547.85 L353.78 2547.71 L356.78 2547.56 L359.78 2547.40 L362.77 2547.22 L365.77 2547.03 L368.76 2546.82 L371.75 2546.60 L374.74 2546.37 L377.73 2546.12 L380.72 2545.86 L383.71 2545.58 L386.70 2545.28 L389.68 2544.96 L392.66 2544.61 L395.64 2544.24 L398.61 2543.84 L401.59 2543.42 L404.55 2542.96 L407.52 2542.48 L410.47 2541.96 L413.43 2541.42 L416.37 2540.84 L419.31 2540.22 L422.24 2539.57 L425.17 2538.88 L428.08 2538.15 L430.99 2537.38 L433.88 2536.56 L436.76 2535.69 L439.62 2534.77 L442.47 2533.80 L445.29 2532.77 L448.09 2531.65 L450.86 2530.44 L453.58 2529.10 L456.22 2527.60 L458.78 2525.92 L461.20 2524.03 L463.47 2521.91 L465.54 2519.56 L467.38 2517.04 L469.03 2514.41 L470.52 2511.71 L471.91 2508.98 L473.21 2506.24 L474.48 2503.51 L475.73 2500.77 L476.97 2498.03 L478.20 2495.29 L479.41 2492.53 L480.62 2489.78 L481.81 2487.01 L482.99 2484.24 L484.16 2481.47 L485.31 2478.69 L486.45 2475.90 L487.57 2473.11 L488.68 2470.31 L489.78 2467.51 L490.86 2464.70 L491.92 2461.88 L492.97 2459.06 L494.01 2456.23 L495.02 2453.39 L496.02 2450.55 L497.00 2447.70 L497.96 2444.84 L498.90 2441.98 L499.82 2439.11 L500.73 2436.24 L501.63 2433.36 L502.51 2430.49 L503.38 2427.61 L504.24 2424.73 L505.10 2421.86 L505.95 2418.98 L506.81 2416.10 L507.66 2413.23 L508.52 2410.36 L509.39 2407.49 L510.26 2404.63 L511.14 2401.77 L512.03 2398.91 L512.92 2396.03 L513.79 2393.15 L514.66 2390.27 L515.51 2387.38 L516.35 2384.49 L517.17 2381.60 L517.98 2378.70 L518.78 2375.80 L519.57 2372.89 L520.34 2369.98 L521.09 2367.07 L521.84 2364.16 L522.57 2361.24 L523.29 2358.32 L523.99 2355.39 L524.69 2352.47 L525.37 2349.54 L526.04 2346.61 L526.71 2343.68 L527.36 2340.75 L528.00 2337.81 L528.64 2334.87 L529.26 2331.94 L529.88 2329.00 L530.49 2326.06 L531.10 2323.12 L531.69 2320.17 L532.28 2317.23 L532.87 2314.28 L533.45 2311.34 L534.02 2308.39 L534.59 2305.45 L535.16 2302.50 L535.72 2299.55 L536.28 2296.60 L536.84 2293.66 L537.39 2290.71 L537.95 2287.76 L538.50 2284.81 L539.05 2281.86 L539.60 2278.91 L540.15 2275.96 L540.71 2273.01 L541.26 2270.07 L541.81 2267.12 L542.37 2264.17 L542.93 2261.22 L543.49 2258.28 L544.05 2255.33 L544.62 2252.38 L545.18 2249.44 L545.75 2246.50 L546.33 2243.55 L546.90 2240.61 L547.48 2237.67 L548.07 2234.72 L548.65 2231.78 L549.24 2228.84 L549.84 2225.90 L550.43 2222.97 L551.04 2220.03 L551.64 2217.09 L552.25 2214.16 L552.87 2211.22 L553.49 2208.29 L554.12 2205.36 L554.75 2202.43 L555.38 2199.50 L556.03 2196.57 L556.67 2193.65 L557.33 2190.72 L557.99 2187.80 L558.65 2184.88 L559.32 2181.96 L560.00 2179.04 L560.68 2176.12 L561.37 2173.20 L562.07 2170.29 L562.76 2167.37 L563.47 2164.46 L564.17 2161.55 L564.88 2158.63 L565.59 2155.72 L566.31 2152.81 L567.03 2149.90 L567.75 2146.99 L568.48 2144.08 L569.21 2141.17 L569.94 2138.26 L570.67 2135.35 L571.40 2132.45 L572.13 2129.54 L572.87 2126.63 L573.60 2123.72 L574.34 2120.81 L575.08 2117.90 L575.81 2115.00 L576.55 2112.09 L577.28 2109.18 L578.02 2106.27 L578.75 2103.36 L579.48 2100.45 L580.21 2097.54 L580.94 2094.63 L581.66 2091.71 L582.39 2088.80 L583.12 2085.89 L583.84 2082.98 L584.57 2080.07 L585.30 2077.16 L586.03 2074.25 L586.76 2071.35 L587.49 2068.44 L588.23 2065.53 L588.97 2062.63 L589.71 2059.72 L590.45 2056.81 L591.19 2053.91 L591.94 2051.01 L592.69 2048.10 L593.44 2045.20 L594.20 2042.30 L594.96 2039.40 L595.72 2036.50 L596.49 2033.61 L597.26 2030.71 L598.03 2027.81 L598.81 2024.92 L599.60 2022.03 L600.38 2019.13 L601.18 2016.24 L601.97 2013.36 L602.77 2010.47 L603.58 2007.58 L604.39 2004.70 L605.21 2001.82 L606.03 1998.94 L606.86 1996.06 L607.69 1993.18 L608.53 1990.30 L609.38 1987.43 L610.23 1984.56 L611.09 1981.69 L611.95 1978.82 L612.82 1975.95 L613.70 1973.09 L614.59 1970.23 L615.48 1967.38 L616.39 1964.54 L617.33 1961.71 L618.29 1958.89 L619.29 1956.09 L620.32 1953.31 L621.40 1950.55 L622.53 1947.81 L623.71 1945.10 L624.95 1942.42 L626.26 1939.77 L627.64 1937.16 L629.09 1934.60 L630.62 1932.08 L632.23 1929.61 L633.92 1927.20 L635.70 1924.85 L637.57 1922.56 L639.52 1920.35 L641.57 1918.22 L643.70 1916.18 L645.91 1914.23 L648.22 1912.39 L650.63 1910.68 L653.14 1909.12 L655.74 1907.73 L658.45 1906.55 L661.26 1905.61 L664.15 1904.96 L667.11 1904.63 L670.11 1904.60 L673.11 1904.83 L676.09 1905.26 L679.04 1905.85 L681.97 1906.56 L684.87 1907.36 L687.75 1908.24 L690.60 1909.20 L693.43 1910.25 L696.22 1911.40 L698.97 1912.64 L701.68 1913.98 L704.34 1915.41 L706.95 1916.94 L709.50 1918.56 L712.00 1920.28 L714.44 1922.08 L716.82 1923.94 L719.15 1925.87 L721.43 1927.86 L723.67 1929.89 L725.86 1931.96 L728.02 1934.08 L730.13 1936.24 L732.21 1938.44 L734.25 1940.67 L736.24 1942.94 L738.19 1945.25 L740.11 1947.59 L741.98 1949.97 L743.81 1952.37 L745.61 1954.81 L747.36 1957.27 L749.08 1959.76 L750.76 1962.27 L752.40 1964.81 L754.01 1967.37 L755.58 1969.95 L757.12 1972.55 L758.63 1975.17 L760.10 1977.80 L761.55 1980.45 L762.97 1983.12 L764.36 1985.80 L765.72 1988.49 L767.05 1991.20 L768.37 1993.91 L769.66 1996.64 L770.93 1999.37 L772.18 2002.11 L773.41 2004.86 L774.62 2007.62 L775.82 2010.38 L777.00 2013.15 L778.17 2015.93 L779.32 2018.70 L780.47 2021.48 L781.61 2024.27 L782.73 2027.05 L783.85 2029.84 L784.97 2032.63 L786.08 2035.42 L787.18 2038.21 L788.29 2041.00 L789.39 2043.79 L790.50 2046.58 L791.61 2049.36 L792.72 2052.15 L793.83 2054.93 L794.95 2057.71 L796.08 2060.48 L797.21 2063.25 L798.36 2066.01 L799.51 2068.77 L800.68 2071.53 L801.86 2074.28 L803.05 2077.03 L804.25 2079.77 L805.45 2082.50 L806.67 2085.24 L807.90 2087.97 L809.14 2090.69 L810.39 2093.41 L811.65 2096.12 L812.92 2098.84 L814.20 2101.54 L815.49 2104.24 L816.78 2106.94 L818.09 2109.64 L819.41 2112.33 L820.73 2115.01 L822.06 2117.69 L823.40 2120.37 L824.75 2123.04 L826.11 2125.71 L827.48 2128.38 L828.85 2131.04 L830.23 2133.69 L831.62 2136.35 L833.02 2139.00 L834.42 2141.64 L835.83 2144.28 L837.25 2146.92 L838.67 2149.56 L840.11 2152.19 L841.54 2154.82 L842.99 2157.44 L844.44 2160.06 L845.90 2162.68 L847.36 2165.29 L848.83 2167.91 L850.30 2170.51 L851.78 2173.12 L853.27 2175.72 L854.76 2178.32 L856.26 2180.92 L857.76 2183.51 L859.26 2186.10 L860.77 2188.69 L862.29 2191.27 L863.81 2193.86 L865.33 2196.44 L866.86 2199.02 L868.39 2201.59 L869.93 2204.17 L871.47 2206.74 L873.01 2209.31 L874.56 2211.88 L876.11 2214.44 L877.67 2217.01 L879.22 2219.57 L880.78 2222.13 L882.34 2224.69 L883.91 2227.25 L885.48 2229.80 L887.05 2232.36 L888.62 2234.91 L890.19 2237.46 L891.77 2240.01 L893.35 2242.56 L894.93 2245.11 L896.51 2247.66 L898.10 2250.20 L899.69 2252.73 L901.30 2255.26 L902.91 2257.78 L904.53 2260.30 L906.16 2262.81 L907.81 2265.30 L909.47 2267.79 L911.14 2270.27 L912.83 2272.73 L914.54 2275.19 L916.27 2277.62 L918.02 2280.04 L919.79 2282.45 L921.58 2284.84 L923.40 2287.20 L925.25 2289.55 L927.12 2291.87 L929.02 2294.17 L930.96 2296.44 L932.92 2298.68 L934.92 2300.89 L936.96 2303.07 L939.03 2305.22 L941.13 2307.32 L943.28 2309.39 L945.47 2311.40 L947.70 2313.37 L949.99 2315.28 L952.32 2317.13 L954.70 2318.92 L957.13 2320.63 L959.61 2322.27 L962.15 2323.82 L964.74 2325.29 L967.38 2326.66 L970.07 2327.93 L972.81 2329.11 L975.59 2330.19 L978.41 2331.15 L981.27 2332.01 L984.16 2332.75 L987.09 2333.37 L990.03 2333.89 L993.00 2334.31 L995.98 2334.65 L998.96 2334.91 L1001.95 2335.12 L1004.95 2335.28 L1007.94 2335.41 L1010.94 2335.51 L1013.94 2335.60 L1016.94 2335.68 L1019.94 2335.74 L1022.94 2335.76 L1025.94 2335.73 L1028.94 2335.63 L1031.93 2335.46 L1034.92 2335.18 L1037.91 2334.81 L1040.87 2334.33 L1043.83 2333.75 L1046.76 2333.08 L1049.67 2332.32 L1052.56 2331.47 L1055.42 2330.54 L1058.26 2329.53 L1061.07 2328.44 L1063.85 2327.28 L1066.60 2326.04 L1069.32 2324.74 L1072.01 2323.37 L1074.66 2321.94 L1077.28 2320.45 L1079.87 2318.90 L1082.42 2317.30 L1084.94 2315.64 L1087.42 2313.93 L1089.87 2312.16 L1092.28 2310.35 L1094.66 2308.49 L1097.00 2306.58 L1099.30 2304.63 L1101.57 2302.64 L1103.81 2300.61 L1106.01 2298.54 L1108.17 2296.44 L1110.30 2294.30 L1112.40 2292.13 L1114.46 2289.93 L1116.50 2287.70 L1118.50 2285.45 L1120.47 2283.17 L1122.42 2280.86 L1124.34 2278.54 L1126.23 2276.19 L1128.10 2273.82 L1129.94 2271.44 L1131.76 2269.04 L1133.56 2266.62 L1135.34 2264.19 L1137.10 2261.74 L1138.84 2259.28 L1140.56 2256.82 L1142.26 2254.34 L1143.96 2251.85 L1145.63 2249.35 L1147.30 2246.85 L1148.95 2244.33 L1150.59 2241.82 L1152.23 2239.29 L1153.85 2236.77 L1155.47 2234.24 L1157.08 2231.70 L1158.69 2229.17 L1160.30 2226.63 L1161.90 2224.09 L1163.50 2221.56 L1165.10 2219.02 L1166.71 2216.49 L1168.31 2213.96 L1169.92 2211.43 L1171.54 2208.90 L1173.15 2206.38 L1174.77 2203.85 L1176.39 2201.32 L1178.01 2198.80 L1179.63 2196.27 L1181.25 2193.75 L1182.87 2191.22 L1184.49 2188.70 L1186.10 2186.17 L1187.72 2183.64 L1189.33 2181.11 L1190.95 2178.58 L1192.55 2176.04 L1194.16 2173.51 L1195.76 2170.97 L1197.36 2168.42 L1198.95 2165.88 L1200.54 2163.33 L1202.12 2160.77 L1203.69 2158.21 L1205.26 2155.65 L1206.82 2153.08 L1208.38 2150.51 L1209.92 2147.94 L1211.46 2145.35 L1212.99 2142.77 L1214.51 2140.17 L1216.02 2137.57 L1217.52 2134.97 L1219.02 2132.36 L1220.50 2129.74 L1221.97 2127.12 L1223.44 2124.50 L1224.90 2121.88 L1226.35 2119.25 L1227.81 2116.62 L1229.25 2113.99 L1230.70 2111.36 L1232.15 2108.74 L1233.59 2106.11 L1235.04 2103.48 L1236.49 2100.86 L1237.94 2098.24 L1239.40 2095.62 L1240.86 2093.00 L1242.33 2090.39 L1243.80 2087.78 L1245.28 2085.18 L1246.78 2082.59 L1248.28 2080.00 L1249.79 2077.42 L1251.32 2074.84 L1252.85 2072.28 L1254.41 2069.72 L1255.97 2067.18 L1257.56 2064.64 L1259.16 2062.12 L1260.77 2059.61 L1262.41 2057.11 L1264.07 2054.62 L1265.75 2052.15 L1267.45 2049.70 L1269.18 2047.26 L1270.93 2044.85 L1272.70 2042.45 L1274.51 2040.07 L1276.34 2037.71 L1278.19 2035.38 L1280.08 2033.07 L1282.00 2030.79 L1283.95 2028.53 L1285.93 2026.30 L1287.94 2024.09 L1289.98 2021.92 L1292.05 2019.76 L1294.14 2017.64 L1296.26 2015.54 L1298.41 2013.46 L1300.59 2011.41 L1302.78 2009.39 L1305.01 2007.39 L1307.25 2005.42 L1309.52 2003.47 L1311.80 2001.54 L1314.11 1999.64 L1316.44 1997.76 L1318.78 1995.90 L1321.14 1994.07 L1323.52 1992.25 L1325.91 1990.45 L1328.32 1988.67 L1330.74 1986.91 L1333.18 1985.17 L1335.62 1983.45 L1338.08 1981.74 L1340.56 1980.06 L1343.05 1978.42 L1345.58 1976.85 L1348.16 1975.35 L1350.78 1973.95 L1353.46 1972.67 L1356.21 1971.54 L1359.02 1970.60 L1361.91 1969.89 L1364.86 1969.46 L1367.85 1969.34 L1370.84 1969.55 L1373.82 1970.02 L1376.76 1970.70 L1379.66 1971.54 L1382.52 1972.47 L1385.36 1973.49 L1388.17 1974.58 L1390.95 1975.74 L1393.69 1976.98 L1396.41 1978.29 L1399.09 1979.68 L1401.73 1981.14 L1404.33 1982.67 L1406.89 1984.29 L1409.40 1985.98 L1411.85 1987.75 L1414.25 1989.59 L1416.60 1991.51 L1418.89 1993.49 L1421.12 1995.53 L1423.31 1997.62 L1425.45 1999.76 L1427.54 2001.95 L1429.59 2004.17 L1431.59 2006.44 L1433.55 2008.74 L1435.47 2011.07 L1437.36 2013.43 L1439.21 2015.82 L1441.02 2018.24 L1442.80 2020.68 L1444.54 2023.14 L1446.26 2025.62 L1447.95 2028.12 L1449.61 2030.64 L1451.25 2033.17 L1452.86 2035.72 L1454.45 2038.28 L1456.02 2040.85 L1457.57 2043.43 L1459.11 2046.02 L1460.63 2048.62 L1462.13 2051.22 L1463.62 2053.84 L1465.11 2056.45 L1466.58 2059.08 L1468.03 2061.71 L1469.48 2064.34 L1470.92 2066.99 L1472.34 2069.63 L1473.76 2072.29 L1475.17 2074.95 L1476.56 2077.61 L1477.95 2080.28 L1479.32 2082.95 L1480.69 2085.63 L1482.04 2088.31 L1483.39 2091.00 L1484.73 2093.69 L1486.06 2096.39 L1487.38 2099.09 L1488.69 2101.79 L1490.00 2104.50 L1491.30 2107.21 L1492.59 2109.92 L1493.87 2112.64 L1495.14 2115.36 L1496.41 2118.09 L1497.68 2120.81 L1498.93 2123.54 L1500.18 2126.27 L1501.43 2129.01 L1502.67 2131.74 L1503.90 2134.48 L1505.13 2137.22 L1506.36 2139.96 L1507.58 2142.71 L1508.79 2145.45 L1510.00 2148.20 L1511.21 2150.95 L1512.42 2153.70 L1513.62 2156.45 L1514.82 2159.20 L1516.01 2161.96 L1517.21 2164.71 L1518.40 2167.46 L1519.59 2170.22 L1520.78 2172.97 L1521.97 2175.73 L1523.16 2178.48 L1524.34 2181.24 L1525.53 2184.00 L1526.71 2186.75 L1527.90 2189.51 L1529.09 2192.26 L1530.27 2195.02 L1531.46 2197.77 L1532.65 2200.52 L1533.84 2203.28 L1535.03 2206.03 L1536.23 2208.78 L1537.42 2211.53 L1538.62 2214.27 L1539.83 2217.02 L1541.03 2219.76 L1542.24 2222.51 L1543.45 2225.25 L1544.67 2227.99 L1545.89 2230.73 L1547.11 2233.46 L1548.34 2236.19 L1549.57 2238.93 L1550.81 2241.65 L1552.06 2244.38 L1553.30 2247.10 L1554.56 2249.83 L1555.81 2252.55 L1557.08 2255.26 L1558.34 2257.98 L1559.61 2260.69 L1560.89 2263.40 L1562.17 2266.11 L1563.46 2268.82 L1564.75 2271.52 L1566.05 2274.22 L1567.35 2276.92 L1568.66 2279.62 L1569.97 2282.31 L1571.29 2285.00 L1572.61 2287.69 L1573.94 2290.38 L1575.27 2293.06 L1576.61 2295.74 L1577.95 2298.42 L1579.30 2301.09 L1580.66 2303.77 L1582.02 2306.44 L1583.39 2309.10 L1584.76 2311.77 L1586.13 2314.43 L1587.52 2317.08 L1588.91 2319.74 L1590.30 2322.39 L1591.70 2325.04 L1593.11 2327.69 L1594.52 2330.33 L1595.93 2332.97 L1597.36 2335.60 L1598.79 2338.24 L1600.22 2340.87 L1601.66 2343.49 L1603.11 2346.12 L1604.56 2348.74 L1606.02 2351.35 L1607.49 2353.97 L1608.96 2356.58 L1610.44 2359.18 L1611.92 2361.78 L1613.41 2364.38 L1614.91 2366.98 L1616.41 2369.57 L1617.92 2372.16 L1619.44 2374.74 L1620.96 2377.32 L1622.49 2379.90 L1624.02 2382.47 L1625.57 2385.04 L1627.12 2387.60 L1628.67 2390.16 L1630.23 2392.72 L1631.80 2395.27 L1633.38 2397.82 L1634.96 2400.36 L1636.55 2402.90 L1638.15 2405.43 L1639.75 2407.96 L1641.36 2410.49 L1642.98 2413.01 L1644.60 2415.53 L1646.24 2418.04 L1647.87 2420.55 L1649.52 2423.05 L1651.17 2425.55 L1652.83 2428.04 L1654.50 2430.53 L1656.18 2433.01 L1657.86 2435.49 L1659.55 2437.96 L1661.25 2440.43 L1662.95 2442.89 L1664.67 2445.35 L1666.39 2447.80 L1668.11 2450.25 L1669.85 2452.69 L1671.59 2455.12 L1673.35 2457.55 L1675.10 2459.98 L1676.87 2462.41 L1677.40 2463.14" stroke="#1f77b4" stroke-width="8" stroke-linecap="square"/>
<path d="M249.50 2531.14 L252.39 2531.92 L255.29 2532.68 L258.20 2533.42 L261.11 2534.13 L264.03 2534.83 L266.95 2535.50 L269.62 2536.09 M278.90 2538.02 L281.62 2538.55 L284.57 2539.10 L287.52 2539.63 L290.48 2540.14 L293.44 2540.63 L296.40 2541.11 L300.09 2541.67 M309.30 2542.96 L311.24 2543.22 L314.22 2543.59 L317.20 2543.94 L320.18 2544.28 L323.16 2544.60 L326.14 2544.89 L329.13 2545.17 L331.06 2545.33 M340.50 2545.96 L344.09 2546.12 L347.09 2546.22 L350.09 2546.28 L353.09 2546.30 L356.09 2546.27 L359.09 2546.21 L361.73 2546.12 M370.90 2545.51 L374.06 2545.19 L377.04 2544.83 L380.02 2544.44 L382.99 2544.00 L385.95 2543.53 L388.91 2543.03 L391.87 2542.50 L393.15 2542.26 M402.70 2540.37 L403.64 2540.18 L406.58 2539.57 L409.52 2538.96 L412.46 2538.34 L415.39 2537.72 L418.33 2537.12 L421.27 2536.52 L424.39 2535.90 M433.80 2534.11 L436.00 2533.67 L438.93 2533.01 L441.84 2532.23 L444.72 2531.30 L447.53 2530.17 L450.26 2528.78 L452.55 2527.30 M458.86 2521.37 L459.49 2520.64 L461.37 2518.20 L463.11 2515.68 L464.76 2513.10 L466.32 2510.49 L467.82 2507.86 L469.28 2505.21 L470.66 2502.64 M474.98 2494.07 L476.09 2491.72 L477.35 2488.97 L478.58 2486.20 L479.77 2483.43 L480.93 2480.63 L482.05 2477.82 L483.14 2475.01 L483.66 2473.64 M486.90 2464.61 L487.23 2463.64 L488.19 2460.77 L489.12 2457.90 L490.03 2455.03 L490.92 2452.15 L491.79 2449.26 L492.64 2446.38 L493.50 2443.42 M496.07 2434.17 L496.69 2431.89 L497.47 2428.98 L498.24 2426.08 L499.00 2423.17 L499.76 2420.27 L500.51 2417.36 L501.27 2414.46 L501.72 2412.70 M504.11 2403.40 L505.00 2399.92 L505.74 2397.01 L506.47 2394.10 L507.21 2391.19 L507.94 2388.28 L508.67 2385.37 L509.54 2381.87 M511.85 2372.56 L512.28 2370.80 L513.00 2367.89 L513.71 2364.97 L514.42 2362.06 L515.12 2359.14 L515.82 2356.22 L516.52 2353.30 L517.05 2351.11 M519.25 2341.82 L519.98 2338.69 L520.66 2335.77 L521.34 2332.85 L522.01 2329.92 L522.68 2326.99 L523.35 2324.07 L524.01 2321.14 L524.23 2320.19 M526.32 2310.82 L526.63 2309.42 L527.28 2306.49 L527.92 2303.56 L528.55 2300.62 L529.19 2297.69 L529.82 2294.75 L530.44 2291.82 L531.01 2289.12 M532.97 2279.72 L533.51 2277.12 L534.11 2274.18 L534.70 2271.24 L535.29 2268.30 L535.88 2265.35 L536.46 2262.41 L537.04 2259.47 L537.34 2257.96 M539.16 2248.53 L539.32 2247.68 L539.88 2244.73 L540.44 2241.78 L541.00 2238.83 L541.55 2235.89 L542.10 2232.94 L542.65 2229.99 L543.26 2226.71 M545.00 2217.27 L545.38 2215.23 L545.92 2212.28 L546.46 2209.33 L547.00 2206.38 L547.54 2203.43 L548.08 2200.48 L548.63 2197.53 L549.00 2195.50 M550.74 2186.08 L551.35 2182.78 L551.89 2179.83 L552.44 2176.88 L553.00 2173.93 L553.55 2170.99 L554.11 2168.04 L554.81 2164.32 M556.60 2154.91 L556.91 2153.31 L557.48 2150.36 L558.05 2147.42 L558.62 2144.47 L559.19 2141.53 L559.77 2138.58 L560.35 2135.64 L560.83 2133.17 M562.70 2123.78 L563.27 2120.93 L563.86 2117.99 L564.45 2115.05 L565.05 2112.11 L565.65 2109.18 L566.25 2106.24 L566.85 2103.30 L567.10 2102.08 M569.05 2092.71 L569.29 2091.56 L569.91 2088.62 L570.53 2085.69 L571.15 2082.75 L571.77 2079.82 L572.40 2076.89 L573.03 2073.96 L573.66 2071.05 M575.70 2061.69 L576.22 2059.31 L576.87 2056.38 L577.52 2053.45 L578.17 2050.53 L578.83 2047.60 L579.49 2044.67 L580.15 2041.75 L580.53 2040.09 M582.67 2030.75 L583.50 2027.14 L584.18 2024.22 L584.86 2021.30 L585.55 2018.38 L586.24 2015.46 L586.93 2012.54 L587.72 2009.19 M589.95 1999.88 L590.41 1997.96 L591.11 1995.04 L591.82 1992.13 L592.53 1989.22 L593.24 1986.30 L593.95 1983.39 L594.66 1980.48 L595.18 1978.37 M597.47 1969.07 L598.25 1965.92 L598.97 1963.01 L599.70 1960.10 L600.42 1957.19 L601.15 1954.28 L601.88 1951.37 L602.61 1948.46 L602.84 1947.53 M605.19 1938.22 L605.54 1936.83 L606.28 1933.92 L607.02 1931.02 L607.77 1928.12 L608.52 1925.22 L609.28 1922.32 L610.05 1919.43 L610.78 1916.73 M613.34 1907.48 L614.05 1905.01 L614.88 1902.14 L615.73 1899.27 L616.60 1896.41 L617.48 1893.56 L618.38 1890.71 L619.30 1887.87 L619.84 1886.26 M622.96 1877.18 L624.20 1873.78 L625.25 1870.98 L626.31 1868.20 L627.41 1865.43 L628.52 1862.66 L629.66 1859.90 L631.10 1856.53 M635.03 1847.77 L635.72 1846.28 L637.01 1843.59 L638.32 1840.91 L639.65 1838.24 L641.01 1835.58 L642.39 1832.94 L643.80 1830.32 L645.11 1828.00 M650.35 1819.95 L651.84 1818.01 L653.76 1815.81 L655.82 1813.74 L658.04 1811.85 L660.43 1810.18 L662.99 1808.76 L665.71 1807.65 L668.08 1806.99 M677.72 1806.28 L680.47 1806.60 L683.43 1807.19 L686.34 1808.00 L689.20 1808.98 L692.00 1810.09 L694.77 1811.30 L697.50 1812.58 L698.70 1813.17 M707.32 1817.40 L708.27 1817.85 L710.99 1819.07 L713.75 1820.23 L716.53 1821.37 L719.30 1822.55 L722.04 1823.82 L724.72 1825.24 L727.35 1826.88 M734.86 1832.85 L736.71 1834.55 L738.88 1836.68 L740.99 1838.86 L743.03 1841.11 L745.01 1843.40 L746.93 1845.75 L748.80 1848.15 L749.68 1849.34 M755.14 1857.23 L755.71 1858.11 L757.31 1860.67 L758.88 1863.26 L760.40 1865.88 L761.89 1868.51 L763.34 1871.16 L764.77 1873.82 L766.16 1876.49 M770.46 1885.07 L771.54 1887.27 L772.85 1889.98 L774.14 1892.69 L775.43 1895.41 L776.72 1898.12 L778.00 1900.84 L779.27 1903.56 L779.99 1905.12 M784.01 1913.84 L785.54 1917.21 L786.79 1919.94 L788.03 1922.67 L789.26 1925.41 L790.50 1928.14 L791.73 1930.88 L793.15 1934.03 M797.08 1942.77 L797.88 1944.56 L799.11 1947.30 L800.35 1950.03 L801.58 1952.76 L802.82 1955.49 L804.05 1958.22 L805.30 1960.95 L806.22 1962.97 M810.22 1971.67 L811.57 1974.56 L812.84 1977.27 L814.11 1979.98 L815.40 1982.69 L816.69 1985.39 L817.98 1988.09 L819.29 1990.79 L819.73 1991.69 M823.97 2000.29 L824.59 2001.52 L825.94 2004.20 L827.29 2006.87 L828.65 2009.54 L830.02 2012.21 L831.39 2014.87 L832.77 2017.53 L834.06 2020.02 M838.52 2028.51 L839.73 2030.80 L841.13 2033.45 L842.54 2036.10 L843.95 2038.74 L845.36 2041.39 L846.77 2044.03 L848.19 2046.68 L848.94 2048.07 M853.46 2056.52 L853.86 2057.26 L855.27 2059.90 L856.69 2062.55 L858.11 2065.19 L859.52 2067.84 L860.93 2070.49 L862.34 2073.14 L863.90 2076.07 M868.37 2084.55 L869.35 2086.41 L870.74 2089.07 L872.13 2091.73 L873.53 2094.39 L874.91 2097.05 L876.30 2099.71 L877.69 2102.37 L878.64 2104.19 M883.08 2112.69 L884.63 2115.66 L886.03 2118.32 L887.42 2120.97 L888.82 2123.62 L890.22 2126.27 L891.62 2128.92 L893.03 2131.57 L893.41 2132.30 M897.95 2140.74 L898.70 2142.13 L900.13 2144.76 L901.56 2147.39 L903.00 2150.02 L904.45 2152.64 L905.91 2155.26 L907.37 2157.87 L908.66 2160.15 M913.42 2168.46 L914.82 2170.86 L916.33 2173.44 L917.85 2176.02 L919.38 2178.60 L920.92 2181.17 L922.46 2183.73 L924.02 2186.29 L924.76 2187.51 M929.79 2195.67 L930.31 2196.49 L931.90 2199.03 L933.49 2201.56 L935.10 2204.09 L936.71 2206.62 L938.32 2209.14 L939.95 2211.66 L941.70 2214.36 M946.95 2222.38 L948.15 2224.19 L949.81 2226.67 L951.50 2229.13 L953.22 2231.57 L954.97 2233.97 L956.78 2236.32 L958.63 2238.63 L960.02 2240.26 M966.73 2247.09 L969.07 2249.04 L971.43 2250.80 L973.90 2252.41 L976.47 2253.87 L979.14 2255.17 L981.89 2256.28 L984.71 2257.21 L986.04 2257.54 M995.51 2258.81 L996.50 2258.84 L999.50 2258.73 L1002.49 2258.45 L1005.47 2258.01 L1008.43 2257.44 L1011.35 2256.74 L1014.26 2255.94 L1017.24 2255.01 M1026.22 2251.67 L1028.39 2250.79 L1031.16 2249.63 L1033.92 2248.45 L1036.68 2247.28 L1039.45 2246.13 L1042.22 2244.98 L1044.99 2243.83 L1046.68 2243.13 M1055.52 2239.43 L1058.82 2238.00 L1061.56 2236.78 L1064.30 2235.52 L1067.01 2234.23 L1069.71 2232.90 L1072.39 2231.52 L1075.49 2229.84 M1083.67 2224.85 L1085.31 2223.75 L1087.77 2221.99 L1090.18 2220.15 L1092.53 2218.23 L1094.81 2216.24 L1097.03 2214.17 L1099.20 2212.05 L1100.59 2210.61 M1106.93 2203.43 L1109.16 2200.64 L1110.99 2198.23 L1112.78 2195.79 L1114.53 2193.32 L1116.23 2190.82 L1117.89 2188.29 L1119.75 2185.36 M1124.65 2177.12 L1125.66 2175.33 L1127.12 2172.69 L1128.54 2170.02 L1129.94 2167.34 L1131.30 2164.65 L1132.64 2161.95 L1133.96 2159.23 L1134.81 2157.43 M1138.78 2148.71 L1140.18 2145.50 L1141.36 2142.73 L1142.53 2139.95 L1143.68 2137.16 L1144.81 2134.38 L1145.93 2131.58 L1147.26 2128.23 M1150.74 2119.30 L1151.40 2117.58 L1152.47 2114.78 L1153.54 2111.98 L1154.61 2109.17 L1155.68 2106.37 L1156.75 2103.57 L1157.83 2100.77 L1158.66 2098.60 M1162.16 2089.68 L1163.29 2086.84 L1164.41 2084.06 L1165.54 2081.30 L1166.69 2078.54 L1167.85 2075.78 L1169.03 2073.04 L1170.23 2070.30 L1170.70 2069.23 M1174.66 2060.50 L1175.17 2059.41 L1176.44 2056.70 L1177.71 2053.99 L1179.00 2051.29 L1180.30 2048.59 L1181.60 2045.89 L1182.90 2043.19 L1184.21 2040.50 M1188.40 2031.88 L1189.46 2029.70 L1190.77 2027.00 L1192.07 2024.29 L1193.37 2021.58 L1194.66 2018.87 L1195.94 2016.14 L1197.21 2013.42 L1197.93 2011.87 M1201.87 2003.13 L1203.37 1999.69 L1204.56 1996.92 L1205.74 1994.16 L1206.91 1991.39 L1208.07 1988.62 L1209.23 1985.84 L1210.52 1982.72 M1214.17 1973.86 L1214.95 1971.97 L1216.09 1969.20 L1217.24 1966.43 L1218.39 1963.67 L1219.55 1960.90 L1220.72 1958.15 L1221.89 1955.40 L1222.75 1953.42 M1226.62 1944.66 L1227.96 1941.73 L1229.22 1939.03 L1230.50 1936.33 L1231.79 1933.64 L1233.11 1930.95 L1234.44 1928.27 L1235.78 1925.60 L1236.25 1924.69 M1240.66 1916.19 L1241.29 1914.98 L1242.70 1912.34 L1244.11 1909.70 L1245.54 1907.06 L1246.97 1904.43 L1248.40 1901.80 L1249.84 1899.17 L1251.21 1896.69 M1255.84 1888.30 L1257.09 1886.05 L1258.54 1883.42 L1260.00 1880.80 L1261.46 1878.19 L1262.92 1875.58 L1264.41 1872.98 L1265.90 1870.40 L1266.73 1869.00 M1271.75 1860.83 L1273.76 1857.74 L1275.43 1855.28 L1277.15 1852.85 L1278.90 1850.45 L1280.71 1848.09 L1282.56 1845.77 L1284.89 1843.01 M1291.47 1836.04 L1292.65 1834.90 L1294.84 1832.90 L1297.10 1830.97 L1299.41 1829.11 L1301.79 1827.32 L1304.22 1825.62 L1306.71 1824.00 L1309.03 1822.62 M1317.62 1818.37 L1320.03 1817.41 L1322.84 1816.43 L1325.70 1815.57 L1328.59 1814.84 L1331.52 1814.24 L1334.47 1813.77 L1337.45 1813.45 L1339.10 1813.36 M1348.66 1813.71 L1352.39 1814.35 L1355.31 1815.12 L1358.18 1816.07 L1360.99 1817.21 L1363.72 1818.52 L1366.39 1819.99 L1369.13 1821.69 M1376.76 1827.48 L1378.54 1829.03 L1380.77 1831.09 L1382.93 1833.21 L1385.04 1835.38 L1387.10 1837.59 L1389.12 1839.84 L1391.11 1842.12 L1392.17 1843.38 M1398.24 1850.79 L1398.75 1851.43 L1400.61 1853.80 L1402.45 1856.18 L1404.28 1858.58 L1406.08 1860.99 L1407.87 1863.41 L1409.64 1865.84 L1411.55 1868.51 M1417.00 1876.40 L1418.22 1878.21 L1419.89 1880.72 L1421.53 1883.24 L1423.16 1885.78 L1424.78 1888.32 L1426.37 1890.87 L1427.95 1893.44 L1428.94 1895.07 M1433.83 1903.31 L1435.61 1906.40 L1437.09 1909.01 L1438.56 1911.64 L1440.01 1914.28 L1441.45 1916.92 L1442.88 1919.57 L1444.54 1922.71 M1448.94 1931.23 L1449.80 1932.93 L1451.15 1935.62 L1452.48 1938.31 L1453.81 1941.02 L1455.12 1943.72 L1456.42 1946.44 L1457.70 1949.15 L1458.64 1951.16 M1462.66 1959.86 L1463.99 1962.81 L1465.22 1965.55 L1466.45 1968.30 L1467.66 1971.05 L1468.87 1973.80 L1470.06 1976.56 L1471.25 1979.32 L1471.61 1980.14 M1475.35 1988.96 L1475.95 1990.38 L1477.11 1993.15 L1478.27 1995.92 L1479.42 1998.70 L1480.56 2001.47 L1481.70 2004.25 L1482.84 2007.03 L1483.82 2009.44 M1487.40 2018.33 L1488.45 2020.96 L1489.56 2023.75 L1490.67 2026.54 L1491.77 2029.34 L1492.86 2032.13 L1493.96 2034.93 L1495.05 2037.73 L1495.53 2038.95 M1498.98 2047.89 L1499.38 2048.93 L1500.45 2051.73 L1501.52 2054.54 L1502.59 2057.34 L1503.66 2060.15 L1504.72 2062.96 L1505.78 2065.76 L1506.86 2068.61 M1510.22 2077.59 L1511.05 2079.82 L1512.10 2082.63 L1513.15 2085.44 L1514.19 2088.25 L1515.23 2091.07 L1516.27 2093.88 L1517.31 2096.70 L1517.93 2098.37 M1521.24 2107.36 L1522.50 2110.78 L1523.53 2113.59 L1524.57 2116.41 L1525.60 2119.23 L1526.63 2122.04 L1527.67 2124.86 L1528.88 2128.17 M1532.18 2137.17 L1532.83 2138.94 L1533.86 2141.76 L1534.90 2144.58 L1535.93 2147.39 L1536.97 2150.21 L1538.00 2153.02 L1539.04 2155.84 L1539.83 2157.97 M1543.15 2166.96 L1544.24 2169.90 L1545.28 2172.71 L1546.33 2175.52 L1547.37 2178.33 L1548.42 2181.14 L1549.47 2183.95 L1550.53 2186.76 L1550.89 2187.73 M1554.28 2196.70 L1554.76 2197.98 L1555.83 2200.78 L1556.89 2203.58 L1557.96 2206.38 L1559.04 2209.18 L1560.11 2211.98 L1561.19 2214.78 L1562.22 2217.43 M1565.70 2226.38 L1566.63 2228.74 L1567.73 2231.53 L1568.84 2234.32 L1569.94 2237.10 L1571.05 2239.88 L1572.17 2242.67 L1573.29 2245.45 L1573.92 2247.00 M1577.54 2255.89 L1578.95 2259.32 L1580.10 2262.09 L1581.25 2264.85 L1582.40 2267.62 L1583.57 2270.38 L1584.73 2273.14 L1586.11 2276.37 M1589.90 2285.19 L1590.65 2286.90 L1591.85 2289.65 L1593.05 2292.39 L1594.27 2295.13 L1595.48 2297.86 L1596.71 2300.60 L1597.94 2303.33 L1598.91 2305.48 M1602.92 2314.20 L1604.19 2316.94 L1605.46 2319.65 L1606.74 2322.36 L1608.02 2325.06 L1609.32 2327.77 L1610.62 2330.46 L1611.92 2333.16 L1612.45 2334.25 M1616.70 2342.86 L1617.23 2343.90 L1618.57 2346.57 L1619.92 2349.25 L1621.28 2351.91 L1622.65 2354.58 L1624.03 2357.23 L1625.42 2359.89 L1626.85 2362.60 M1631.38 2371.07 L1632.47 2373.09 L1633.91 2375.72 L1635.36 2378.34 L1636.81 2380.96 L1638.28 2383.57 L1639.75 2386.17 L1641.23 2388.77 L1642.20 2390.45 M1647.04 2398.74 L1648.79 2401.69 L1650.33 2404.26 L1651.88 2406.82 L1653.44 2409.38 L1655.01 2411.93 L1656.59 2414.47 L1658.18 2417.01 L1658.61 2417.69 M1663.78 2425.77 L1664.64 2427.09 L1666.28 2429.59 L1667.93 2432.09 L1669.59 2434.58 L1671.26 2437.06 L1672.94 2439.54 L1674.64 2442.01 L1676.16 2444.20" stroke="#ff7f0e" stroke-width="6" stroke-linecap="butt"/>
<path d="M249.50 2547.28 L252.48 2547.65 L255.45 2548.01 L258.43 2548.34 L261.42 2548.66 L264.40 2548.96 L267.39 2549.24 L270.73 2549.52 M280.20 2550.22 L282.34 2550.35 L285.34 2550.52 L288.33 2550.67 L291.33 2550.81 L294.33 2550.92 L297.32 2551.02 L300.32 2551.11 L301.91 2551.14 M311.30 2551.26 L312.32 2551.27 L315.32 2551.27 L318.32 2551.26 L321.32 2551.23 L324.32 2551.18 L327.32 2551.12 L330.32 2551.05 L333.43 2550.96 M343.00 2550.58 L345.31 2550.47 L348.31 2550.31 L351.30 2550.14 L354.30 2549.96 L357.29 2549.77 L360.28 2549.56 L363.28 2549.35 L364.79 2549.23 M374.20 2548.46 L375.24 2548.37 L378.23 2548.10 L381.21 2547.82 L384.20 2547.53 L387.19 2547.24 L390.17 2546.93 L393.15 2546.61 L395.93 2546.31 M405.30 2545.16 L408.05 2544.79 L411.02 2544.34 L413.98 2543.87 L416.94 2543.36 L419.89 2542.80 L422.83 2542.20 L425.77 2541.55 L427.57 2541.12 M437.00 2538.49 L440.22 2537.42 L443.05 2536.40 L445.86 2535.30 L448.63 2534.12 L451.37 2532.85 L454.06 2531.48 L456.07 2530.35 M463.49 2525.24 L464.16 2524.70 L466.42 2522.64 L468.56 2520.43 L470.57 2518.11 L472.45 2515.69 L474.23 2513.19 L475.89 2510.61 L477.39 2508.09 M481.79 2499.55 L482.92 2497.08 L484.13 2494.30 L485.29 2491.51 L486.43 2488.70 L487.53 2485.90 L488.62 2483.09 L489.68 2480.27 L490.16 2479.00 M493.44 2469.98 L493.80 2468.96 L494.80 2466.12 L495.79 2463.28 L496.77 2460.43 L497.74 2457.59 L498.70 2454.74 L499.66 2451.90 L500.63 2448.98 M503.66 2439.87 L504.39 2437.66 L505.34 2434.82 L506.29 2431.97 L507.25 2429.13 L508.21 2426.29 L509.17 2423.45 L510.14 2420.62 L510.75 2418.83 M513.83 2409.74 L514.96 2406.40 L515.91 2403.55 L516.86 2400.70 L517.80 2397.84 L518.73 2394.98 L519.65 2392.12 L520.75 2388.64 M523.58 2379.47 L524.10 2377.76 L524.96 2374.88 L525.81 2371.99 L526.65 2369.10 L527.48 2366.21 L528.30 2363.32 L529.11 2360.43 L529.74 2358.14 M532.24 2348.87 L533.02 2345.91 L533.77 2343.00 L534.51 2340.09 L535.25 2337.17 L535.97 2334.25 L536.69 2331.34 L537.40 2328.41 L537.65 2327.34 M539.86 2318.00 L540.15 2316.72 L540.83 2313.79 L541.49 2310.86 L542.15 2307.94 L542.81 2305.01 L543.47 2302.08 L544.11 2299.15 L544.73 2296.34 M546.79 2286.96 L547.33 2284.49 L547.96 2281.56 L548.60 2278.63 L549.24 2275.69 L549.88 2272.76 L550.52 2269.83 L551.16 2266.90 L551.52 2265.28 M553.60 2255.90 L554.42 2252.27 L555.08 2249.35 L555.75 2246.43 L556.42 2243.51 L557.10 2240.59 L557.79 2237.67 L558.60 2234.27 M560.87 2224.95 L561.33 2223.12 L562.06 2220.22 L562.80 2217.32 L563.56 2214.42 L564.32 2211.53 L565.09 2208.64 L565.87 2205.74 L566.52 2203.37 M569.09 2194.07 L569.86 2191.30 L570.66 2188.40 L571.46 2185.51 L572.26 2182.62 L573.06 2179.72 L573.85 2176.83 L574.64 2173.93 L575.00 2172.57 M577.44 2163.24 L577.68 2162.28 L578.40 2159.36 L579.11 2156.43 L579.79 2153.49 L580.45 2150.55 L581.09 2147.61 L581.70 2144.66 L582.34 2141.48 M584.16 2132.02 L584.56 2129.92 L585.12 2126.98 L585.68 2124.03 L586.25 2121.09 L586.84 2118.15 L587.44 2115.22 L588.05 2112.29 L588.50 2110.24 M590.72 2100.91 L591.54 2097.80 L592.34 2094.94 L593.18 2092.09 L594.06 2089.25 L594.97 2086.42 L595.91 2083.59 L596.88 2080.77 L597.25 2079.70 M600.50 2070.66 L600.92 2069.51 L601.95 2066.69 L602.99 2063.87 L604.02 2061.05 L605.05 2058.23 L606.07 2055.41 L607.10 2052.60 L608.13 2049.81 M611.65 2040.88 L612.55 2038.75 L613.75 2036.04 L615.01 2033.36 L616.32 2030.71 L617.70 2028.10 L619.14 2025.52 L620.65 2022.98 L621.80 2021.17 M627.51 2013.46 L629.49 2011.26 L631.58 2009.20 L633.79 2007.28 L636.13 2005.52 L638.62 2003.97 L641.24 2002.65 L644.00 2001.60 L645.57 2001.18 M655.08 2000.09 L658.78 2000.26 L661.76 2000.61 L664.73 2001.09 L667.68 2001.67 L670.62 2002.32 L673.54 2003.03 L676.89 2003.87 M686.18 2006.30 L688.06 2006.80 L690.95 2007.63 L693.83 2008.51 L696.68 2009.48 L699.50 2010.57 L702.27 2011.81 L704.96 2013.21 L706.80 2014.30 M714.56 2019.94 L717.15 2022.25 L719.34 2024.37 L721.44 2026.57 L723.46 2028.84 L725.41 2031.17 L727.30 2033.55 L729.40 2036.37 M734.80 2044.31 L735.88 2046.03 L737.47 2048.60 L739.01 2051.20 L740.53 2053.81 L742.01 2056.45 L743.46 2059.10 L744.88 2061.76 L745.82 2063.57 M750.12 2072.15 L751.61 2075.26 L752.89 2077.98 L754.15 2080.71 L755.40 2083.45 L756.64 2086.19 L757.87 2088.94 L759.37 2092.33 M763.24 2101.12 L763.92 2102.68 L765.13 2105.42 L766.33 2108.17 L767.54 2110.92 L768.74 2113.66 L769.95 2116.41 L771.16 2119.15 L772.17 2121.45 M776.03 2130.23 L777.20 2132.88 L778.40 2135.63 L779.61 2138.38 L780.82 2141.12 L782.03 2143.87 L783.24 2146.61 L784.45 2149.36 L784.95 2150.49 M788.81 2159.24 L789.29 2160.34 L790.50 2163.08 L791.71 2165.82 L792.93 2168.57 L794.14 2171.31 L795.35 2174.06 L796.56 2176.80 L797.75 2179.49 M801.62 2188.24 L802.63 2190.52 L803.85 2193.26 L805.06 2196.00 L806.28 2198.74 L807.49 2201.49 L808.71 2204.23 L809.93 2206.97 L810.59 2208.47 M814.48 2217.22 L816.02 2220.68 L817.24 2223.42 L818.46 2226.16 L819.68 2228.90 L820.90 2231.63 L822.13 2234.37 L823.50 2237.43 M827.43 2246.15 L828.29 2248.03 L829.53 2250.76 L830.78 2253.48 L832.04 2256.20 L833.30 2258.92 L834.56 2261.63 L835.84 2264.34 L836.73 2266.23 M840.87 2274.86 L842.32 2277.84 L843.64 2280.52 L844.98 2283.20 L846.32 2285.87 L847.68 2288.54 L849.04 2291.21 L850.42 2293.86 L850.82 2294.63 M855.32 2303.07 L856.05 2304.42 L857.49 2307.04 L858.94 2309.66 L860.41 2312.26 L861.89 2314.86 L863.38 2317.45 L864.89 2320.03 L866.25 2322.31 M871.24 2330.48 L872.69 2332.78 L874.29 2335.30 L875.92 2337.81 L877.56 2340.31 L879.22 2342.80 L880.89 2345.27 L882.59 2347.74 L883.43 2348.95 M889.03 2356.71 L889.56 2357.43 L891.37 2359.81 L893.20 2362.16 L895.06 2364.49 L896.95 2366.80 L898.87 2369.08 L900.82 2371.33 L903.05 2373.81 M909.72 2380.68 L911.15 2382.06 L913.33 2384.08 L915.56 2386.05 L917.84 2387.96 L920.17 2389.81 L922.55 2391.60 L924.98 2393.31 L926.90 2394.56 M935.26 2399.21 L938.00 2400.42 L940.78 2401.49 L943.61 2402.42 L946.49 2403.20 L949.40 2403.84 L952.35 2404.35 L955.32 2404.75 L956.54 2404.89 M966.07 2405.67 L967.27 2405.75 L970.26 2405.93 L973.26 2406.13 L976.25 2406.36 L979.24 2406.64 L982.22 2406.97 L985.20 2407.38 L988.08 2407.87 M997.41 2409.98 L999.87 2410.64 L1002.75 2411.46 L1005.63 2412.33 L1008.50 2413.22 L1011.36 2414.13 L1014.22 2415.05 L1017.07 2415.97 L1018.57 2416.46 M1027.71 2419.28 L1028.52 2419.51 L1031.41 2420.31 L1034.31 2421.04 L1037.23 2421.70 L1040.17 2422.26 L1043.12 2422.73 L1046.10 2423.06 L1049.43 2423.26 M1058.96 2422.61 L1061.04 2422.22 L1063.96 2421.44 L1066.82 2420.47 L1069.63 2419.35 L1072.38 2418.10 L1075.08 2416.75 L1077.74 2415.31 L1079.37 2414.38 M1087.57 2409.45 L1090.62 2407.56 L1093.16 2405.96 L1095.70 2404.36 L1098.24 2402.75 L1100.77 2401.13 L1103.29 2399.50 L1106.24 2397.57 M1114.21 2392.27 L1115.80 2391.19 L1118.28 2389.50 L1120.75 2387.79 L1123.22 2386.08 L1125.67 2384.35 L1128.12 2382.60 L1130.56 2380.85 L1132.33 2379.56 M1140.02 2373.86 L1142.62 2371.89 L1145.00 2370.06 L1147.37 2368.21 L1149.74 2366.35 L1152.09 2364.48 L1154.43 2362.60 L1156.76 2360.70 L1157.40 2360.17 M1164.72 2354.01 L1165.95 2352.95 L1168.22 2350.97 L1170.47 2348.98 L1172.71 2346.97 L1174.93 2344.95 L1177.14 2342.90 L1179.34 2340.85 L1181.12 2339.15 M1187.94 2332.44 L1190.05 2330.28 L1192.14 2328.11 L1194.20 2325.92 L1196.26 2323.72 L1198.29 2321.50 L1200.30 2319.27 L1202.30 2317.02 L1203.00 2316.23 M1209.24 2308.97 L1210.15 2307.89 L1212.07 2305.59 L1213.99 2303.27 L1215.89 2300.94 L1217.78 2298.60 L1219.66 2296.26 L1221.54 2293.91 L1223.20 2291.80 M1229.10 2284.27 L1230.80 2282.09 L1232.63 2279.71 L1234.47 2277.34 L1236.30 2274.96 L1238.13 2272.58 L1239.96 2270.21 L1241.79 2267.83 L1242.63 2266.75 M1248.49 2259.19 L1249.14 2258.36 L1250.99 2256.00 L1252.84 2253.64 L1254.70 2251.29 L1256.56 2248.94 L1258.43 2246.59 L1260.30 2244.25 L1262.23 2241.84 M1268.26 2234.41 L1269.73 2232.61 L1271.64 2230.30 L1273.55 2227.99 L1275.47 2225.69 L1277.39 2223.39 L1279.32 2221.10 L1281.26 2218.82 L1282.45 2217.42 M1288.70 2210.18 L1291.06 2207.49 L1293.04 2205.24 L1295.03 2203.00 L1297.03 2200.77 L1299.03 2198.54 L1301.04 2196.32 L1303.44 2193.67 M1309.84 2186.56 L1311.08 2185.17 L1313.08 2182.92 L1315.07 2180.67 L1317.06 2178.42 L1319.03 2176.16 L1321.01 2173.89 L1322.97 2171.62 L1324.43 2169.92 M1330.61 2162.61 L1332.67 2160.14 L1334.58 2157.82 L1336.48 2155.49 L1338.37 2153.16 L1340.25 2150.81 L1342.12 2148.46 L1343.98 2146.10 L1344.52 2145.40 M1350.41 2137.86 L1351.37 2136.64 L1353.23 2134.31 L1355.11 2131.99 L1357.02 2129.70 L1358.97 2127.44 L1360.95 2125.22 L1362.97 2123.04 L1364.85 2121.11 M1371.96 2114.71 L1373.98 2113.18 L1376.44 2111.56 L1379.01 2110.12 L1381.70 2108.89 L1384.49 2107.90 L1387.36 2107.15 L1390.30 2106.63 L1392.13 2106.44 M1401.68 2106.52 L1405.24 2107.01 L1408.19 2107.60 L1411.11 2108.34 L1414.00 2109.22 L1416.84 2110.24 L1419.63 2111.39 L1422.75 2112.87 M1431.00 2117.72 L1432.74 2118.92 L1435.18 2120.73 L1437.55 2122.61 L1439.86 2124.57 L1442.12 2126.59 L1444.32 2128.67 L1446.47 2130.80 L1447.74 2132.13 M1454.15 2139.23 L1456.54 2142.06 L1458.45 2144.40 L1460.33 2146.75 L1462.18 2149.12 L1464.02 2151.51 L1465.84 2153.90 L1467.86 2156.60 M1473.47 2164.35 L1474.69 2166.07 L1476.42 2168.54 L1478.12 2171.02 L1479.81 2173.51 L1481.49 2176.01 L1483.15 2178.52 L1484.80 2181.04 L1485.86 2182.68 M1490.98 2190.77 L1492.83 2193.76 L1494.40 2196.32 L1495.95 2198.90 L1497.50 2201.47 L1499.03 2204.06 L1500.56 2206.65 L1502.39 2209.81 M1507.16 2218.14 L1508.03 2219.69 L1509.50 2222.32 L1510.96 2224.94 L1512.41 2227.57 L1513.86 2230.21 L1515.29 2232.85 L1516.72 2235.49 L1517.86 2237.59 M1522.37 2246.06 L1523.79 2248.74 L1525.18 2251.40 L1526.58 2254.06 L1527.97 2256.72 L1529.35 2259.39 L1530.74 2262.05 L1532.12 2264.72 L1532.65 2265.74 M1537.05 2274.28 L1537.62 2275.39 L1538.99 2278.05 L1540.36 2280.72 L1541.73 2283.39 L1543.10 2286.06 L1544.48 2288.73 L1545.85 2291.39 L1547.20 2294.02 M1551.62 2302.56 L1552.74 2304.71 L1554.12 2307.37 L1555.51 2310.02 L1556.90 2312.68 L1558.30 2315.33 L1559.70 2317.98 L1561.11 2320.62 L1562.27 2322.79 M1566.96 2331.49 L1568.22 2333.81 L1569.66 2336.43 L1571.11 2339.05 L1572.57 2341.67 L1574.03 2344.28 L1575.50 2346.89 L1576.98 2349.50 L1577.77 2350.87 M1582.58 2359.18 L1584.49 2362.45 L1586.02 2365.02 L1587.56 2367.60 L1589.10 2370.16 L1590.65 2372.72 L1592.21 2375.28 L1594.01 2378.21 M1599.10 2386.35 L1600.13 2387.98 L1601.74 2390.51 L1603.36 2393.03 L1604.99 2395.54 L1606.62 2398.05 L1608.27 2400.55 L1609.92 2403.05 L1611.20 2404.96 M1616.59 2412.91 L1618.33 2415.44 L1620.04 2417.89 L1621.76 2420.35 L1623.49 2422.79 L1625.22 2425.23 L1626.97 2427.66 L1628.73 2430.09 L1629.42 2431.03 M1635.13 2438.74 L1635.85 2439.71 L1637.66 2442.10 L1639.48 2444.48 L1641.30 2446.85 L1643.14 2449.21 L1644.99 2451.57 L1646.85 2453.92 L1648.74 2456.28 M1654.80 2463.72 L1656.30 2465.52 L1658.22 2467.82 L1660.15 2470.10 L1662.10 2472.38 L1664.05 2474.65 L1666.02 2476.90 L1668.00 2479.15 L1669.26 2480.57 M1675.71 2487.68 L1677.40 2489.51" stroke="#2ca02c" stroke-width="6" stroke-linecap="butt"/>
</g>
<path d="M408.16 2552.90 v14.00 M725.47 2552.90 v14.00 M1042.78 2552.90 v14.00 M1360.09 2552.90 v14.00 M1677.40 2552.90 v14.00 M249.50 2552.90 h-14.00 M249.50 2375.57 h-14.00 M249.50 2198.23 h-14.00 M249.50 2020.90 h-14.00 M249.50 1843.57 h-14.00 M249.50 1666.23 h-14.00 M249.50 1488.90 h-14.00" stroke="#000" stroke-width="3.20" fill="none"/>
<rect x="249.50" y="1488.90" width="1427.90" height="1064.00" fill="none" stroke="#000" stroke-width="3.20" stroke-linejoin="miter"/>
<g font-size="56.0">
<text x="408.2" y="2622.4" text-anchor="middle">20</text>
<text x="725.5" y="2622.4" text-anchor="middle">40</text>
<text x="1042.8" y="2622.4" text-anchor="middle">60</text>
<text x="1360.1" y="2622.4" text-anchor="middle">80</text>
<text x="1677.4" y="2622.4" text-anchor="middle">100</text>
<text x="221.0" y="2573.3" text-anchor="end">0</text>
<text x="221.0" y="2396.0" text-anchor="end">20</text>
<text x="221.0" y="2218.6" text-anchor="end">40</text>
<text x="221.0" y="2041.3" text-anchor="end">60</text>
<text x="221.0" y="1864.0" text-anchor="end">80</text>
<text x="221.0" y="1686.6" text-anchor="end">100</text>
<text x="221.0" y="1509.3" text-anchor="end">120</text>
</g>
<text x="964.5" y="1464.1" font-size="48.0" text-anchor="middle" xml:space="preserve"><tspan>070918 -</tspan><tspan class="b">155nm</tspan><tspan>, shots: 21-28</tspan></text>
<text x="964.5" y="2693.2" font-size="56.0" text-anchor="middle" xml:space="preserve"><tspan class="b">Time</tspan> (<tspan class="i">μs</tspan>)</text>
<text transform="translate(86 2019.1) rotate(-90)" font-size="56.0" text-anchor="middle" xml:space="preserve"><tspan class="b">PhotoCurrent</tspan> (<tspan class="i">μA</tspan>)</text>
</svg></body></html>
